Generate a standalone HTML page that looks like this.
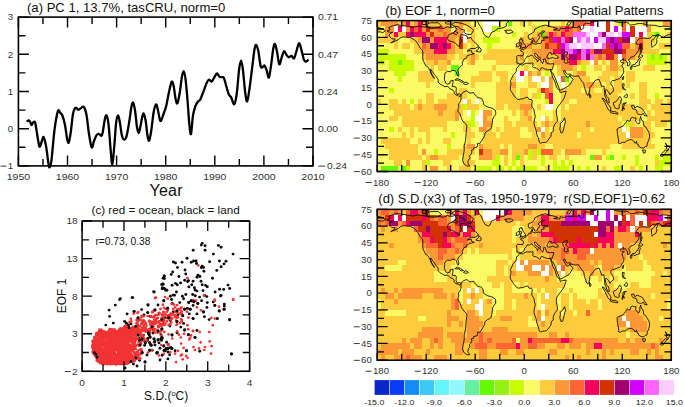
<!DOCTYPE html>
<html><head><meta charset="utf-8"><style>
html,body{margin:0;padding:0;background:#fff;}
body{width:685px;height:407px;overflow:hidden;}
svg{display:block;font-family:"Liberation Sans",sans-serif;}
</style></head><body>
<svg width="685" height="407" viewBox="0 0 685 407">
<path d="M27.50,121.00 C27.70,120.88 28.28,120.22 28.70,120.30 C29.12,120.38 29.55,120.73 30.00,121.50 C30.45,122.27 30.97,124.62 31.40,124.90 C31.83,125.18 32.20,123.68 32.60,123.20 C33.00,122.72 33.37,122.08 33.80,122.00 C34.23,121.92 34.73,121.22 35.20,122.70 C35.67,124.18 36.08,127.80 36.60,130.90 C37.12,134.00 37.77,138.65 38.30,141.30 C38.83,143.95 39.08,147.23 39.80,146.80 C40.52,146.37 41.93,140.25 42.60,138.70 C43.27,137.15 43.20,136.12 43.80,137.50 C44.40,138.88 45.40,142.50 46.20,147.00 C47.00,151.50 48.00,161.17 48.60,164.50 C49.20,167.83 49.32,167.75 49.80,167.00 C50.28,166.25 50.72,166.17 51.50,160.00 C52.28,153.83 53.43,138.13 54.50,130.00 C55.57,121.87 56.95,114.07 57.90,111.20 C58.85,108.33 59.45,112.08 60.20,112.80 C60.95,113.52 61.60,113.47 62.40,115.50 C63.20,117.53 64.23,121.25 65.00,125.00 C65.77,128.75 66.38,135.07 67.00,138.00 C67.62,140.93 68.07,143.60 68.70,142.60 C69.33,141.60 70.08,136.77 70.80,132.00 C71.52,127.23 72.20,118.05 73.00,114.00 C73.80,109.95 74.73,108.40 75.60,107.70 C76.47,107.00 77.38,109.67 78.20,109.80 C79.02,109.93 79.57,108.98 80.50,108.50 C81.43,108.02 82.80,105.82 83.80,106.90 C84.80,107.98 85.63,110.48 86.50,115.00 C87.37,119.52 88.13,128.60 89.00,134.00 C89.87,139.40 90.87,146.23 91.70,147.40 C92.53,148.57 93.18,143.05 94.00,141.00 C94.82,138.95 95.77,136.27 96.60,135.10 C97.43,133.93 98.18,133.88 99.00,134.00 C99.82,134.12 100.88,136.05 101.50,135.80 C102.12,135.55 102.13,135.28 102.70,132.50 C103.27,129.72 104.25,121.93 104.90,119.10 C105.55,116.27 105.98,114.52 106.60,115.50 C107.22,116.48 107.95,119.58 108.60,125.00 C109.25,130.42 109.88,141.40 110.50,148.00 C111.12,154.60 111.67,164.93 112.30,164.60 C112.93,164.27 113.67,152.93 114.30,146.00 C114.93,139.07 115.50,128.08 116.10,123.00 C116.70,117.92 117.28,115.67 117.90,115.50 C118.52,115.33 119.15,118.75 119.80,122.00 C120.45,125.25 121.13,132.08 121.80,135.00 C122.47,137.92 123.02,139.28 123.80,139.50 C124.58,139.72 125.60,139.22 126.50,136.30 C127.40,133.38 128.38,126.88 129.20,122.00 C130.02,117.12 130.73,110.22 131.40,107.00 C132.07,103.78 132.58,102.03 133.20,102.70 C133.82,103.37 134.48,107.03 135.10,111.00 C135.72,114.97 136.32,122.82 136.90,126.50 C137.48,130.18 138.00,133.18 138.60,133.10 C139.20,133.02 139.88,128.77 140.50,126.00 C141.12,123.23 141.77,118.55 142.30,116.50 C142.83,114.45 143.13,112.95 143.70,113.70 C144.27,114.45 145.08,117.45 145.70,121.00 C146.32,124.55 146.83,131.70 147.40,135.00 C147.97,138.30 148.47,141.47 149.10,140.80 C149.73,140.13 150.45,135.72 151.20,131.00 C151.95,126.28 152.80,116.93 153.60,112.50 C154.40,108.07 155.30,104.90 156.00,104.40 C156.70,103.90 157.22,107.23 157.80,109.50 C158.38,111.77 158.98,116.10 159.50,118.00 C160.02,119.90 160.25,121.48 160.90,120.90 C161.55,120.32 162.50,117.05 163.40,114.50 C164.30,111.95 165.40,109.18 166.30,105.60 C167.20,102.02 167.90,96.97 168.80,93.00 C169.70,89.03 170.88,82.88 171.70,81.80 C172.52,80.72 173.03,83.55 173.70,86.50 C174.37,89.45 175.08,96.72 175.70,99.50 C176.32,102.28 176.73,104.28 177.40,103.20 C178.07,102.12 178.98,97.20 179.70,93.00 C180.42,88.80 181.07,81.63 181.70,78.00 C182.33,74.37 182.88,71.20 183.50,71.20 C184.12,71.20 184.73,73.20 185.40,78.00 C186.07,82.80 186.85,92.33 187.50,100.00 C188.15,107.67 188.72,118.33 189.30,124.00 C189.88,129.67 190.40,135.33 191.00,134.00 C191.60,132.67 192.17,120.63 192.90,116.00 C193.63,111.37 194.57,108.58 195.40,106.20 C196.23,103.82 197.08,102.82 197.90,101.70 C198.72,100.58 199.37,101.22 200.30,99.50 C201.23,97.78 202.43,94.18 203.50,91.40 C204.57,88.62 205.80,84.77 206.70,82.80 C207.60,80.83 208.08,79.80 208.90,79.60 C209.72,79.40 210.72,81.95 211.60,81.60 C212.48,81.25 213.30,78.85 214.20,77.50 C215.10,76.15 216.12,73.63 217.00,73.50 C217.88,73.37 218.70,76.08 219.50,76.70 C220.30,77.32 221.07,77.00 221.80,77.20 C222.53,77.40 223.13,76.35 223.90,77.90 C224.67,79.45 225.58,83.75 226.40,86.50 C227.22,89.25 227.98,92.55 228.80,94.40 C229.62,96.25 230.40,95.97 231.30,97.60 C232.20,99.23 233.30,104.80 234.20,104.20 C235.10,103.60 235.88,99.78 236.70,94.00 C237.52,88.22 238.37,75.05 239.10,69.50 C239.83,63.95 240.47,60.70 241.10,60.70 C241.73,60.70 242.22,64.20 242.90,69.50 C243.58,74.80 244.48,87.20 245.20,92.50 C245.92,97.80 246.43,102.30 247.20,101.30 C247.97,100.30 248.95,92.30 249.80,86.50 C250.65,80.70 251.53,72.58 252.30,66.50 C253.07,60.42 253.78,53.62 254.40,50.00 C255.02,46.38 255.35,44.63 256.00,44.80 C256.65,44.97 257.53,47.47 258.30,51.00 C259.07,54.53 259.90,63.28 260.60,66.00 C261.30,68.72 261.83,67.37 262.50,67.30 C263.17,67.23 263.90,65.07 264.60,65.60 C265.30,66.13 265.98,68.50 266.70,70.50 C267.42,72.50 268.17,78.52 268.90,77.60 C269.63,76.68 270.37,69.85 271.10,65.00 C271.83,60.15 272.65,52.00 273.30,48.50 C273.95,45.00 274.38,43.50 275.00,44.00 C275.62,44.50 276.28,48.13 277.00,51.50 C277.72,54.87 278.52,63.23 279.30,64.20 C280.08,65.17 280.88,59.48 281.70,57.30 C282.52,55.12 283.37,51.43 284.20,51.10 C285.03,50.77 285.88,54.27 286.70,55.30 C287.52,56.33 288.30,57.22 289.10,57.30 C289.90,57.38 290.67,55.63 291.50,55.80 C292.33,55.97 293.32,58.93 294.10,58.30 C294.88,57.67 295.38,54.52 296.20,52.00 C297.02,49.48 298.15,43.62 299.00,43.20 C299.85,42.78 300.50,46.82 301.30,49.50 C302.10,52.18 303.05,57.27 303.80,59.30 C304.55,61.33 305.13,61.53 305.80,61.70 C306.47,61.87 307.47,60.53 307.80,60.30" fill="none" stroke="#000" stroke-width="2.3" stroke-linejoin="round" stroke-linecap="round"/>
<path d="M18.40,165.90v-10.50 M18.40,17.10v10.50 M42.95,165.90v-7.00 M42.95,17.10v7.00 M67.50,165.90v-10.50 M67.50,17.10v10.50 M92.05,165.90v-7.00 M92.05,17.10v7.00 M116.60,165.90v-10.50 M116.60,17.10v10.50 M141.15,165.90v-7.00 M141.15,17.10v7.00 M165.70,165.90v-10.50 M165.70,17.10v10.50 M190.25,165.90v-7.00 M190.25,17.10v7.00 M214.80,165.90v-10.50 M214.80,17.10v10.50 M239.35,165.90v-7.00 M239.35,17.10v7.00 M263.90,165.90v-10.50 M263.90,17.10v10.50 M288.45,165.90v-7.00 M288.45,17.10v7.00 M313.00,165.90v-10.50 M313.00,17.10v10.50 M18.40,17.10h10.50 M313.00,17.10h-10.50 M18.40,35.70h7.00 M313.00,35.70h-7.00 M18.40,54.30h10.50 M313.00,54.30h-10.50 M18.40,72.90h7.00 M313.00,72.90h-7.00 M18.40,91.50h10.50 M313.00,91.50h-10.50 M18.40,110.10h7.00 M313.00,110.10h-7.00 M18.40,128.70h10.50 M313.00,128.70h-10.50 M18.40,147.30h7.00 M313.00,147.30h-7.00 M18.40,165.90h10.50 M313.00,165.90h-10.50" stroke="#000" stroke-width="1.4" fill="none"/>
<rect x="18.40" y="17.10" width="294.60" height="148.80" fill="none" stroke="#000" stroke-width="1.6"/>
<text transform="translate(13.20,20.40) scale(1.120,1)" text-anchor="end" font-size="8.60" fill="#333">3</text>
<text transform="translate(13.20,57.60) scale(1.120,1)" text-anchor="end" font-size="8.60" fill="#333">2</text>
<text transform="translate(13.20,94.80) scale(1.120,1)" text-anchor="end" font-size="8.60" fill="#333">1</text>
<text transform="translate(13.20,132.00) scale(1.120,1)" text-anchor="end" font-size="8.60" fill="#333">0</text>
<rect x="0.54" y="165.65" width="6.00" height="0.95" fill="#333"/><text transform="translate(7.84,169.20) scale(1.120,1)" text-anchor="start" font-size="8.60" fill="#333">1</text>
<text transform="translate(318.00,20.40) scale(1.200,1)" text-anchor="start" font-size="8.60" fill="#333">0.71</text>
<text transform="translate(318.00,57.60) scale(1.200,1)" text-anchor="start" font-size="8.60" fill="#333">0.47</text>
<text transform="translate(318.00,94.80) scale(1.200,1)" text-anchor="start" font-size="8.60" fill="#333">0.24</text>
<text transform="translate(318.00,132.00) scale(1.200,1)" text-anchor="start" font-size="8.60" fill="#333">0.00</text>
<rect x="318.30" y="165.65" width="7.00" height="0.95" fill="#333"/><text transform="translate(327.00,169.20) scale(1.200,1)" text-anchor="start" font-size="8.60" fill="#333">0.24</text>
<text transform="translate(18.40,180.10) scale(1.220,1)" text-anchor="middle" font-size="8.60" fill="#333">1950</text>
<text transform="translate(67.50,180.10) scale(1.220,1)" text-anchor="middle" font-size="8.60" fill="#333">1960</text>
<text transform="translate(116.60,180.10) scale(1.220,1)" text-anchor="middle" font-size="8.60" fill="#333">1970</text>
<text transform="translate(165.70,180.10) scale(1.220,1)" text-anchor="middle" font-size="8.60" fill="#333">1980</text>
<text transform="translate(214.80,180.10) scale(1.220,1)" text-anchor="middle" font-size="8.60" fill="#333">1990</text>
<text transform="translate(263.90,180.10) scale(1.220,1)" text-anchor="middle" font-size="8.60" fill="#333">2000</text>
<text transform="translate(313.00,180.10) scale(1.220,1)" text-anchor="middle" font-size="8.60" fill="#333">2010</text>
<text x="166.1" y="196.1" text-anchor="middle" font-size="16" letter-spacing="0.25" fill="#111">Year</text>
<text x="27" y="11.6" font-size="13.1" fill="#111">(a) PC 1, 13.7%, tasCRU, norm=0</text>
<g fill="#0a0a0a"><circle cx="202.2" cy="243.4" r="1.45"/><circle cx="201.3" cy="245.1" r="1.45"/><circle cx="205.1" cy="245.8" r="1.45"/><circle cx="205.1" cy="250.3" r="1.45"/><circle cx="193.2" cy="250.3" r="1.45"/><circle cx="218.5" cy="245.5" r="1.45"/><circle cx="221.1" cy="247.2" r="1.45"/><circle cx="213.4" cy="254.1" r="1.45"/><circle cx="233.1" cy="254.1" r="1.45"/><circle cx="175.5" cy="263.0" r="1.45"/><circle cx="182.0" cy="262.2" r="1.45"/><circle cx="191.3" cy="262.2" r="1.45"/><circle cx="193.6" cy="261.0" r="1.45"/><circle cx="196.1" cy="261.0" r="1.45"/><circle cx="196.5" cy="263.5" r="1.45"/><circle cx="202.2" cy="266.1" r="1.45"/><circle cx="203.5" cy="267.5" r="1.45"/><circle cx="201.3" cy="267.5" r="1.45"/><circle cx="209.6" cy="261.8" r="1.45"/><circle cx="219.4" cy="261.0" r="1.45"/><circle cx="221.1" cy="266.7" r="1.45"/><circle cx="224.0" cy="263.9" r="1.45"/><circle cx="216.8" cy="270.4" r="1.45"/><circle cx="185.0" cy="270.0" r="1.45"/><circle cx="185.8" cy="274.0" r="1.45"/><circle cx="171.2" cy="274.4" r="1.45"/><circle cx="164.3" cy="276.1" r="1.45"/><circle cx="163.1" cy="278.2" r="1.45"/><circle cx="178.9" cy="276.5" r="1.45"/><circle cx="197.0" cy="277.3" r="1.45"/><circle cx="200.0" cy="276.5" r="1.45"/><circle cx="201.0" cy="281.3" r="1.45"/><circle cx="212.5" cy="278.2" r="1.45"/><circle cx="187.5" cy="281.6" r="1.45"/><circle cx="191.8" cy="284.7" r="1.45"/><circle cx="175.5" cy="283.4" r="1.45"/><circle cx="177.2" cy="284.7" r="1.45"/><circle cx="163.1" cy="284.2" r="1.45"/><circle cx="164.3" cy="288.5" r="1.45"/><circle cx="166.0" cy="290.2" r="1.45"/><circle cx="202.2" cy="284.7" r="1.45"/><circle cx="205.6" cy="285.4" r="1.45"/><circle cx="207.3" cy="286.8" r="1.45"/><circle cx="194.4" cy="287.7" r="1.45"/><circle cx="228.0" cy="285.1" r="1.45"/><circle cx="229.7" cy="288.5" r="1.45"/><circle cx="223.7" cy="289.4" r="1.45"/><circle cx="197.0" cy="291.1" r="1.45"/><circle cx="203.0" cy="290.6" r="1.45"/><circle cx="176.4" cy="292.0" r="1.45"/><circle cx="215.1" cy="292.0" r="1.45"/><circle cx="221.1" cy="295.4" r="1.45"/><circle cx="185.8" cy="294.5" r="1.45"/><circle cx="182.4" cy="296.3" r="1.45"/><circle cx="192.7" cy="294.5" r="1.45"/><circle cx="195.3" cy="295.7" r="1.45"/><circle cx="199.6" cy="297.1" r="1.45"/><circle cx="204.7" cy="295.4" r="1.45"/><circle cx="170.3" cy="296.3" r="1.45"/><circle cx="172.9" cy="295.1" r="1.45"/><circle cx="163.8" cy="300.7" r="1.45"/><circle cx="172.3" cy="303.5" r="1.45"/><circle cx="167.6" cy="308.2" r="1.45"/><circle cx="173.2" cy="312.0" r="1.45"/><circle cx="177.0" cy="311.1" r="1.45"/><circle cx="179.8" cy="302.6" r="1.45"/><circle cx="183.6" cy="298.8" r="1.45"/><circle cx="184.6" cy="309.2" r="1.45"/><circle cx="187.4" cy="308.2" r="1.45"/><circle cx="190.2" cy="309.2" r="1.45"/><circle cx="193.1" cy="305.4" r="1.45"/><circle cx="197.8" cy="303.5" r="1.45"/><circle cx="201.6" cy="300.7" r="1.45"/><circle cx="191.2" cy="300.7" r="1.45"/><circle cx="207.3" cy="302.6" r="1.45"/><circle cx="214.8" cy="305.4" r="1.45"/><circle cx="224.3" cy="304.1" r="1.45"/><circle cx="220.5" cy="296.0" r="1.45"/><circle cx="203.5" cy="312.0" r="1.45"/><circle cx="196.9" cy="313.9" r="1.45"/><circle cx="193.1" cy="318.6" r="1.45"/><circle cx="189.3" cy="313.9" r="1.45"/><circle cx="182.7" cy="315.8" r="1.45"/><circle cx="178.0" cy="314.8" r="1.45"/><circle cx="161.9" cy="319.6" r="1.45"/><circle cx="164.7" cy="317.7" r="1.45"/><circle cx="168.5" cy="317.7" r="1.45"/><circle cx="170.4" cy="320.5" r="1.45"/><circle cx="177.0" cy="321.5" r="1.45"/><circle cx="183.6" cy="323.4" r="1.45"/><circle cx="184.6" cy="330.0" r="1.45"/><circle cx="180.8" cy="327.1" r="1.45"/><circle cx="188.4" cy="334.7" r="1.45"/><circle cx="196.9" cy="330.5" r="1.45"/><circle cx="195.0" cy="337.5" r="1.45"/><circle cx="209.1" cy="319.6" r="1.45"/><circle cx="161.9" cy="329.0" r="1.45"/><circle cx="161.0" cy="334.7" r="1.45"/><circle cx="161.9" cy="337.5" r="1.45"/><circle cx="166.6" cy="342.3" r="1.45"/><circle cx="163.8" cy="346.0" r="1.45"/><circle cx="175.1" cy="350.8" r="1.45"/><circle cx="186.5" cy="350.8" r="1.45"/><circle cx="199.7" cy="351.3" r="1.45"/><circle cx="231.5" cy="354.0" r="1.45"/><circle cx="177.0" cy="332.8" r="1.45"/><circle cx="119.6" cy="299.6" r="1.45"/><circle cx="132.1" cy="297.6" r="1.45"/><circle cx="115.3" cy="305.1" r="1.45"/><circle cx="109.1" cy="310.1" r="1.45"/><circle cx="109.6" cy="316.4" r="1.45"/><circle cx="127.1" cy="313.9" r="1.45"/><circle cx="134.1" cy="311.4" r="1.45"/><circle cx="141.6" cy="309.6" r="1.45"/><circle cx="147.7" cy="312.6" r="1.45"/><circle cx="154.2" cy="292.1" r="1.45"/><circle cx="161.7" cy="284.5" r="1.45"/><circle cx="162.2" cy="288.8" r="1.45"/><circle cx="150.2" cy="316.4" r="1.45"/><circle cx="105.8" cy="325.1" r="1.45"/><circle cx="113.3" cy="323.1" r="1.45"/><circle cx="124.6" cy="321.4" r="1.45"/><circle cx="128.4" cy="325.1" r="1.45"/><circle cx="130.9" cy="323.9" r="1.45"/><circle cx="135.9" cy="326.4" r="1.45"/><circle cx="142.2" cy="322.6" r="1.45"/><circle cx="97.0" cy="357.7" r="1.45"/><circle cx="94.5" cy="352.7" r="1.45"/><circle cx="135.9" cy="357.7" r="1.45"/><circle cx="139.6" cy="360.2" r="1.45"/><circle cx="130.9" cy="361.5" r="1.45"/><circle cx="133.4" cy="364.0" r="1.45"/><circle cx="142.2" cy="352.7" r="1.45"/><circle cx="144.7" cy="345.2" r="1.45"/><circle cx="149.7" cy="342.7" r="1.45"/><circle cx="152.2" cy="350.2" r="1.45"/><circle cx="157.2" cy="352.7" r="1.45"/><circle cx="162.2" cy="355.2" r="1.45"/><circle cx="139.6" cy="340.2" r="1.45"/><circle cx="143.4" cy="335.2" r="1.45"/><circle cx="148.4" cy="332.7" r="1.45"/><circle cx="164.1" cy="276.0" r="1.45"/><circle cx="164.5" cy="278.6" r="1.45"/><circle cx="162.9" cy="283.9" r="1.45"/><circle cx="162.5" cy="287.8" r="1.45"/><circle cx="165.5" cy="289.7" r="1.45"/><circle cx="166.9" cy="290.3" r="1.45"/><circle cx="153.7" cy="291.7" r="1.45"/><circle cx="120.3" cy="298.6" r="1.45"/><circle cx="132.7" cy="297.6" r="1.45"/><circle cx="145.0" cy="330.0" r="1.45"/><circle cx="152.0" cy="327.0" r="1.45"/><circle cx="156.0" cy="322.0" r="1.45"/><circle cx="150.0" cy="337.0" r="1.45"/><circle cx="155.0" cy="345.0" r="1.45"/><circle cx="140.0" cy="345.0" r="1.45"/><circle cx="147.0" cy="355.0" r="1.45"/><circle cx="158.0" cy="340.0" r="1.45"/><circle cx="160.0" cy="360.0" r="1.45"/><circle cx="145.0" cy="362.0" r="1.45"/><circle cx="137.0" cy="366.0" r="1.45"/><circle cx="125.0" cy="368.0" r="1.45"/><circle cx="138.0" cy="318.0" r="1.45"/><circle cx="144.0" cy="315.0" r="1.45"/><circle cx="155.0" cy="310.0" r="1.45"/><circle cx="158.0" cy="305.0" r="1.45"/><circle cx="148.0" cy="305.0" r="1.45"/><circle cx="170.0" cy="326.0" r="1.45"/><circle cx="172.0" cy="335.0" r="1.45"/><circle cx="168.0" cy="352.0" r="1.45"/><circle cx="158.0" cy="331.0" r="1.45"/><circle cx="153.0" cy="333.0" r="1.45"/><circle cx="154.0" cy="338.9" r="1.45"/><circle cx="167.9" cy="358.9" r="1.45"/><circle cx="149.0" cy="334.6" r="1.45"/><circle cx="168.3" cy="344.5" r="1.45"/><circle cx="170.6" cy="347.8" r="1.45"/><circle cx="126.4" cy="323.3" r="1.45"/><circle cx="145.4" cy="330.7" r="1.45"/><circle cx="145.3" cy="342.8" r="1.45"/><circle cx="132.6" cy="335.4" r="1.45"/><circle cx="149.7" cy="350.3" r="1.45"/><circle cx="160.0" cy="348.3" r="1.45"/><circle cx="126.1" cy="335.1" r="1.45"/><circle cx="129.0" cy="327.7" r="1.45"/><circle cx="169.6" cy="354.7" r="1.45"/><circle cx="125.5" cy="326.1" r="1.45"/><circle cx="166.1" cy="348.8" r="1.45"/><circle cx="125.4" cy="331.9" r="1.45"/><circle cx="138.6" cy="331.2" r="1.45"/><circle cx="125.1" cy="326.9" r="1.45"/><circle cx="154.7" cy="341.7" r="1.45"/><circle cx="147.7" cy="338.5" r="1.45"/><circle cx="156.9" cy="353.0" r="1.45"/><circle cx="123.4" cy="338.2" r="1.45"/><circle cx="161.5" cy="340.4" r="1.45"/><circle cx="168.0" cy="348.3" r="1.45"/><circle cx="142.4" cy="339.8" r="1.45"/><circle cx="167.7" cy="348.6" r="1.45"/><circle cx="159.0" cy="342.9" r="1.45"/><circle cx="162.0" cy="338.6" r="1.45"/><circle cx="165.3" cy="350.8" r="1.45"/><circle cx="142.0" cy="338.9" r="1.45"/><circle cx="160.8" cy="338.9" r="1.45"/><circle cx="164.1" cy="350.4" r="1.45"/><circle cx="150.5" cy="344.4" r="1.45"/><circle cx="138.1" cy="335.0" r="1.45"/><circle cx="143.1" cy="337.7" r="1.45"/><circle cx="171.9" cy="348.4" r="1.45"/><circle cx="139.4" cy="338.0" r="1.45"/><circle cx="151.2" cy="345.2" r="1.45"/><circle cx="147.3" cy="340.3" r="1.45"/><circle cx="188.7" cy="302.5" r="1.45"/><circle cx="173.4" cy="262.0" r="1.45"/><circle cx="224.3" cy="306.0" r="1.45"/><circle cx="206.8" cy="296.6" r="1.45"/><circle cx="177.5" cy="267.5" r="1.45"/><circle cx="193.9" cy="301.7" r="1.45"/><circle cx="195.1" cy="290.0" r="1.45"/><circle cx="170.2" cy="318.7" r="1.45"/><circle cx="180.6" cy="282.9" r="1.45"/><circle cx="217.3" cy="318.6" r="1.45"/><circle cx="188.9" cy="286.9" r="1.45"/><circle cx="219.6" cy="289.3" r="1.45"/><circle cx="172.7" cy="271.9" r="1.45"/><circle cx="187.0" cy="258.2" r="1.45"/><circle cx="169.1" cy="315.2" r="1.45"/><circle cx="219.2" cy="311.0" r="1.45"/><circle cx="184.7" cy="280.3" r="1.45"/><circle cx="226.0" cy="261.3" r="1.45"/><circle cx="193.1" cy="281.3" r="1.45"/><circle cx="213.3" cy="301.9" r="1.45"/><circle cx="229.6" cy="319.8" r="1.45"/><circle cx="204.4" cy="316.7" r="1.45"/><circle cx="203.9" cy="271.2" r="1.45"/><circle cx="198.0" cy="275.2" r="1.45"/><circle cx="224.1" cy="309.3" r="1.45"/><circle cx="171.6" cy="299.5" r="1.45"/><circle cx="206.9" cy="307.4" r="1.45"/><circle cx="174.5" cy="295.3" r="1.45"/><circle cx="172.1" cy="285.3" r="1.45"/><circle cx="188.5" cy="280.8" r="1.45"/></g>
<g fill="#f23434"><circle cx="198.2" cy="265.3" r="1.35"/><circle cx="187.5" cy="278.2" r="1.35"/><circle cx="167.7" cy="298.5" r="1.35"/><circle cx="214.7" cy="299.7" r="1.35"/><circle cx="233.1" cy="299.4" r="1.35"/><circle cx="175.1" cy="307.3" r="1.35"/><circle cx="174.2" cy="314.8" r="1.35"/><circle cx="176.1" cy="320.5" r="1.35"/><circle cx="171.3" cy="322.4" r="1.35"/><circle cx="166.6" cy="312.0" r="1.35"/><circle cx="162.8" cy="325.2" r="1.35"/><circle cx="181.7" cy="321.5" r="1.35"/><circle cx="187.4" cy="325.2" r="1.35"/><circle cx="188.4" cy="317.7" r="1.35"/><circle cx="196.9" cy="307.3" r="1.35"/><circle cx="195.9" cy="300.7" r="1.35"/><circle cx="214.8" cy="300.7" r="1.35"/><circle cx="219.0" cy="306.7" r="1.35"/><circle cx="214.8" cy="318.6" r="1.35"/><circle cx="233.3" cy="299.7" r="1.35"/><circle cx="168.5" cy="334.3" r="1.35"/><circle cx="172.3" cy="338.5" r="1.35"/><circle cx="178.9" cy="334.7" r="1.35"/><circle cx="180.8" cy="337.5" r="1.35"/><circle cx="189.3" cy="339.4" r="1.35"/><circle cx="193.1" cy="330.9" r="1.35"/><circle cx="199.7" cy="331.9" r="1.35"/><circle cx="200.6" cy="342.3" r="1.35"/><circle cx="205.0" cy="347.0" r="1.35"/><circle cx="171.3" cy="347.9" r="1.35"/><circle cx="178.0" cy="350.8" r="1.35"/><circle cx="183.6" cy="347.9" r="1.35"/><circle cx="175.1" cy="353.6" r="1.35"/><circle cx="163.8" cy="353.6" r="1.35"/><circle cx="180.8" cy="355.5" r="1.35"/><circle cx="186.1" cy="355.9" r="1.35"/><circle cx="182.7" cy="359.3" r="1.35"/><circle cx="176.1" cy="362.1" r="1.35"/><circle cx="161.0" cy="331.0" r="1.35"/><circle cx="142.2" cy="315.9" r="1.35"/><circle cx="130.9" cy="318.9" r="1.35"/><circle cx="157.2" cy="315.1" r="1.35"/><circle cx="156.0" cy="297.6" r="1.35"/><circle cx="163.5" cy="317.6" r="1.35"/><circle cx="155.1" cy="298.2" r="1.35"/><circle cx="165.0" cy="297.0" r="1.35"/><circle cx="133.8" cy="313.6" r="1.35"/><circle cx="114.9" cy="347.8" r="1.35"/><circle cx="115.5" cy="345.8" r="1.35"/><circle cx="101.6" cy="346.0" r="1.35"/><circle cx="131.8" cy="329.7" r="1.35"/><circle cx="97.0" cy="357.6" r="1.35"/><circle cx="124.9" cy="350.0" r="1.35"/><circle cx="93.2" cy="346.6" r="1.35"/><circle cx="101.9" cy="335.4" r="1.35"/><circle cx="115.5" cy="343.2" r="1.35"/><circle cx="118.2" cy="351.0" r="1.35"/><circle cx="125.3" cy="343.8" r="1.35"/><circle cx="127.5" cy="338.3" r="1.35"/><circle cx="112.3" cy="359.0" r="1.35"/><circle cx="139.9" cy="359.0" r="1.35"/><circle cx="102.9" cy="361.5" r="1.35"/><circle cx="141.0" cy="341.5" r="1.35"/><circle cx="123.7" cy="356.4" r="1.35"/><circle cx="96.8" cy="339.0" r="1.35"/><circle cx="130.0" cy="330.6" r="1.35"/><circle cx="101.3" cy="347.8" r="1.35"/><circle cx="101.9" cy="354.5" r="1.35"/><circle cx="124.4" cy="330.5" r="1.35"/><circle cx="103.0" cy="336.5" r="1.35"/><circle cx="102.9" cy="341.4" r="1.35"/><circle cx="103.1" cy="336.1" r="1.35"/><circle cx="108.8" cy="337.6" r="1.35"/><circle cx="97.0" cy="348.7" r="1.35"/><circle cx="122.3" cy="340.5" r="1.35"/><circle cx="135.4" cy="333.1" r="1.35"/><circle cx="137.5" cy="357.9" r="1.35"/><circle cx="101.9" cy="354.8" r="1.35"/><circle cx="102.2" cy="363.1" r="1.35"/><circle cx="122.4" cy="342.4" r="1.35"/><circle cx="122.0" cy="337.4" r="1.35"/><circle cx="120.2" cy="359.2" r="1.35"/><circle cx="106.4" cy="361.8" r="1.35"/><circle cx="120.8" cy="331.1" r="1.35"/><circle cx="126.7" cy="348.8" r="1.35"/><circle cx="127.2" cy="363.5" r="1.35"/><circle cx="124.0" cy="344.8" r="1.35"/><circle cx="119.5" cy="354.7" r="1.35"/><circle cx="123.4" cy="340.9" r="1.35"/><circle cx="122.6" cy="329.1" r="1.35"/><circle cx="111.7" cy="354.7" r="1.35"/><circle cx="114.3" cy="358.7" r="1.35"/><circle cx="116.3" cy="335.0" r="1.35"/><circle cx="117.1" cy="350.0" r="1.35"/><circle cx="126.1" cy="333.9" r="1.35"/><circle cx="102.3" cy="342.8" r="1.35"/><circle cx="121.4" cy="338.3" r="1.35"/><circle cx="117.1" cy="358.6" r="1.35"/><circle cx="127.7" cy="363.1" r="1.35"/><circle cx="100.9" cy="343.6" r="1.35"/><circle cx="103.1" cy="342.1" r="1.35"/><circle cx="116.9" cy="338.3" r="1.35"/><circle cx="141.1" cy="343.6" r="1.35"/><circle cx="127.6" cy="348.3" r="1.35"/><circle cx="104.3" cy="331.5" r="1.35"/><circle cx="123.6" cy="343.4" r="1.35"/><circle cx="126.4" cy="333.8" r="1.35"/><circle cx="127.9" cy="333.0" r="1.35"/><circle cx="109.6" cy="353.2" r="1.35"/><circle cx="122.9" cy="355.5" r="1.35"/><circle cx="131.7" cy="361.3" r="1.35"/><circle cx="138.7" cy="354.2" r="1.35"/><circle cx="115.0" cy="350.4" r="1.35"/><circle cx="111.2" cy="348.2" r="1.35"/><circle cx="124.7" cy="334.0" r="1.35"/><circle cx="103.1" cy="361.1" r="1.35"/><circle cx="108.4" cy="361.5" r="1.35"/><circle cx="109.8" cy="329.2" r="1.35"/><circle cx="119.7" cy="356.0" r="1.35"/><circle cx="132.1" cy="332.7" r="1.35"/><circle cx="131.5" cy="331.5" r="1.35"/><circle cx="118.1" cy="354.2" r="1.35"/><circle cx="126.6" cy="362.9" r="1.35"/><circle cx="139.5" cy="329.4" r="1.35"/><circle cx="118.6" cy="337.3" r="1.35"/><circle cx="124.1" cy="346.4" r="1.35"/><circle cx="120.2" cy="338.2" r="1.35"/><circle cx="134.3" cy="361.1" r="1.35"/><circle cx="120.9" cy="333.8" r="1.35"/><circle cx="117.4" cy="349.6" r="1.35"/><circle cx="132.2" cy="348.0" r="1.35"/><circle cx="113.0" cy="363.3" r="1.35"/><circle cx="105.8" cy="344.5" r="1.35"/><circle cx="114.0" cy="357.8" r="1.35"/><circle cx="116.1" cy="338.4" r="1.35"/><circle cx="123.1" cy="362.1" r="1.35"/><circle cx="103.7" cy="352.8" r="1.35"/><circle cx="110.1" cy="350.2" r="1.35"/><circle cx="128.7" cy="330.8" r="1.35"/><circle cx="104.9" cy="333.7" r="1.35"/><circle cx="114.1" cy="340.7" r="1.35"/><circle cx="118.7" cy="332.2" r="1.35"/><circle cx="123.8" cy="350.9" r="1.35"/><circle cx="104.0" cy="354.9" r="1.35"/><circle cx="137.2" cy="338.3" r="1.35"/><circle cx="136.4" cy="331.2" r="1.35"/><circle cx="128.5" cy="336.1" r="1.35"/><circle cx="98.7" cy="341.7" r="1.35"/><circle cx="117.5" cy="355.6" r="1.35"/><circle cx="126.4" cy="333.4" r="1.35"/><circle cx="118.0" cy="348.2" r="1.35"/><circle cx="101.6" cy="334.0" r="1.35"/><circle cx="130.4" cy="338.7" r="1.35"/><circle cx="118.0" cy="342.8" r="1.35"/><circle cx="93.2" cy="353.3" r="1.35"/><circle cx="101.5" cy="343.7" r="1.35"/><circle cx="112.6" cy="333.6" r="1.35"/><circle cx="123.7" cy="341.8" r="1.35"/><circle cx="105.3" cy="361.5" r="1.35"/><circle cx="131.0" cy="357.8" r="1.35"/><circle cx="130.5" cy="355.8" r="1.35"/><circle cx="124.1" cy="350.3" r="1.35"/><circle cx="125.2" cy="348.2" r="1.35"/><circle cx="93.6" cy="350.0" r="1.35"/><circle cx="105.2" cy="341.7" r="1.35"/><circle cx="102.2" cy="340.7" r="1.35"/><circle cx="104.9" cy="361.3" r="1.35"/><circle cx="117.6" cy="363.7" r="1.35"/><circle cx="96.3" cy="349.3" r="1.35"/><circle cx="115.9" cy="332.6" r="1.35"/><circle cx="113.3" cy="346.5" r="1.35"/><circle cx="110.6" cy="337.1" r="1.35"/><circle cx="120.3" cy="337.1" r="1.35"/><circle cx="111.8" cy="361.0" r="1.35"/><circle cx="116.1" cy="364.0" r="1.35"/><circle cx="118.4" cy="362.6" r="1.35"/><circle cx="115.7" cy="364.2" r="1.35"/><circle cx="122.4" cy="330.5" r="1.35"/><circle cx="115.1" cy="333.9" r="1.35"/><circle cx="118.6" cy="330.8" r="1.35"/><circle cx="125.6" cy="343.8" r="1.35"/><circle cx="121.3" cy="342.4" r="1.35"/><circle cx="128.8" cy="335.3" r="1.35"/><circle cx="110.3" cy="336.6" r="1.35"/><circle cx="120.5" cy="349.1" r="1.35"/><circle cx="129.8" cy="333.4" r="1.35"/><circle cx="113.5" cy="350.3" r="1.35"/><circle cx="126.0" cy="347.5" r="1.35"/><circle cx="111.0" cy="344.7" r="1.35"/><circle cx="109.5" cy="355.0" r="1.35"/><circle cx="123.4" cy="356.0" r="1.35"/><circle cx="113.5" cy="336.1" r="1.35"/><circle cx="110.8" cy="351.5" r="1.35"/><circle cx="108.6" cy="347.4" r="1.35"/><circle cx="97.3" cy="360.1" r="1.35"/><circle cx="96.6" cy="348.0" r="1.35"/><circle cx="96.3" cy="334.3" r="1.35"/><circle cx="96.5" cy="337.8" r="1.35"/><circle cx="126.9" cy="337.0" r="1.35"/><circle cx="110.2" cy="354.3" r="1.35"/><circle cx="98.3" cy="353.7" r="1.35"/><circle cx="114.2" cy="357.3" r="1.35"/><circle cx="108.2" cy="341.6" r="1.35"/><circle cx="110.6" cy="340.2" r="1.35"/><circle cx="111.7" cy="333.6" r="1.35"/><circle cx="120.4" cy="332.9" r="1.35"/><circle cx="136.1" cy="337.0" r="1.35"/><circle cx="118.0" cy="347.2" r="1.35"/><circle cx="95.7" cy="347.3" r="1.35"/><circle cx="99.6" cy="355.1" r="1.35"/><circle cx="104.6" cy="334.6" r="1.35"/><circle cx="118.3" cy="355.8" r="1.35"/><circle cx="109.2" cy="363.8" r="1.35"/><circle cx="116.9" cy="347.0" r="1.35"/><circle cx="127.6" cy="361.7" r="1.35"/><circle cx="127.6" cy="357.3" r="1.35"/><circle cx="113.3" cy="331.7" r="1.35"/><circle cx="102.6" cy="342.6" r="1.35"/><circle cx="98.2" cy="351.3" r="1.35"/><circle cx="121.4" cy="361.5" r="1.35"/><circle cx="97.9" cy="333.2" r="1.35"/><circle cx="104.2" cy="354.0" r="1.35"/><circle cx="103.6" cy="333.2" r="1.35"/><circle cx="101.0" cy="355.5" r="1.35"/><circle cx="119.6" cy="357.9" r="1.35"/><circle cx="105.4" cy="360.6" r="1.35"/><circle cx="109.4" cy="347.3" r="1.35"/><circle cx="116.4" cy="334.6" r="1.35"/><circle cx="118.6" cy="346.1" r="1.35"/><circle cx="93.0" cy="344.4" r="1.35"/><circle cx="100.3" cy="332.1" r="1.35"/><circle cx="105.3" cy="359.9" r="1.35"/><circle cx="119.0" cy="331.9" r="1.35"/><circle cx="133.2" cy="329.2" r="1.35"/><circle cx="128.0" cy="329.8" r="1.35"/><circle cx="115.7" cy="363.3" r="1.35"/><circle cx="113.1" cy="361.8" r="1.35"/><circle cx="118.5" cy="332.1" r="1.35"/><circle cx="107.9" cy="338.1" r="1.35"/><circle cx="107.6" cy="344.2" r="1.35"/><circle cx="110.3" cy="352.8" r="1.35"/><circle cx="112.0" cy="344.0" r="1.35"/><circle cx="133.6" cy="351.5" r="1.35"/><circle cx="111.2" cy="353.7" r="1.35"/><circle cx="120.4" cy="343.9" r="1.35"/><circle cx="123.0" cy="337.3" r="1.35"/><circle cx="119.2" cy="337.6" r="1.35"/><circle cx="111.9" cy="352.0" r="1.35"/><circle cx="102.4" cy="354.5" r="1.35"/><circle cx="108.9" cy="358.2" r="1.35"/><circle cx="99.5" cy="329.7" r="1.35"/><circle cx="127.6" cy="333.0" r="1.35"/><circle cx="133.9" cy="349.1" r="1.35"/><circle cx="103.7" cy="332.1" r="1.35"/><circle cx="113.6" cy="346.0" r="1.35"/><circle cx="130.5" cy="358.0" r="1.35"/><circle cx="108.9" cy="342.1" r="1.35"/><circle cx="112.3" cy="353.3" r="1.35"/><circle cx="124.7" cy="330.1" r="1.35"/><circle cx="117.7" cy="356.8" r="1.35"/><circle cx="122.8" cy="332.2" r="1.35"/><circle cx="117.3" cy="331.5" r="1.35"/><circle cx="123.5" cy="333.7" r="1.35"/><circle cx="104.6" cy="348.5" r="1.35"/><circle cx="108.8" cy="362.2" r="1.35"/><circle cx="115.4" cy="330.8" r="1.35"/><circle cx="99.2" cy="361.3" r="1.35"/><circle cx="120.3" cy="347.9" r="1.35"/><circle cx="122.3" cy="330.8" r="1.35"/><circle cx="106.8" cy="361.0" r="1.35"/><circle cx="120.9" cy="358.4" r="1.35"/><circle cx="119.6" cy="329.0" r="1.35"/><circle cx="125.1" cy="338.0" r="1.35"/><circle cx="129.0" cy="340.9" r="1.35"/><circle cx="115.7" cy="331.6" r="1.35"/><circle cx="120.7" cy="332.8" r="1.35"/><circle cx="105.6" cy="348.2" r="1.35"/><circle cx="124.3" cy="327.5" r="1.35"/><circle cx="115.8" cy="342.0" r="1.35"/><circle cx="126.6" cy="355.6" r="1.35"/><circle cx="120.5" cy="361.3" r="1.35"/><circle cx="118.5" cy="342.9" r="1.35"/><circle cx="129.7" cy="337.9" r="1.35"/><circle cx="117.4" cy="341.5" r="1.35"/><circle cx="126.9" cy="346.5" r="1.35"/><circle cx="107.7" cy="341.4" r="1.35"/><circle cx="125.5" cy="359.8" r="1.35"/><circle cx="120.6" cy="361.2" r="1.35"/><circle cx="131.7" cy="330.8" r="1.35"/><circle cx="107.3" cy="338.7" r="1.35"/><circle cx="110.1" cy="348.8" r="1.35"/><circle cx="117.2" cy="362.4" r="1.35"/><circle cx="115.9" cy="334.1" r="1.35"/><circle cx="101.0" cy="360.3" r="1.35"/><circle cx="102.5" cy="350.7" r="1.35"/><circle cx="136.1" cy="328.0" r="1.35"/><circle cx="135.5" cy="353.8" r="1.35"/><circle cx="126.9" cy="362.6" r="1.35"/><circle cx="96.4" cy="334.7" r="1.35"/><circle cx="127.7" cy="333.7" r="1.35"/><circle cx="104.2" cy="351.9" r="1.35"/><circle cx="110.9" cy="351.8" r="1.35"/><circle cx="121.7" cy="334.9" r="1.35"/><circle cx="114.3" cy="346.6" r="1.35"/><circle cx="94.7" cy="349.4" r="1.35"/><circle cx="104.9" cy="357.3" r="1.35"/><circle cx="106.6" cy="355.5" r="1.35"/><circle cx="106.3" cy="347.4" r="1.35"/><circle cx="115.4" cy="355.3" r="1.35"/><circle cx="138.5" cy="345.5" r="1.35"/><circle cx="120.0" cy="351.2" r="1.35"/><circle cx="125.1" cy="356.5" r="1.35"/><circle cx="117.5" cy="359.0" r="1.35"/><circle cx="118.3" cy="363.1" r="1.35"/><circle cx="104.1" cy="343.2" r="1.35"/><circle cx="131.4" cy="356.9" r="1.35"/><circle cx="116.7" cy="334.6" r="1.35"/><circle cx="101.4" cy="331.9" r="1.35"/><circle cx="117.1" cy="343.0" r="1.35"/><circle cx="105.5" cy="357.1" r="1.35"/><circle cx="131.7" cy="335.3" r="1.35"/><circle cx="123.2" cy="346.5" r="1.35"/><circle cx="121.6" cy="329.5" r="1.35"/><circle cx="101.0" cy="335.9" r="1.35"/><circle cx="95.5" cy="342.0" r="1.35"/><circle cx="103.2" cy="363.9" r="1.35"/><circle cx="116.7" cy="355.7" r="1.35"/><circle cx="99.7" cy="343.8" r="1.35"/><circle cx="99.5" cy="341.3" r="1.35"/><circle cx="103.9" cy="335.9" r="1.35"/><circle cx="104.5" cy="344.0" r="1.35"/><circle cx="110.5" cy="339.1" r="1.35"/><circle cx="124.7" cy="328.3" r="1.35"/><circle cx="126.9" cy="359.7" r="1.35"/><circle cx="103.2" cy="339.5" r="1.35"/><circle cx="119.7" cy="332.4" r="1.35"/><circle cx="103.1" cy="344.2" r="1.35"/><circle cx="135.2" cy="334.0" r="1.35"/><circle cx="96.1" cy="353.0" r="1.35"/><circle cx="105.5" cy="341.3" r="1.35"/><circle cx="127.9" cy="336.5" r="1.35"/><circle cx="100.1" cy="362.5" r="1.35"/><circle cx="130.7" cy="346.3" r="1.35"/><circle cx="112.0" cy="335.3" r="1.35"/><circle cx="100.0" cy="349.2" r="1.35"/><circle cx="108.0" cy="342.5" r="1.35"/><circle cx="99.2" cy="353.6" r="1.35"/><circle cx="128.4" cy="352.0" r="1.35"/><circle cx="102.6" cy="336.9" r="1.35"/><circle cx="112.6" cy="341.1" r="1.35"/><circle cx="103.7" cy="337.4" r="1.35"/><circle cx="123.7" cy="348.1" r="1.35"/><circle cx="104.1" cy="350.7" r="1.35"/><circle cx="113.7" cy="341.3" r="1.35"/><circle cx="111.5" cy="338.8" r="1.35"/><circle cx="106.4" cy="332.2" r="1.35"/><circle cx="116.0" cy="332.5" r="1.35"/><circle cx="113.4" cy="331.9" r="1.35"/><circle cx="127.2" cy="347.6" r="1.35"/><circle cx="93.6" cy="341.3" r="1.35"/><circle cx="95.6" cy="341.8" r="1.35"/><circle cx="117.0" cy="348.8" r="1.35"/><circle cx="108.6" cy="335.9" r="1.35"/><circle cx="109.7" cy="360.8" r="1.35"/><circle cx="105.5" cy="352.1" r="1.35"/><circle cx="115.7" cy="350.0" r="1.35"/><circle cx="110.4" cy="348.5" r="1.35"/><circle cx="112.8" cy="342.2" r="1.35"/><circle cx="133.6" cy="360.3" r="1.35"/><circle cx="117.6" cy="338.0" r="1.35"/><circle cx="103.8" cy="352.5" r="1.35"/><circle cx="92.5" cy="347.2" r="1.35"/><circle cx="104.3" cy="345.3" r="1.35"/><circle cx="119.6" cy="350.4" r="1.35"/><circle cx="109.7" cy="360.6" r="1.35"/><circle cx="127.9" cy="353.1" r="1.35"/><circle cx="140.2" cy="358.2" r="1.35"/><circle cx="123.3" cy="345.1" r="1.35"/><circle cx="110.8" cy="337.1" r="1.35"/><circle cx="118.9" cy="335.2" r="1.35"/><circle cx="108.6" cy="332.9" r="1.35"/><circle cx="97.6" cy="353.5" r="1.35"/><circle cx="114.9" cy="356.1" r="1.35"/><circle cx="100.5" cy="359.8" r="1.35"/><circle cx="105.0" cy="353.9" r="1.35"/><circle cx="109.0" cy="355.6" r="1.35"/><circle cx="133.5" cy="348.1" r="1.35"/><circle cx="132.2" cy="330.9" r="1.35"/><circle cx="125.6" cy="335.0" r="1.35"/><circle cx="93.2" cy="348.8" r="1.35"/><circle cx="113.3" cy="350.6" r="1.35"/><circle cx="127.8" cy="330.6" r="1.35"/><circle cx="106.7" cy="354.5" r="1.35"/><circle cx="98.4" cy="338.9" r="1.35"/><circle cx="119.4" cy="344.8" r="1.35"/><circle cx="107.8" cy="357.2" r="1.35"/><circle cx="106.5" cy="341.3" r="1.35"/><circle cx="99.8" cy="332.8" r="1.35"/><circle cx="98.5" cy="338.6" r="1.35"/><circle cx="120.5" cy="331.6" r="1.35"/><circle cx="106.1" cy="334.9" r="1.35"/><circle cx="110.6" cy="336.1" r="1.35"/><circle cx="96.4" cy="333.1" r="1.35"/><circle cx="116.5" cy="342.2" r="1.35"/><circle cx="125.0" cy="350.3" r="1.35"/><circle cx="114.4" cy="358.5" r="1.35"/><circle cx="129.8" cy="338.1" r="1.35"/><circle cx="93.0" cy="346.6" r="1.35"/><circle cx="131.7" cy="354.7" r="1.35"/><circle cx="112.4" cy="353.5" r="1.35"/><circle cx="103.7" cy="341.1" r="1.35"/><circle cx="125.0" cy="357.6" r="1.35"/><circle cx="124.1" cy="339.8" r="1.35"/><circle cx="137.3" cy="338.5" r="1.35"/><circle cx="109.1" cy="354.9" r="1.35"/><circle cx="101.3" cy="330.1" r="1.35"/><circle cx="109.8" cy="342.8" r="1.35"/><circle cx="117.4" cy="341.7" r="1.35"/><circle cx="119.1" cy="363.1" r="1.35"/><circle cx="127.4" cy="332.9" r="1.35"/><circle cx="126.0" cy="363.0" r="1.35"/><circle cx="101.6" cy="339.9" r="1.35"/><circle cx="99.8" cy="350.8" r="1.35"/><circle cx="124.4" cy="334.3" r="1.35"/><circle cx="117.5" cy="348.1" r="1.35"/><circle cx="134.0" cy="352.9" r="1.35"/><circle cx="125.4" cy="342.4" r="1.35"/><circle cx="103.9" cy="349.4" r="1.35"/><circle cx="114.6" cy="349.1" r="1.35"/><circle cx="116.8" cy="335.1" r="1.35"/><circle cx="124.6" cy="362.6" r="1.35"/><circle cx="104.9" cy="357.5" r="1.35"/><circle cx="119.0" cy="359.8" r="1.35"/><circle cx="106.3" cy="351.1" r="1.35"/><circle cx="120.0" cy="356.7" r="1.35"/><circle cx="104.5" cy="357.2" r="1.35"/><circle cx="131.9" cy="331.9" r="1.35"/><circle cx="135.3" cy="358.5" r="1.35"/><circle cx="101.5" cy="341.2" r="1.35"/><circle cx="123.0" cy="361.2" r="1.35"/><circle cx="135.9" cy="354.4" r="1.35"/><circle cx="125.6" cy="342.8" r="1.35"/><circle cx="109.3" cy="338.3" r="1.35"/><circle cx="106.3" cy="349.5" r="1.35"/><circle cx="101.4" cy="331.0" r="1.35"/><circle cx="115.6" cy="331.0" r="1.35"/><circle cx="128.9" cy="340.1" r="1.35"/><circle cx="112.7" cy="331.7" r="1.35"/><circle cx="113.5" cy="358.0" r="1.35"/><circle cx="115.1" cy="345.8" r="1.35"/><circle cx="109.6" cy="353.4" r="1.35"/><circle cx="121.2" cy="337.1" r="1.35"/><circle cx="106.7" cy="359.3" r="1.35"/><circle cx="115.0" cy="362.4" r="1.35"/><circle cx="129.3" cy="349.4" r="1.35"/><circle cx="95.7" cy="342.3" r="1.35"/><circle cx="114.3" cy="363.2" r="1.35"/><circle cx="126.9" cy="352.2" r="1.35"/><circle cx="112.9" cy="331.2" r="1.35"/><circle cx="105.0" cy="342.4" r="1.35"/><circle cx="119.5" cy="329.9" r="1.35"/><circle cx="96.9" cy="340.2" r="1.35"/><circle cx="128.3" cy="352.1" r="1.35"/><circle cx="123.8" cy="344.3" r="1.35"/><circle cx="115.5" cy="338.3" r="1.35"/><circle cx="95.8" cy="344.0" r="1.35"/><circle cx="102.9" cy="340.4" r="1.35"/><circle cx="112.0" cy="354.9" r="1.35"/><circle cx="100.8" cy="351.3" r="1.35"/><circle cx="128.7" cy="356.3" r="1.35"/><circle cx="109.9" cy="346.9" r="1.35"/><circle cx="98.0" cy="356.8" r="1.35"/><circle cx="107.1" cy="356.3" r="1.35"/><circle cx="114.9" cy="347.8" r="1.35"/><circle cx="112.6" cy="349.9" r="1.35"/><circle cx="140.2" cy="342.1" r="1.35"/><circle cx="100.1" cy="357.9" r="1.35"/><circle cx="127.8" cy="332.1" r="1.35"/><circle cx="94.8" cy="342.2" r="1.35"/><circle cx="108.8" cy="345.1" r="1.35"/><circle cx="117.3" cy="361.3" r="1.35"/><circle cx="107.3" cy="354.8" r="1.35"/><circle cx="110.7" cy="342.7" r="1.35"/><circle cx="110.2" cy="342.8" r="1.35"/><circle cx="118.6" cy="347.4" r="1.35"/><circle cx="108.1" cy="344.9" r="1.35"/><circle cx="129.6" cy="345.0" r="1.35"/><circle cx="112.6" cy="363.7" r="1.35"/><circle cx="121.9" cy="363.5" r="1.35"/><circle cx="122.1" cy="340.4" r="1.35"/><circle cx="122.7" cy="349.0" r="1.35"/><circle cx="117.1" cy="346.1" r="1.35"/><circle cx="105.9" cy="357.0" r="1.35"/><circle cx="135.1" cy="341.7" r="1.35"/><circle cx="133.7" cy="338.8" r="1.35"/><circle cx="95.3" cy="355.8" r="1.35"/><circle cx="129.8" cy="348.6" r="1.35"/><circle cx="111.2" cy="343.5" r="1.35"/><circle cx="98.3" cy="338.5" r="1.35"/><circle cx="125.5" cy="347.4" r="1.35"/><circle cx="98.4" cy="338.1" r="1.35"/><circle cx="120.2" cy="362.0" r="1.35"/><circle cx="113.0" cy="346.9" r="1.35"/><circle cx="98.6" cy="360.1" r="1.35"/><circle cx="94.1" cy="342.8" r="1.35"/><circle cx="125.9" cy="362.2" r="1.35"/><circle cx="97.7" cy="355.0" r="1.35"/><circle cx="121.5" cy="333.9" r="1.35"/><circle cx="100.6" cy="339.6" r="1.35"/><circle cx="118.2" cy="341.2" r="1.35"/><circle cx="127.0" cy="335.1" r="1.35"/><circle cx="128.7" cy="348.4" r="1.35"/><circle cx="128.0" cy="342.9" r="1.35"/><circle cx="120.2" cy="364.1" r="1.35"/><circle cx="115.1" cy="345.0" r="1.35"/><circle cx="129.8" cy="330.0" r="1.35"/><circle cx="120.6" cy="347.5" r="1.35"/><circle cx="100.0" cy="363.1" r="1.35"/><circle cx="103.3" cy="333.8" r="1.35"/><circle cx="122.7" cy="330.7" r="1.35"/><circle cx="121.3" cy="361.1" r="1.35"/><circle cx="128.5" cy="336.3" r="1.35"/><circle cx="93.5" cy="347.0" r="1.35"/><circle cx="107.0" cy="335.9" r="1.35"/><circle cx="116.5" cy="336.6" r="1.35"/><circle cx="106.2" cy="345.9" r="1.35"/><circle cx="100.4" cy="359.5" r="1.35"/><circle cx="122.7" cy="347.2" r="1.35"/><circle cx="119.0" cy="351.7" r="1.35"/><circle cx="130.9" cy="336.1" r="1.35"/><circle cx="104.1" cy="343.7" r="1.35"/><circle cx="128.6" cy="362.8" r="1.35"/><circle cx="120.5" cy="339.6" r="1.35"/><circle cx="97.5" cy="348.1" r="1.35"/><circle cx="95.5" cy="352.0" r="1.35"/><circle cx="94.0" cy="348.3" r="1.35"/><circle cx="101.6" cy="346.5" r="1.35"/><circle cx="117.2" cy="333.7" r="1.35"/><circle cx="113.2" cy="344.9" r="1.35"/><circle cx="116.6" cy="347.7" r="1.35"/><circle cx="120.3" cy="331.3" r="1.35"/><circle cx="109.1" cy="353.4" r="1.35"/><circle cx="116.7" cy="349.0" r="1.35"/><circle cx="96.8" cy="346.3" r="1.35"/><circle cx="121.2" cy="355.5" r="1.35"/><circle cx="109.1" cy="339.5" r="1.35"/><circle cx="130.6" cy="336.2" r="1.35"/><circle cx="118.5" cy="339.1" r="1.35"/><circle cx="115.0" cy="335.1" r="1.35"/><circle cx="101.2" cy="331.8" r="1.35"/><circle cx="116.2" cy="356.6" r="1.35"/><circle cx="104.3" cy="351.5" r="1.35"/><circle cx="118.4" cy="335.9" r="1.35"/><circle cx="101.6" cy="335.1" r="1.35"/><circle cx="108.8" cy="354.3" r="1.35"/><circle cx="131.6" cy="347.1" r="1.35"/><circle cx="130.3" cy="335.5" r="1.35"/><circle cx="110.1" cy="361.5" r="1.35"/><circle cx="111.7" cy="331.3" r="1.35"/><circle cx="111.3" cy="337.2" r="1.35"/><circle cx="93.2" cy="345.5" r="1.35"/><circle cx="102.7" cy="360.2" r="1.35"/><circle cx="99.5" cy="353.9" r="1.35"/><circle cx="102.0" cy="331.3" r="1.35"/><circle cx="115.0" cy="340.5" r="1.35"/><circle cx="106.0" cy="362.6" r="1.35"/><circle cx="101.6" cy="339.6" r="1.35"/><circle cx="107.7" cy="333.1" r="1.35"/><circle cx="118.6" cy="347.1" r="1.35"/><circle cx="96.5" cy="334.7" r="1.35"/><circle cx="107.8" cy="355.7" r="1.35"/><circle cx="117.4" cy="332.3" r="1.35"/><circle cx="120.6" cy="337.5" r="1.35"/><circle cx="134.4" cy="344.1" r="1.35"/><circle cx="130.3" cy="341.6" r="1.35"/><circle cx="100.6" cy="332.7" r="1.35"/><circle cx="115.5" cy="333.1" r="1.35"/><circle cx="123.1" cy="340.4" r="1.35"/><circle cx="123.4" cy="338.4" r="1.35"/><circle cx="119.2" cy="344.0" r="1.35"/><circle cx="134.7" cy="360.4" r="1.35"/><circle cx="101.0" cy="354.2" r="1.35"/><circle cx="121.4" cy="332.1" r="1.35"/><circle cx="109.7" cy="347.8" r="1.35"/><circle cx="92.6" cy="345.4" r="1.35"/><circle cx="120.9" cy="350.6" r="1.35"/><circle cx="97.0" cy="345.4" r="1.35"/><circle cx="124.2" cy="363.8" r="1.35"/><circle cx="114.4" cy="329.3" r="1.35"/><circle cx="104.1" cy="358.3" r="1.35"/><circle cx="105.1" cy="361.2" r="1.35"/><circle cx="113.6" cy="347.7" r="1.35"/><circle cx="116.7" cy="344.8" r="1.35"/><circle cx="134.1" cy="345.6" r="1.35"/><circle cx="102.2" cy="334.4" r="1.35"/><circle cx="126.4" cy="357.1" r="1.35"/><circle cx="132.6" cy="357.2" r="1.35"/><circle cx="132.8" cy="337.8" r="1.35"/><circle cx="109.5" cy="356.9" r="1.35"/><circle cx="95.7" cy="352.0" r="1.35"/><circle cx="101.7" cy="353.1" r="1.35"/><circle cx="141.3" cy="350.3" r="1.35"/><circle cx="120.7" cy="362.8" r="1.35"/><circle cx="116.9" cy="341.0" r="1.35"/><circle cx="103.8" cy="351.5" r="1.35"/><circle cx="126.9" cy="346.1" r="1.35"/><circle cx="106.0" cy="333.3" r="1.35"/><circle cx="126.5" cy="362.7" r="1.35"/><circle cx="130.8" cy="339.0" r="1.35"/><circle cx="118.4" cy="345.0" r="1.35"/><circle cx="129.4" cy="335.7" r="1.35"/><circle cx="121.2" cy="335.4" r="1.35"/><circle cx="118.6" cy="363.0" r="1.35"/><circle cx="113.0" cy="341.9" r="1.35"/><circle cx="116.0" cy="363.4" r="1.35"/><circle cx="113.9" cy="352.7" r="1.35"/><circle cx="120.0" cy="351.0" r="1.35"/><circle cx="119.8" cy="336.6" r="1.35"/><circle cx="124.6" cy="353.5" r="1.35"/><circle cx="113.9" cy="330.2" r="1.35"/><circle cx="96.0" cy="336.5" r="1.35"/><circle cx="114.2" cy="331.0" r="1.35"/><circle cx="120.9" cy="355.0" r="1.35"/><circle cx="124.7" cy="352.6" r="1.35"/><circle cx="94.8" cy="353.7" r="1.35"/><circle cx="95.2" cy="344.5" r="1.35"/><circle cx="96.1" cy="341.2" r="1.35"/><circle cx="116.6" cy="348.9" r="1.35"/><circle cx="103.4" cy="359.8" r="1.35"/><circle cx="112.8" cy="341.6" r="1.35"/><circle cx="105.2" cy="356.9" r="1.35"/><circle cx="114.7" cy="340.3" r="1.35"/><circle cx="114.9" cy="338.3" r="1.35"/><circle cx="112.9" cy="337.8" r="1.35"/><circle cx="115.0" cy="344.5" r="1.35"/><circle cx="115.0" cy="340.7" r="1.35"/><circle cx="125.7" cy="354.9" r="1.35"/><circle cx="128.3" cy="363.0" r="1.35"/><circle cx="125.6" cy="343.0" r="1.35"/><circle cx="103.7" cy="356.0" r="1.35"/><circle cx="93.3" cy="342.2" r="1.35"/><circle cx="105.3" cy="349.9" r="1.35"/><circle cx="133.2" cy="358.7" r="1.35"/><circle cx="121.7" cy="353.8" r="1.35"/><circle cx="129.5" cy="348.6" r="1.35"/><circle cx="127.4" cy="347.9" r="1.35"/><circle cx="108.6" cy="354.3" r="1.35"/><circle cx="106.1" cy="348.1" r="1.35"/><circle cx="117.0" cy="332.5" r="1.35"/><circle cx="136.7" cy="351.9" r="1.35"/><circle cx="132.4" cy="342.4" r="1.35"/><circle cx="122.5" cy="344.0" r="1.35"/><circle cx="110.0" cy="355.6" r="1.35"/><circle cx="107.4" cy="353.0" r="1.35"/><circle cx="133.5" cy="340.8" r="1.35"/><circle cx="110.2" cy="347.0" r="1.35"/><circle cx="111.0" cy="351.6" r="1.35"/><circle cx="107.9" cy="360.0" r="1.35"/><circle cx="104.9" cy="332.9" r="1.35"/><circle cx="96.7" cy="357.0" r="1.35"/><circle cx="105.6" cy="345.1" r="1.35"/><circle cx="103.0" cy="353.4" r="1.35"/><circle cx="109.2" cy="360.3" r="1.35"/><circle cx="116.0" cy="338.2" r="1.35"/><circle cx="109.4" cy="343.2" r="1.35"/><circle cx="101.0" cy="339.9" r="1.35"/><circle cx="103.2" cy="360.4" r="1.35"/><circle cx="103.7" cy="340.2" r="1.35"/><circle cx="121.4" cy="329.7" r="1.35"/><circle cx="135.2" cy="328.4" r="1.35"/><circle cx="93.5" cy="353.2" r="1.35"/><circle cx="106.0" cy="352.0" r="1.35"/><circle cx="108.5" cy="344.2" r="1.35"/><circle cx="120.3" cy="339.9" r="1.35"/><circle cx="104.8" cy="337.4" r="1.35"/><circle cx="115.7" cy="346.0" r="1.35"/><circle cx="125.1" cy="353.0" r="1.35"/><circle cx="113.0" cy="341.2" r="1.35"/><circle cx="115.7" cy="346.6" r="1.35"/><circle cx="131.5" cy="360.8" r="1.35"/><circle cx="131.9" cy="350.2" r="1.35"/><circle cx="102.0" cy="359.9" r="1.35"/><circle cx="126.3" cy="353.0" r="1.35"/><circle cx="115.0" cy="341.5" r="1.35"/><circle cx="133.9" cy="328.9" r="1.35"/><circle cx="107.8" cy="359.6" r="1.35"/><circle cx="124.2" cy="330.3" r="1.35"/><circle cx="121.8" cy="348.7" r="1.35"/><circle cx="115.5" cy="361.1" r="1.35"/><circle cx="103.2" cy="343.4" r="1.35"/><circle cx="109.2" cy="348.5" r="1.35"/><circle cx="109.0" cy="363.4" r="1.35"/><circle cx="97.5" cy="350.8" r="1.35"/><circle cx="99.5" cy="333.9" r="1.35"/><circle cx="100.6" cy="344.5" r="1.35"/><circle cx="108.4" cy="336.1" r="1.35"/><circle cx="101.6" cy="350.8" r="1.35"/><circle cx="111.5" cy="358.1" r="1.35"/><circle cx="127.9" cy="333.2" r="1.35"/><circle cx="137.9" cy="352.3" r="1.35"/><circle cx="101.7" cy="335.3" r="1.35"/><circle cx="125.6" cy="350.5" r="1.35"/><circle cx="128.0" cy="345.2" r="1.35"/><circle cx="116.9" cy="341.0" r="1.35"/><circle cx="110.9" cy="338.9" r="1.35"/><circle cx="121.8" cy="361.7" r="1.35"/><circle cx="117.3" cy="345.5" r="1.35"/><circle cx="120.5" cy="335.3" r="1.35"/><circle cx="130.2" cy="354.2" r="1.35"/><circle cx="133.4" cy="331.8" r="1.35"/><circle cx="111.4" cy="329.4" r="1.35"/><circle cx="124.2" cy="332.6" r="1.35"/><circle cx="119.0" cy="340.6" r="1.35"/><circle cx="120.6" cy="345.8" r="1.35"/><circle cx="102.1" cy="339.1" r="1.35"/><circle cx="119.3" cy="362.7" r="1.35"/><circle cx="111.5" cy="353.6" r="1.35"/><circle cx="127.5" cy="361.4" r="1.35"/><circle cx="106.6" cy="337.4" r="1.35"/><circle cx="101.7" cy="341.3" r="1.35"/><circle cx="129.2" cy="359.8" r="1.35"/><circle cx="122.5" cy="363.4" r="1.35"/><circle cx="99.6" cy="341.7" r="1.35"/><circle cx="99.0" cy="356.4" r="1.35"/><circle cx="123.6" cy="336.9" r="1.35"/><circle cx="122.5" cy="333.5" r="1.35"/><circle cx="110.6" cy="353.1" r="1.35"/><circle cx="141.6" cy="350.9" r="1.35"/><circle cx="127.9" cy="335.1" r="1.35"/><circle cx="113.3" cy="338.4" r="1.35"/><circle cx="108.0" cy="354.9" r="1.35"/><circle cx="101.6" cy="354.5" r="1.35"/><circle cx="125.9" cy="363.8" r="1.35"/><circle cx="134.9" cy="340.5" r="1.35"/><circle cx="124.3" cy="327.0" r="1.35"/><circle cx="118.8" cy="331.0" r="1.35"/><circle cx="133.3" cy="339.4" r="1.35"/><circle cx="119.9" cy="348.7" r="1.35"/><circle cx="126.0" cy="364.0" r="1.35"/><circle cx="130.8" cy="350.7" r="1.35"/><circle cx="93.0" cy="344.6" r="1.35"/><circle cx="122.3" cy="345.9" r="1.35"/><circle cx="106.9" cy="343.8" r="1.35"/><circle cx="116.5" cy="341.5" r="1.35"/><circle cx="100.0" cy="331.8" r="1.35"/><circle cx="122.3" cy="355.8" r="1.35"/><circle cx="107.1" cy="340.3" r="1.35"/><circle cx="116.4" cy="331.2" r="1.35"/><circle cx="136.6" cy="355.2" r="1.35"/><circle cx="125.9" cy="334.3" r="1.35"/><circle cx="109.1" cy="331.6" r="1.35"/><circle cx="115.8" cy="361.1" r="1.35"/><circle cx="115.8" cy="337.7" r="1.35"/><circle cx="102.8" cy="351.1" r="1.35"/><circle cx="108.4" cy="354.2" r="1.35"/><circle cx="99.4" cy="347.3" r="1.35"/><circle cx="108.2" cy="332.6" r="1.35"/><circle cx="130.1" cy="339.1" r="1.35"/><circle cx="127.0" cy="354.4" r="1.35"/><circle cx="110.5" cy="340.4" r="1.35"/><circle cx="140.7" cy="349.6" r="1.35"/><circle cx="127.3" cy="349.3" r="1.35"/><circle cx="111.0" cy="342.0" r="1.35"/><circle cx="124.5" cy="339.7" r="1.35"/><circle cx="104.9" cy="338.3" r="1.35"/><circle cx="132.0" cy="361.9" r="1.35"/><circle cx="111.2" cy="330.6" r="1.35"/><circle cx="124.1" cy="360.8" r="1.35"/><circle cx="105.1" cy="355.6" r="1.35"/><circle cx="102.5" cy="337.3" r="1.35"/><circle cx="106.3" cy="354.4" r="1.35"/><circle cx="124.1" cy="357.3" r="1.35"/><circle cx="131.7" cy="349.5" r="1.35"/><circle cx="114.9" cy="349.3" r="1.35"/><circle cx="94.2" cy="342.4" r="1.35"/><circle cx="135.5" cy="348.4" r="1.35"/><circle cx="124.5" cy="344.4" r="1.35"/><circle cx="125.6" cy="332.2" r="1.35"/><circle cx="113.0" cy="346.1" r="1.35"/><circle cx="133.3" cy="329.6" r="1.35"/><circle cx="107.8" cy="343.1" r="1.35"/><circle cx="120.4" cy="336.9" r="1.35"/><circle cx="108.9" cy="359.0" r="1.35"/><circle cx="92.6" cy="347.4" r="1.35"/><circle cx="136.3" cy="328.7" r="1.35"/><circle cx="112.9" cy="346.3" r="1.35"/><circle cx="115.4" cy="336.0" r="1.35"/><circle cx="118.9" cy="348.7" r="1.35"/><circle cx="100.4" cy="358.2" r="1.35"/><circle cx="101.3" cy="355.5" r="1.35"/><circle cx="138.9" cy="334.1" r="1.35"/><circle cx="100.6" cy="335.0" r="1.35"/><circle cx="137.5" cy="344.5" r="1.35"/><circle cx="110.0" cy="335.4" r="1.35"/><circle cx="128.1" cy="356.3" r="1.35"/><circle cx="115.1" cy="344.2" r="1.35"/><circle cx="115.0" cy="352.7" r="1.35"/><circle cx="108.7" cy="348.1" r="1.35"/><circle cx="94.7" cy="341.1" r="1.35"/><circle cx="139.1" cy="358.7" r="1.35"/><circle cx="108.2" cy="340.4" r="1.35"/><circle cx="99.3" cy="349.0" r="1.35"/><circle cx="111.4" cy="332.9" r="1.35"/><circle cx="128.3" cy="356.8" r="1.35"/><circle cx="101.9" cy="338.3" r="1.35"/><circle cx="129.0" cy="337.8" r="1.35"/><circle cx="110.1" cy="344.4" r="1.35"/><circle cx="105.5" cy="357.6" r="1.35"/><circle cx="122.2" cy="363.4" r="1.35"/><circle cx="132.3" cy="330.7" r="1.35"/><circle cx="114.4" cy="358.7" r="1.35"/><circle cx="102.6" cy="361.0" r="1.35"/><circle cx="107.0" cy="342.3" r="1.35"/><circle cx="122.0" cy="358.0" r="1.35"/><circle cx="104.7" cy="354.5" r="1.35"/><circle cx="112.9" cy="347.3" r="1.35"/><circle cx="120.5" cy="337.3" r="1.35"/><circle cx="125.9" cy="339.1" r="1.35"/><circle cx="111.2" cy="336.5" r="1.35"/><circle cx="107.2" cy="337.6" r="1.35"/><circle cx="94.0" cy="344.7" r="1.35"/><circle cx="131.4" cy="347.7" r="1.35"/><circle cx="109.5" cy="355.3" r="1.35"/><circle cx="128.4" cy="352.3" r="1.35"/><circle cx="118.9" cy="348.6" r="1.35"/><circle cx="133.0" cy="359.5" r="1.35"/><circle cx="129.7" cy="350.0" r="1.35"/><circle cx="111.1" cy="363.0" r="1.35"/><circle cx="120.4" cy="331.6" r="1.35"/><circle cx="116.7" cy="354.7" r="1.35"/><circle cx="109.2" cy="330.1" r="1.35"/><circle cx="106.0" cy="352.2" r="1.35"/><circle cx="109.0" cy="342.0" r="1.35"/><circle cx="114.0" cy="349.2" r="1.35"/><circle cx="103.8" cy="335.5" r="1.35"/><circle cx="124.3" cy="349.6" r="1.35"/><circle cx="141.6" cy="338.2" r="1.35"/><circle cx="97.0" cy="334.2" r="1.35"/><circle cx="134.1" cy="327.6" r="1.35"/><circle cx="104.5" cy="356.7" r="1.35"/><circle cx="129.5" cy="355.9" r="1.35"/><circle cx="105.9" cy="346.5" r="1.35"/><circle cx="108.6" cy="350.9" r="1.35"/><circle cx="120.6" cy="328.9" r="1.35"/><circle cx="133.9" cy="358.7" r="1.35"/><circle cx="95.5" cy="354.5" r="1.35"/><circle cx="125.9" cy="351.9" r="1.35"/><circle cx="110.7" cy="350.9" r="1.35"/><circle cx="115.4" cy="334.0" r="1.35"/><circle cx="126.2" cy="347.4" r="1.35"/><circle cx="92.7" cy="341.5" r="1.35"/><circle cx="103.7" cy="334.6" r="1.35"/><circle cx="126.9" cy="361.6" r="1.35"/><circle cx="128.7" cy="349.9" r="1.35"/><circle cx="95.2" cy="352.6" r="1.35"/><circle cx="125.6" cy="349.6" r="1.35"/><circle cx="124.1" cy="359.7" r="1.35"/><circle cx="115.4" cy="361.0" r="1.35"/><circle cx="112.1" cy="330.8" r="1.35"/><circle cx="113.4" cy="357.3" r="1.35"/><circle cx="118.4" cy="336.4" r="1.35"/><circle cx="95.7" cy="339.6" r="1.35"/><circle cx="121.9" cy="359.8" r="1.35"/><circle cx="100.3" cy="348.1" r="1.35"/><circle cx="117.8" cy="336.5" r="1.35"/><circle cx="105.4" cy="334.5" r="1.35"/><circle cx="122.6" cy="338.5" r="1.35"/><circle cx="96.9" cy="348.7" r="1.35"/><circle cx="128.0" cy="346.6" r="1.35"/><circle cx="133.0" cy="345.4" r="1.35"/><circle cx="93.9" cy="353.3" r="1.35"/><circle cx="118.5" cy="362.1" r="1.35"/><circle cx="98.3" cy="354.1" r="1.35"/><circle cx="108.8" cy="356.1" r="1.35"/><circle cx="113.0" cy="346.5" r="1.35"/><circle cx="106.7" cy="360.7" r="1.35"/><circle cx="130.7" cy="340.3" r="1.35"/><circle cx="141.1" cy="349.0" r="1.35"/><circle cx="123.3" cy="363.3" r="1.35"/><circle cx="104.0" cy="334.6" r="1.35"/><circle cx="93.9" cy="345.3" r="1.35"/><circle cx="110.7" cy="363.1" r="1.35"/><circle cx="133.4" cy="346.8" r="1.35"/><circle cx="94.0" cy="349.8" r="1.35"/><circle cx="95.0" cy="353.4" r="1.35"/><circle cx="126.5" cy="358.5" r="1.35"/><circle cx="104.6" cy="332.1" r="1.35"/><circle cx="95.0" cy="340.4" r="1.35"/><circle cx="95.8" cy="337.5" r="1.35"/><circle cx="136.1" cy="339.8" r="1.35"/><circle cx="110.1" cy="333.9" r="1.35"/><circle cx="123.0" cy="351.7" r="1.35"/><circle cx="104.6" cy="341.3" r="1.35"/><circle cx="92.7" cy="347.6" r="1.35"/><circle cx="127.9" cy="363.0" r="1.35"/><circle cx="103.6" cy="333.8" r="1.35"/><circle cx="106.4" cy="347.6" r="1.35"/><circle cx="126.8" cy="342.2" r="1.35"/><circle cx="100.9" cy="354.3" r="1.35"/><circle cx="96.6" cy="357.3" r="1.35"/><circle cx="99.3" cy="331.2" r="1.35"/><circle cx="124.4" cy="357.2" r="1.35"/><circle cx="99.3" cy="337.9" r="1.35"/><circle cx="126.2" cy="357.5" r="1.35"/><circle cx="132.4" cy="334.4" r="1.35"/><circle cx="95.3" cy="355.8" r="1.35"/><circle cx="123.0" cy="328.5" r="1.35"/><circle cx="139.6" cy="345.7" r="1.35"/><circle cx="120.7" cy="328.6" r="1.35"/><circle cx="96.5" cy="342.3" r="1.35"/><circle cx="129.1" cy="359.3" r="1.35"/><circle cx="120.7" cy="341.9" r="1.35"/><circle cx="96.4" cy="342.6" r="1.35"/><circle cx="119.9" cy="332.2" r="1.35"/><circle cx="123.8" cy="327.9" r="1.35"/><circle cx="113.9" cy="358.9" r="1.35"/><circle cx="121.8" cy="336.1" r="1.35"/><circle cx="120.2" cy="342.0" r="1.35"/><circle cx="102.7" cy="334.0" r="1.35"/><circle cx="104.7" cy="350.0" r="1.35"/><circle cx="129.5" cy="336.9" r="1.35"/><circle cx="106.8" cy="355.6" r="1.35"/><circle cx="109.6" cy="363.2" r="1.35"/><circle cx="105.2" cy="351.2" r="1.35"/><circle cx="99.5" cy="355.4" r="1.35"/><circle cx="110.5" cy="362.4" r="1.35"/><circle cx="108.5" cy="340.8" r="1.35"/><circle cx="104.7" cy="351.0" r="1.35"/><circle cx="128.2" cy="334.8" r="1.35"/><circle cx="110.7" cy="342.9" r="1.35"/><circle cx="119.6" cy="346.2" r="1.35"/><circle cx="119.9" cy="352.4" r="1.35"/><circle cx="119.9" cy="335.2" r="1.35"/><circle cx="114.3" cy="360.6" r="1.35"/><circle cx="107.0" cy="348.4" r="1.35"/><circle cx="115.0" cy="333.0" r="1.35"/><circle cx="96.7" cy="334.9" r="1.35"/><circle cx="102.6" cy="333.5" r="1.35"/><circle cx="118.4" cy="332.7" r="1.35"/><circle cx="122.2" cy="350.4" r="1.35"/><circle cx="122.8" cy="337.5" r="1.35"/><circle cx="126.6" cy="334.4" r="1.35"/><circle cx="121.5" cy="364.0" r="1.35"/><circle cx="119.7" cy="356.0" r="1.35"/><circle cx="110.9" cy="342.9" r="1.35"/><circle cx="123.3" cy="341.0" r="1.35"/><circle cx="93.4" cy="349.1" r="1.35"/><circle cx="123.0" cy="356.5" r="1.35"/><circle cx="129.2" cy="349.6" r="1.35"/><circle cx="119.6" cy="352.0" r="1.35"/><circle cx="97.0" cy="352.3" r="1.35"/><circle cx="113.7" cy="363.8" r="1.35"/><circle cx="100.7" cy="345.9" r="1.35"/><circle cx="100.7" cy="360.7" r="1.35"/><circle cx="127.8" cy="332.6" r="1.35"/><circle cx="114.7" cy="350.9" r="1.35"/><circle cx="100.6" cy="339.9" r="1.35"/><circle cx="115.8" cy="347.6" r="1.35"/><circle cx="122.1" cy="336.6" r="1.35"/><circle cx="116.6" cy="337.2" r="1.35"/><circle cx="104.0" cy="343.1" r="1.35"/><circle cx="122.3" cy="336.5" r="1.35"/><circle cx="115.9" cy="357.0" r="1.35"/><circle cx="104.2" cy="364.1" r="1.35"/><circle cx="109.1" cy="335.9" r="1.35"/><circle cx="114.1" cy="352.7" r="1.35"/><circle cx="114.2" cy="341.6" r="1.35"/><circle cx="118.4" cy="347.4" r="1.35"/><circle cx="139.5" cy="355.0" r="1.35"/><circle cx="133.0" cy="336.7" r="1.35"/><circle cx="101.2" cy="345.3" r="1.35"/><circle cx="95.1" cy="338.3" r="1.35"/><circle cx="121.7" cy="361.5" r="1.35"/><circle cx="104.4" cy="340.5" r="1.35"/><circle cx="102.4" cy="345.2" r="1.35"/><circle cx="106.0" cy="348.9" r="1.35"/><circle cx="104.4" cy="333.3" r="1.35"/><circle cx="126.5" cy="334.9" r="1.35"/><circle cx="117.7" cy="332.9" r="1.35"/><circle cx="124.4" cy="330.0" r="1.35"/><circle cx="96.7" cy="347.2" r="1.35"/><circle cx="105.5" cy="355.9" r="1.35"/><circle cx="99.8" cy="352.5" r="1.35"/><circle cx="123.3" cy="343.4" r="1.35"/><circle cx="104.8" cy="356.4" r="1.35"/><circle cx="98.9" cy="345.8" r="1.35"/><circle cx="120.3" cy="337.1" r="1.35"/><circle cx="113.9" cy="357.8" r="1.35"/><circle cx="114.9" cy="356.0" r="1.35"/><circle cx="112.3" cy="330.8" r="1.35"/><circle cx="118.5" cy="339.9" r="1.35"/><circle cx="117.8" cy="331.7" r="1.35"/><circle cx="105.1" cy="341.7" r="1.35"/><circle cx="122.1" cy="342.8" r="1.35"/><circle cx="113.5" cy="356.6" r="1.35"/><circle cx="97.7" cy="345.2" r="1.35"/><circle cx="107.2" cy="363.0" r="1.35"/><circle cx="129.1" cy="332.1" r="1.35"/><circle cx="98.4" cy="334.6" r="1.35"/><circle cx="130.5" cy="335.1" r="1.35"/><circle cx="132.1" cy="349.5" r="1.35"/><circle cx="118.5" cy="349.2" r="1.35"/><circle cx="124.0" cy="348.0" r="1.35"/><circle cx="112.8" cy="358.8" r="1.35"/><circle cx="130.7" cy="352.9" r="1.35"/><circle cx="104.8" cy="349.9" r="1.35"/><circle cx="122.6" cy="342.7" r="1.35"/><circle cx="107.5" cy="353.2" r="1.35"/><circle cx="108.3" cy="338.2" r="1.35"/><circle cx="113.7" cy="350.7" r="1.35"/><circle cx="124.7" cy="338.2" r="1.35"/><circle cx="113.2" cy="347.7" r="1.35"/><circle cx="116.1" cy="363.1" r="1.35"/><circle cx="95.9" cy="337.6" r="1.35"/><circle cx="101.3" cy="345.7" r="1.35"/><circle cx="111.3" cy="345.3" r="1.35"/><circle cx="106.8" cy="352.0" r="1.35"/><circle cx="121.5" cy="353.8" r="1.35"/><circle cx="135.7" cy="333.0" r="1.35"/><circle cx="119.8" cy="349.4" r="1.35"/><circle cx="115.6" cy="334.0" r="1.35"/><circle cx="123.6" cy="359.3" r="1.35"/><circle cx="105.1" cy="344.3" r="1.35"/><circle cx="109.9" cy="348.6" r="1.35"/><circle cx="118.5" cy="354.8" r="1.35"/><circle cx="106.7" cy="361.1" r="1.35"/><circle cx="126.3" cy="333.0" r="1.35"/><circle cx="100.2" cy="341.0" r="1.35"/><circle cx="109.1" cy="340.1" r="1.35"/><circle cx="112.3" cy="329.6" r="1.35"/><circle cx="110.0" cy="353.8" r="1.35"/><circle cx="112.9" cy="349.1" r="1.35"/><circle cx="110.5" cy="338.8" r="1.35"/><circle cx="113.4" cy="344.9" r="1.35"/><circle cx="123.8" cy="331.8" r="1.35"/><circle cx="104.1" cy="350.1" r="1.35"/><circle cx="107.8" cy="363.3" r="1.35"/><circle cx="104.5" cy="346.9" r="1.35"/><circle cx="128.3" cy="345.3" r="1.35"/><circle cx="125.9" cy="329.6" r="1.35"/><circle cx="101.3" cy="337.9" r="1.35"/><circle cx="118.5" cy="355.6" r="1.35"/><circle cx="97.2" cy="354.4" r="1.35"/><circle cx="99.4" cy="345.1" r="1.35"/><circle cx="131.4" cy="345.7" r="1.35"/><circle cx="111.8" cy="358.3" r="1.35"/><circle cx="113.9" cy="347.0" r="1.35"/><circle cx="122.3" cy="344.6" r="1.35"/><circle cx="124.3" cy="343.3" r="1.35"/><circle cx="94.6" cy="337.5" r="1.35"/><circle cx="130.3" cy="344.7" r="1.35"/><circle cx="131.2" cy="346.3" r="1.35"/><circle cx="119.4" cy="362.7" r="1.35"/><circle cx="126.2" cy="330.1" r="1.35"/><circle cx="122.7" cy="342.0" r="1.35"/><circle cx="109.5" cy="351.5" r="1.35"/><circle cx="116.7" cy="342.7" r="1.35"/><circle cx="100.7" cy="344.6" r="1.35"/><circle cx="122.7" cy="354.6" r="1.35"/><circle cx="105.9" cy="347.7" r="1.35"/><circle cx="96.4" cy="351.7" r="1.35"/><circle cx="123.0" cy="345.1" r="1.35"/><circle cx="112.9" cy="333.0" r="1.35"/><circle cx="131.8" cy="346.1" r="1.35"/><circle cx="122.9" cy="358.4" r="1.35"/><circle cx="101.4" cy="363.1" r="1.35"/><circle cx="117.7" cy="343.9" r="1.35"/><circle cx="105.7" cy="333.3" r="1.35"/><circle cx="94.5" cy="351.2" r="1.35"/><circle cx="105.0" cy="363.1" r="1.35"/><circle cx="115.1" cy="362.2" r="1.35"/><circle cx="115.6" cy="355.1" r="1.35"/><circle cx="129.5" cy="349.4" r="1.35"/><circle cx="123.3" cy="350.8" r="1.35"/><circle cx="110.6" cy="354.6" r="1.35"/><circle cx="94.4" cy="342.1" r="1.35"/><circle cx="123.7" cy="335.0" r="1.35"/><circle cx="102.7" cy="355.3" r="1.35"/><circle cx="101.0" cy="338.5" r="1.35"/><circle cx="130.2" cy="336.5" r="1.35"/><circle cx="120.5" cy="329.3" r="1.35"/><circle cx="124.6" cy="358.4" r="1.35"/><circle cx="117.4" cy="364.1" r="1.35"/><circle cx="114.6" cy="350.9" r="1.35"/><circle cx="121.6" cy="362.7" r="1.35"/><circle cx="93.9" cy="349.4" r="1.35"/><circle cx="114.2" cy="334.4" r="1.35"/><circle cx="110.5" cy="354.7" r="1.35"/><circle cx="107.2" cy="358.1" r="1.35"/><circle cx="93.2" cy="343.6" r="1.35"/><circle cx="93.9" cy="349.6" r="1.35"/><circle cx="118.4" cy="337.9" r="1.35"/><circle cx="100.2" cy="344.8" r="1.35"/><circle cx="121.5" cy="352.3" r="1.35"/><circle cx="122.6" cy="336.1" r="1.35"/><circle cx="102.6" cy="349.2" r="1.35"/><circle cx="105.7" cy="350.4" r="1.35"/><circle cx="111.7" cy="361.9" r="1.35"/><circle cx="118.8" cy="339.3" r="1.35"/><circle cx="111.3" cy="356.2" r="1.35"/><circle cx="109.2" cy="352.4" r="1.35"/><circle cx="97.0" cy="356.3" r="1.35"/><circle cx="131.2" cy="350.7" r="1.35"/><circle cx="101.0" cy="331.6" r="1.35"/><circle cx="113.9" cy="337.3" r="1.35"/><circle cx="94.9" cy="355.6" r="1.35"/><circle cx="122.0" cy="348.8" r="1.35"/><circle cx="109.8" cy="331.5" r="1.35"/><circle cx="110.9" cy="349.4" r="1.35"/><circle cx="96.3" cy="342.5" r="1.35"/><circle cx="138.6" cy="350.2" r="1.35"/><circle cx="119.1" cy="334.3" r="1.35"/><circle cx="107.9" cy="353.4" r="1.35"/><circle cx="134.1" cy="343.5" r="1.35"/><circle cx="106.9" cy="350.5" r="1.35"/><circle cx="96.1" cy="343.8" r="1.35"/><circle cx="101.7" cy="333.0" r="1.35"/><circle cx="124.2" cy="331.6" r="1.35"/><circle cx="122.4" cy="335.3" r="1.35"/><circle cx="134.8" cy="334.3" r="1.35"/><circle cx="122.2" cy="350.0" r="1.35"/><circle cx="119.9" cy="335.1" r="1.35"/><circle cx="96.8" cy="360.2" r="1.35"/><circle cx="92.8" cy="340.9" r="1.35"/><circle cx="93.4" cy="343.5" r="1.35"/><circle cx="104.0" cy="362.0" r="1.35"/><circle cx="117.2" cy="357.3" r="1.35"/><circle cx="129.8" cy="356.3" r="1.35"/><circle cx="129.1" cy="339.7" r="1.35"/><circle cx="113.2" cy="330.4" r="1.35"/><circle cx="105.0" cy="345.4" r="1.35"/><circle cx="122.1" cy="361.4" r="1.35"/><circle cx="126.8" cy="354.9" r="1.35"/><circle cx="119.7" cy="346.8" r="1.35"/><circle cx="107.4" cy="333.4" r="1.35"/><circle cx="107.9" cy="353.9" r="1.35"/><circle cx="112.1" cy="352.5" r="1.35"/><circle cx="98.0" cy="352.9" r="1.35"/><circle cx="97.0" cy="350.0" r="1.35"/><circle cx="122.8" cy="345.7" r="1.35"/><circle cx="104.0" cy="357.9" r="1.35"/><circle cx="103.7" cy="344.9" r="1.35"/><circle cx="106.9" cy="350.0" r="1.35"/><circle cx="107.0" cy="337.9" r="1.35"/><circle cx="128.4" cy="336.9" r="1.35"/><circle cx="101.1" cy="336.1" r="1.35"/><circle cx="108.5" cy="331.8" r="1.35"/><circle cx="126.4" cy="357.8" r="1.35"/><circle cx="119.0" cy="357.6" r="1.35"/><circle cx="109.5" cy="345.2" r="1.35"/><circle cx="139.6" cy="331.8" r="1.35"/><circle cx="115.3" cy="356.8" r="1.35"/><circle cx="125.2" cy="328.0" r="1.35"/><circle cx="121.5" cy="354.3" r="1.35"/><circle cx="97.0" cy="338.3" r="1.35"/><circle cx="109.0" cy="332.6" r="1.35"/><circle cx="124.4" cy="363.2" r="1.35"/><circle cx="110.6" cy="359.0" r="1.35"/><circle cx="99.3" cy="343.1" r="1.35"/><circle cx="120.2" cy="334.7" r="1.35"/><circle cx="98.8" cy="336.5" r="1.35"/><circle cx="95.3" cy="356.1" r="1.35"/><circle cx="98.3" cy="350.2" r="1.35"/><circle cx="114.8" cy="347.2" r="1.35"/><circle cx="102.9" cy="354.8" r="1.35"/><circle cx="103.0" cy="333.5" r="1.35"/><circle cx="115.8" cy="348.7" r="1.35"/><circle cx="112.8" cy="354.3" r="1.35"/><circle cx="115.0" cy="335.9" r="1.35"/><circle cx="109.2" cy="333.7" r="1.35"/><circle cx="101.5" cy="358.5" r="1.35"/><circle cx="136.4" cy="331.2" r="1.35"/><circle cx="108.0" cy="345.8" r="1.35"/><circle cx="133.8" cy="359.5" r="1.35"/><circle cx="135.8" cy="334.2" r="1.35"/><circle cx="101.2" cy="359.1" r="1.35"/><circle cx="114.3" cy="334.6" r="1.35"/><circle cx="110.1" cy="364.1" r="1.35"/><circle cx="124.0" cy="334.9" r="1.35"/><circle cx="119.5" cy="345.0" r="1.35"/><circle cx="141.2" cy="349.9" r="1.35"/><circle cx="102.8" cy="363.4" r="1.35"/><circle cx="129.2" cy="351.8" r="1.35"/><circle cx="119.2" cy="345.0" r="1.35"/><circle cx="134.7" cy="332.8" r="1.35"/><circle cx="130.7" cy="337.5" r="1.35"/><circle cx="113.6" cy="348.5" r="1.35"/><circle cx="111.2" cy="347.7" r="1.35"/><circle cx="119.5" cy="332.8" r="1.35"/><circle cx="128.2" cy="348.1" r="1.35"/><circle cx="108.0" cy="357.8" r="1.35"/><circle cx="127.4" cy="334.5" r="1.35"/><circle cx="109.0" cy="343.1" r="1.35"/><circle cx="97.1" cy="354.2" r="1.35"/><circle cx="115.4" cy="363.2" r="1.35"/><circle cx="107.0" cy="345.4" r="1.35"/><circle cx="97.0" cy="341.9" r="1.35"/><circle cx="97.7" cy="361.2" r="1.35"/><circle cx="109.2" cy="363.0" r="1.35"/><circle cx="113.8" cy="332.1" r="1.35"/><circle cx="126.6" cy="349.9" r="1.35"/><circle cx="117.6" cy="342.0" r="1.35"/><circle cx="108.1" cy="338.9" r="1.35"/><circle cx="107.2" cy="355.6" r="1.35"/><circle cx="120.0" cy="353.9" r="1.35"/><circle cx="128.6" cy="339.8" r="1.35"/><circle cx="97.6" cy="338.4" r="1.35"/><circle cx="122.8" cy="344.1" r="1.35"/><circle cx="119.2" cy="359.7" r="1.35"/><circle cx="102.8" cy="350.2" r="1.35"/><circle cx="135.8" cy="359.1" r="1.35"/><circle cx="111.4" cy="364.0" r="1.35"/><circle cx="124.2" cy="350.6" r="1.35"/><circle cx="97.0" cy="338.8" r="1.35"/><circle cx="123.8" cy="351.6" r="1.35"/><circle cx="97.4" cy="340.4" r="1.35"/><circle cx="115.7" cy="357.2" r="1.35"/><circle cx="110.0" cy="357.2" r="1.35"/><circle cx="128.7" cy="349.4" r="1.35"/><circle cx="93.9" cy="340.0" r="1.35"/><circle cx="111.1" cy="336.9" r="1.35"/><circle cx="121.7" cy="353.2" r="1.35"/><circle cx="123.4" cy="341.2" r="1.35"/><circle cx="106.9" cy="334.9" r="1.35"/><circle cx="129.2" cy="334.1" r="1.35"/><circle cx="93.4" cy="346.3" r="1.35"/><circle cx="116.0" cy="334.5" r="1.35"/><circle cx="137.7" cy="331.3" r="1.35"/><circle cx="113.4" cy="348.3" r="1.35"/><circle cx="138.7" cy="355.5" r="1.35"/><circle cx="127.2" cy="359.9" r="1.35"/><circle cx="103.3" cy="351.7" r="1.35"/><circle cx="124.7" cy="361.5" r="1.35"/><circle cx="106.7" cy="341.6" r="1.35"/><circle cx="118.8" cy="354.8" r="1.35"/><circle cx="118.3" cy="352.5" r="1.35"/><circle cx="133.7" cy="332.1" r="1.35"/><circle cx="127.5" cy="357.8" r="1.35"/><circle cx="134.6" cy="355.5" r="1.35"/><circle cx="100.2" cy="351.7" r="1.35"/><circle cx="100.4" cy="361.4" r="1.35"/><circle cx="114.5" cy="342.1" r="1.35"/><circle cx="128.3" cy="363.0" r="1.35"/><circle cx="121.8" cy="342.1" r="1.35"/><circle cx="132.9" cy="326.9" r="1.35"/><circle cx="111.2" cy="341.1" r="1.35"/><circle cx="110.2" cy="355.9" r="1.35"/><circle cx="96.0" cy="344.3" r="1.35"/><circle cx="115.2" cy="347.7" r="1.35"/><circle cx="112.4" cy="346.3" r="1.35"/><circle cx="126.2" cy="333.5" r="1.35"/><circle cx="105.9" cy="363.1" r="1.35"/><circle cx="110.8" cy="355.1" r="1.35"/><circle cx="126.4" cy="350.6" r="1.35"/><circle cx="120.6" cy="342.7" r="1.35"/><circle cx="130.8" cy="334.0" r="1.35"/><circle cx="105.2" cy="363.5" r="1.35"/><circle cx="114.8" cy="363.6" r="1.35"/><circle cx="135.0" cy="345.6" r="1.35"/><circle cx="110.9" cy="329.3" r="1.35"/><circle cx="114.8" cy="344.7" r="1.35"/><circle cx="118.9" cy="332.5" r="1.35"/><circle cx="126.1" cy="346.1" r="1.35"/><circle cx="116.9" cy="342.0" r="1.35"/><circle cx="104.9" cy="348.7" r="1.35"/><circle cx="123.1" cy="345.8" r="1.35"/><circle cx="128.7" cy="333.7" r="1.35"/><circle cx="121.4" cy="336.3" r="1.35"/><circle cx="119.5" cy="363.9" r="1.35"/><circle cx="115.5" cy="338.6" r="1.35"/><circle cx="114.3" cy="340.4" r="1.35"/><circle cx="119.9" cy="336.5" r="1.35"/><circle cx="122.7" cy="345.9" r="1.35"/><circle cx="100.7" cy="343.3" r="1.35"/><circle cx="119.4" cy="349.1" r="1.35"/><circle cx="137.4" cy="358.5" r="1.35"/><circle cx="117.5" cy="350.6" r="1.35"/><circle cx="127.9" cy="352.0" r="1.35"/><circle cx="117.7" cy="336.9" r="1.35"/><circle cx="100.8" cy="337.6" r="1.35"/><circle cx="106.4" cy="348.1" r="1.35"/><circle cx="124.2" cy="351.2" r="1.35"/><circle cx="111.8" cy="342.7" r="1.35"/><circle cx="102.7" cy="355.4" r="1.35"/><circle cx="109.7" cy="333.0" r="1.35"/><circle cx="119.1" cy="346.9" r="1.35"/><circle cx="123.0" cy="356.3" r="1.35"/><circle cx="127.4" cy="358.3" r="1.35"/><circle cx="124.2" cy="330.4" r="1.35"/><circle cx="114.9" cy="352.6" r="1.35"/><circle cx="115.7" cy="363.9" r="1.35"/><circle cx="105.0" cy="350.7" r="1.35"/><circle cx="109.5" cy="331.1" r="1.35"/><circle cx="114.4" cy="348.6" r="1.35"/><circle cx="95.8" cy="346.7" r="1.35"/><circle cx="110.5" cy="346.6" r="1.35"/><circle cx="107.6" cy="344.5" r="1.35"/><circle cx="101.6" cy="346.2" r="1.35"/><circle cx="120.9" cy="354.9" r="1.35"/><circle cx="103.0" cy="362.8" r="1.35"/><circle cx="107.5" cy="342.3" r="1.35"/><circle cx="102.9" cy="359.6" r="1.35"/><circle cx="119.6" cy="349.8" r="1.35"/><circle cx="113.8" cy="331.2" r="1.35"/><circle cx="98.1" cy="343.9" r="1.35"/><circle cx="111.0" cy="362.8" r="1.35"/><circle cx="135.5" cy="328.6" r="1.35"/><circle cx="127.0" cy="358.7" r="1.35"/><circle cx="135.0" cy="355.6" r="1.35"/><circle cx="127.6" cy="346.1" r="1.35"/><circle cx="104.1" cy="356.3" r="1.35"/><circle cx="117.2" cy="337.8" r="1.35"/><circle cx="111.5" cy="347.4" r="1.35"/><circle cx="130.1" cy="351.7" r="1.35"/><circle cx="102.3" cy="335.3" r="1.35"/><circle cx="113.5" cy="345.7" r="1.35"/><circle cx="94.4" cy="349.2" r="1.35"/><circle cx="129.0" cy="354.8" r="1.35"/><circle cx="136.2" cy="332.4" r="1.35"/><circle cx="120.8" cy="346.8" r="1.35"/><circle cx="107.8" cy="361.2" r="1.35"/><circle cx="126.6" cy="348.4" r="1.35"/><circle cx="120.4" cy="362.8" r="1.35"/><circle cx="108.8" cy="338.0" r="1.35"/><circle cx="130.7" cy="351.3" r="1.35"/><circle cx="127.4" cy="360.3" r="1.35"/><circle cx="93.4" cy="349.5" r="1.35"/><circle cx="119.7" cy="345.7" r="1.35"/><circle cx="120.5" cy="361.6" r="1.35"/><circle cx="130.6" cy="345.8" r="1.35"/><circle cx="107.4" cy="364.2" r="1.35"/><circle cx="96.0" cy="346.3" r="1.35"/><circle cx="122.1" cy="337.1" r="1.35"/><circle cx="116.4" cy="358.3" r="1.35"/><circle cx="114.0" cy="362.7" r="1.35"/><circle cx="119.0" cy="340.2" r="1.35"/><circle cx="105.9" cy="343.4" r="1.35"/><circle cx="96.3" cy="340.2" r="1.35"/><circle cx="108.2" cy="336.6" r="1.35"/><circle cx="106.9" cy="354.2" r="1.35"/><circle cx="138.1" cy="327.6" r="1.35"/><circle cx="136.2" cy="352.8" r="1.35"/><circle cx="124.3" cy="340.1" r="1.35"/><circle cx="106.1" cy="347.1" r="1.35"/><circle cx="120.6" cy="360.1" r="1.35"/><circle cx="112.6" cy="363.8" r="1.35"/><circle cx="118.8" cy="356.3" r="1.35"/><circle cx="118.2" cy="351.7" r="1.35"/><circle cx="129.9" cy="330.2" r="1.35"/><circle cx="131.9" cy="331.8" r="1.35"/><circle cx="128.7" cy="351.5" r="1.35"/><circle cx="118.7" cy="333.4" r="1.35"/><circle cx="105.6" cy="351.4" r="1.35"/><circle cx="120.2" cy="330.5" r="1.35"/><circle cx="128.7" cy="330.8" r="1.35"/><circle cx="138.6" cy="342.0" r="1.35"/><circle cx="124.7" cy="339.6" r="1.35"/><circle cx="110.6" cy="358.3" r="1.35"/><circle cx="101.3" cy="347.3" r="1.35"/><circle cx="98.6" cy="361.6" r="1.35"/><circle cx="141.0" cy="352.7" r="1.35"/><circle cx="125.3" cy="344.3" r="1.35"/><circle cx="103.3" cy="331.9" r="1.35"/><circle cx="122.4" cy="355.1" r="1.35"/><circle cx="112.4" cy="347.4" r="1.35"/><circle cx="124.9" cy="342.8" r="1.35"/><circle cx="106.9" cy="340.9" r="1.35"/><circle cx="113.5" cy="340.8" r="1.35"/><circle cx="133.6" cy="340.0" r="1.35"/><circle cx="122.7" cy="339.9" r="1.35"/><circle cx="99.0" cy="352.5" r="1.35"/><circle cx="109.5" cy="346.1" r="1.35"/><circle cx="112.9" cy="361.7" r="1.35"/><circle cx="113.5" cy="361.4" r="1.35"/><circle cx="132.7" cy="346.8" r="1.35"/><circle cx="128.2" cy="351.5" r="1.35"/><circle cx="128.2" cy="353.7" r="1.35"/><circle cx="129.8" cy="332.4" r="1.35"/><circle cx="109.9" cy="340.2" r="1.35"/><circle cx="120.9" cy="337.2" r="1.35"/><circle cx="113.3" cy="360.7" r="1.35"/><circle cx="128.0" cy="353.1" r="1.35"/><circle cx="137.7" cy="332.3" r="1.35"/><circle cx="112.4" cy="361.8" r="1.35"/><circle cx="119.8" cy="344.2" r="1.35"/><circle cx="95.6" cy="340.0" r="1.35"/><circle cx="106.8" cy="333.3" r="1.35"/><circle cx="108.8" cy="340.4" r="1.35"/><circle cx="100.8" cy="354.8" r="1.35"/><circle cx="94.3" cy="351.7" r="1.35"/><circle cx="107.8" cy="356.2" r="1.35"/><circle cx="138.8" cy="332.5" r="1.35"/><circle cx="111.0" cy="338.5" r="1.35"/><circle cx="99.1" cy="338.2" r="1.35"/><circle cx="115.4" cy="362.6" r="1.35"/><circle cx="101.8" cy="350.8" r="1.35"/><circle cx="109.0" cy="363.0" r="1.35"/><circle cx="115.7" cy="363.1" r="1.35"/><circle cx="120.2" cy="347.4" r="1.35"/><circle cx="118.5" cy="341.8" r="1.35"/><circle cx="120.8" cy="329.2" r="1.35"/><circle cx="110.6" cy="342.1" r="1.35"/><circle cx="104.0" cy="343.5" r="1.35"/><circle cx="116.5" cy="332.9" r="1.35"/><circle cx="126.7" cy="340.3" r="1.35"/><circle cx="114.9" cy="357.9" r="1.35"/><circle cx="118.2" cy="332.9" r="1.35"/><circle cx="103.9" cy="350.0" r="1.35"/><circle cx="136.3" cy="345.7" r="1.35"/><circle cx="101.2" cy="337.5" r="1.35"/><circle cx="131.3" cy="333.0" r="1.35"/><circle cx="94.5" cy="344.9" r="1.35"/><circle cx="120.6" cy="337.8" r="1.35"/><circle cx="117.4" cy="345.4" r="1.35"/><circle cx="132.1" cy="333.6" r="1.35"/><circle cx="134.2" cy="343.0" r="1.35"/><circle cx="129.4" cy="331.2" r="1.35"/><circle cx="105.7" cy="357.0" r="1.35"/><circle cx="120.3" cy="352.7" r="1.35"/><circle cx="102.8" cy="352.2" r="1.35"/><circle cx="104.6" cy="356.4" r="1.35"/><circle cx="113.0" cy="330.4" r="1.35"/><circle cx="101.2" cy="340.1" r="1.35"/><circle cx="114.5" cy="345.5" r="1.35"/><circle cx="100.1" cy="332.9" r="1.35"/><circle cx="129.2" cy="351.4" r="1.35"/><circle cx="108.1" cy="336.8" r="1.35"/><circle cx="120.7" cy="331.2" r="1.35"/><circle cx="123.5" cy="336.9" r="1.35"/><circle cx="101.2" cy="329.8" r="1.35"/><circle cx="134.9" cy="346.9" r="1.35"/><circle cx="110.1" cy="350.6" r="1.35"/><circle cx="120.9" cy="333.4" r="1.35"/><circle cx="119.5" cy="331.1" r="1.35"/><circle cx="93.9" cy="352.6" r="1.35"/><circle cx="133.6" cy="359.0" r="1.35"/><circle cx="138.4" cy="357.7" r="1.35"/><circle cx="102.8" cy="334.2" r="1.35"/><circle cx="120.2" cy="345.3" r="1.35"/><circle cx="120.3" cy="343.6" r="1.35"/><circle cx="132.1" cy="350.5" r="1.35"/><circle cx="100.6" cy="340.0" r="1.35"/><circle cx="124.4" cy="354.0" r="1.35"/><circle cx="130.7" cy="359.6" r="1.35"/><circle cx="120.5" cy="351.5" r="1.35"/><circle cx="124.0" cy="359.4" r="1.35"/><circle cx="100.8" cy="342.4" r="1.35"/><circle cx="105.3" cy="345.1" r="1.35"/><circle cx="97.7" cy="332.8" r="1.35"/><circle cx="118.3" cy="332.9" r="1.35"/><circle cx="120.4" cy="363.6" r="1.35"/><circle cx="123.6" cy="329.5" r="1.35"/><circle cx="105.9" cy="336.9" r="1.35"/><circle cx="126.7" cy="351.6" r="1.35"/><circle cx="128.1" cy="345.8" r="1.35"/><circle cx="131.2" cy="330.3" r="1.35"/><circle cx="109.4" cy="363.7" r="1.35"/><circle cx="113.1" cy="346.8" r="1.35"/><circle cx="120.4" cy="328.7" r="1.35"/><circle cx="107.3" cy="338.8" r="1.35"/><circle cx="100.5" cy="338.3" r="1.35"/><circle cx="110.0" cy="334.9" r="1.35"/><circle cx="131.5" cy="337.6" r="1.35"/><circle cx="116.0" cy="332.9" r="1.35"/><circle cx="103.0" cy="333.0" r="1.35"/><circle cx="141.3" cy="353.6" r="1.35"/><circle cx="108.0" cy="340.6" r="1.35"/><circle cx="119.4" cy="350.4" r="1.35"/><circle cx="123.3" cy="331.8" r="1.35"/><circle cx="109.8" cy="336.5" r="1.35"/><circle cx="127.0" cy="332.4" r="1.35"/><circle cx="117.3" cy="338.3" r="1.35"/><circle cx="103.4" cy="357.3" r="1.35"/><circle cx="123.6" cy="329.0" r="1.35"/><circle cx="99.2" cy="334.0" r="1.35"/><circle cx="126.8" cy="340.0" r="1.35"/><circle cx="100.7" cy="350.9" r="1.35"/><circle cx="114.2" cy="349.0" r="1.35"/><circle cx="102.0" cy="356.5" r="1.35"/><circle cx="101.3" cy="353.2" r="1.35"/><circle cx="134.1" cy="360.7" r="1.35"/><circle cx="117.0" cy="340.4" r="1.35"/><circle cx="105.7" cy="361.6" r="1.35"/><circle cx="112.7" cy="358.6" r="1.35"/><circle cx="101.6" cy="351.7" r="1.35"/><circle cx="112.3" cy="347.8" r="1.35"/><circle cx="128.1" cy="341.2" r="1.35"/><circle cx="101.3" cy="350.4" r="1.35"/><circle cx="100.4" cy="359.9" r="1.35"/><circle cx="110.1" cy="329.9" r="1.35"/><circle cx="102.8" cy="364.2" r="1.35"/><circle cx="115.0" cy="347.5" r="1.35"/><circle cx="115.2" cy="344.3" r="1.35"/><circle cx="104.3" cy="333.3" r="1.35"/><circle cx="119.4" cy="336.1" r="1.35"/><circle cx="114.2" cy="343.6" r="1.35"/><circle cx="94.6" cy="337.2" r="1.35"/><circle cx="115.0" cy="353.5" r="1.35"/><circle cx="106.1" cy="344.8" r="1.35"/><circle cx="95.2" cy="351.2" r="1.35"/><circle cx="121.9" cy="333.7" r="1.35"/><circle cx="117.0" cy="337.0" r="1.35"/><circle cx="105.5" cy="337.9" r="1.35"/><circle cx="104.5" cy="362.0" r="1.35"/><circle cx="128.6" cy="345.1" r="1.35"/><circle cx="110.1" cy="345.9" r="1.35"/><circle cx="98.2" cy="344.7" r="1.35"/><circle cx="114.5" cy="337.5" r="1.35"/><circle cx="98.4" cy="340.8" r="1.35"/><circle cx="101.7" cy="358.6" r="1.35"/><circle cx="119.5" cy="343.3" r="1.35"/><circle cx="115.9" cy="362.9" r="1.35"/><circle cx="110.7" cy="347.0" r="1.35"/><circle cx="110.7" cy="338.4" r="1.35"/><circle cx="125.4" cy="350.2" r="1.35"/><circle cx="103.7" cy="362.1" r="1.35"/><circle cx="123.2" cy="358.0" r="1.35"/><circle cx="101.8" cy="334.5" r="1.35"/><circle cx="133.6" cy="327.7" r="1.35"/><circle cx="135.1" cy="337.8" r="1.35"/><circle cx="122.8" cy="364.1" r="1.35"/><circle cx="110.3" cy="333.0" r="1.35"/><circle cx="103.4" cy="331.7" r="1.35"/><circle cx="107.6" cy="344.4" r="1.35"/><circle cx="105.9" cy="334.9" r="1.35"/><circle cx="119.8" cy="335.6" r="1.35"/><circle cx="98.9" cy="331.9" r="1.35"/><circle cx="132.7" cy="356.7" r="1.35"/><circle cx="119.7" cy="355.2" r="1.35"/><circle cx="96.3" cy="343.9" r="1.35"/><circle cx="115.8" cy="364.1" r="1.35"/><circle cx="108.5" cy="348.7" r="1.35"/><circle cx="107.6" cy="341.4" r="1.35"/><circle cx="120.1" cy="361.7" r="1.35"/><circle cx="124.6" cy="338.9" r="1.35"/><circle cx="120.4" cy="335.8" r="1.35"/><circle cx="113.0" cy="334.0" r="1.35"/><circle cx="106.7" cy="347.4" r="1.35"/><circle cx="111.8" cy="357.6" r="1.35"/><circle cx="100.6" cy="353.5" r="1.35"/><circle cx="132.8" cy="327.7" r="1.35"/><circle cx="92.6" cy="351.9" r="1.35"/><circle cx="126.5" cy="351.9" r="1.35"/><circle cx="100.2" cy="344.4" r="1.35"/><circle cx="95.9" cy="347.9" r="1.35"/><circle cx="96.8" cy="354.6" r="1.35"/><circle cx="122.1" cy="344.5" r="1.35"/><circle cx="150.4" cy="321.6" r="1.35"/><circle cx="171.6" cy="303.9" r="1.35"/><circle cx="152.5" cy="311.6" r="1.35"/><circle cx="146.1" cy="331.4" r="1.35"/><circle cx="134.3" cy="329.1" r="1.35"/><circle cx="138.2" cy="312.0" r="1.35"/><circle cx="170.6" cy="313.6" r="1.35"/><circle cx="181.0" cy="307.8" r="1.35"/><circle cx="126.2" cy="332.1" r="1.35"/><circle cx="130.8" cy="329.2" r="1.35"/><circle cx="159.9" cy="332.5" r="1.35"/><circle cx="176.4" cy="325.0" r="1.35"/><circle cx="172.1" cy="318.4" r="1.35"/><circle cx="135.7" cy="335.9" r="1.35"/><circle cx="163.3" cy="312.4" r="1.35"/><circle cx="141.7" cy="327.5" r="1.35"/><circle cx="132.8" cy="333.0" r="1.35"/><circle cx="137.1" cy="329.1" r="1.35"/><circle cx="139.3" cy="339.0" r="1.35"/><circle cx="130.2" cy="334.8" r="1.35"/><circle cx="131.7" cy="334.3" r="1.35"/><circle cx="127.9" cy="342.3" r="1.35"/><circle cx="145.2" cy="328.8" r="1.35"/><circle cx="153.5" cy="328.6" r="1.35"/><circle cx="126.5" cy="331.2" r="1.35"/><circle cx="160.1" cy="324.2" r="1.35"/><circle cx="165.8" cy="309.0" r="1.35"/><circle cx="128.2" cy="330.3" r="1.35"/><circle cx="154.1" cy="316.8" r="1.35"/><circle cx="176.2" cy="317.6" r="1.35"/><circle cx="150.2" cy="330.6" r="1.35"/><circle cx="165.3" cy="314.2" r="1.35"/><circle cx="141.8" cy="329.8" r="1.35"/><circle cx="138.3" cy="329.7" r="1.35"/><circle cx="171.7" cy="314.7" r="1.35"/><circle cx="163.7" cy="322.1" r="1.35"/><circle cx="161.9" cy="318.6" r="1.35"/><circle cx="170.5" cy="315.4" r="1.35"/><circle cx="135.4" cy="348.8" r="1.35"/><circle cx="171.7" cy="314.0" r="1.35"/><circle cx="134.8" cy="333.2" r="1.35"/><circle cx="177.1" cy="309.7" r="1.35"/><circle cx="177.3" cy="316.8" r="1.35"/><circle cx="145.5" cy="329.0" r="1.35"/><circle cx="149.1" cy="334.4" r="1.35"/><circle cx="136.5" cy="330.3" r="1.35"/><circle cx="167.7" cy="310.4" r="1.35"/><circle cx="156.1" cy="318.9" r="1.35"/><circle cx="175.7" cy="311.8" r="1.35"/><circle cx="179.9" cy="309.3" r="1.35"/><circle cx="128.8" cy="324.8" r="1.35"/><circle cx="144.2" cy="327.8" r="1.35"/><circle cx="131.3" cy="332.3" r="1.35"/><circle cx="132.4" cy="327.7" r="1.35"/><circle cx="181.1" cy="319.4" r="1.35"/><circle cx="126.4" cy="327.9" r="1.35"/><circle cx="158.6" cy="322.1" r="1.35"/><circle cx="153.3" cy="322.2" r="1.35"/><circle cx="181.2" cy="312.9" r="1.35"/><circle cx="161.8" cy="314.6" r="1.35"/><circle cx="153.7" cy="317.4" r="1.35"/><circle cx="168.7" cy="319.2" r="1.35"/><circle cx="180.6" cy="313.0" r="1.35"/><circle cx="154.2" cy="320.2" r="1.35"/><circle cx="170.2" cy="316.7" r="1.35"/><circle cx="174.7" cy="315.4" r="1.35"/><circle cx="144.9" cy="322.2" r="1.35"/><circle cx="161.7" cy="324.2" r="1.35"/><circle cx="153.7" cy="331.2" r="1.35"/><circle cx="177.4" cy="312.7" r="1.35"/><circle cx="127.6" cy="340.1" r="1.35"/><circle cx="158.4" cy="326.3" r="1.35"/><circle cx="145.5" cy="323.8" r="1.35"/><circle cx="140.3" cy="331.3" r="1.35"/><circle cx="161.7" cy="324.2" r="1.35"/><circle cx="129.6" cy="321.9" r="1.35"/><circle cx="130.5" cy="336.5" r="1.35"/><circle cx="134.4" cy="327.0" r="1.35"/><circle cx="161.6" cy="329.6" r="1.35"/><circle cx="136.4" cy="323.3" r="1.35"/><circle cx="128.6" cy="333.1" r="1.35"/><circle cx="137.4" cy="331.4" r="1.35"/><circle cx="182.0" cy="320.1" r="1.35"/><circle cx="137.5" cy="332.0" r="1.35"/><circle cx="144.0" cy="329.7" r="1.35"/><circle cx="130.3" cy="335.1" r="1.35"/><circle cx="177.1" cy="305.2" r="1.35"/><circle cx="130.1" cy="335.1" r="1.35"/><circle cx="126.9" cy="336.3" r="1.35"/><circle cx="154.7" cy="316.1" r="1.35"/><circle cx="140.3" cy="319.9" r="1.35"/><circle cx="158.4" cy="327.3" r="1.35"/><circle cx="155.8" cy="320.9" r="1.35"/><circle cx="143.8" cy="338.8" r="1.35"/><circle cx="134.0" cy="332.8" r="1.35"/><circle cx="136.5" cy="329.5" r="1.35"/><circle cx="162.8" cy="315.5" r="1.35"/><circle cx="126.3" cy="325.3" r="1.35"/><circle cx="168.6" cy="325.1" r="1.35"/><circle cx="142.7" cy="329.9" r="1.35"/><circle cx="163.5" cy="324.2" r="1.35"/><circle cx="152.2" cy="317.0" r="1.35"/><circle cx="143.9" cy="341.1" r="1.35"/><circle cx="145.0" cy="341.1" r="1.35"/><circle cx="174.9" cy="316.9" r="1.35"/><circle cx="136.5" cy="320.1" r="1.35"/><circle cx="129.5" cy="334.6" r="1.35"/><circle cx="163.4" cy="315.0" r="1.35"/><circle cx="129.4" cy="336.5" r="1.35"/><circle cx="126.9" cy="331.8" r="1.35"/><circle cx="130.6" cy="331.4" r="1.35"/><circle cx="126.2" cy="338.0" r="1.35"/><circle cx="151.8" cy="321.8" r="1.35"/><circle cx="126.2" cy="333.6" r="1.35"/><circle cx="149.8" cy="331.9" r="1.35"/><circle cx="137.9" cy="324.7" r="1.35"/><circle cx="181.2" cy="312.9" r="1.35"/><circle cx="142.2" cy="337.3" r="1.35"/><circle cx="141.8" cy="323.0" r="1.35"/><circle cx="130.8" cy="337.8" r="1.35"/><circle cx="130.8" cy="333.3" r="1.35"/><circle cx="128.3" cy="338.8" r="1.35"/><circle cx="144.6" cy="328.6" r="1.35"/><circle cx="180.1" cy="323.1" r="1.35"/><circle cx="128.3" cy="336.9" r="1.35"/><circle cx="163.9" cy="307.9" r="1.35"/><circle cx="153.2" cy="326.2" r="1.35"/><circle cx="161.4" cy="325.9" r="1.35"/><circle cx="181.5" cy="311.2" r="1.35"/><circle cx="155.4" cy="329.4" r="1.35"/><circle cx="130.4" cy="338.9" r="1.35"/><circle cx="175.2" cy="311.7" r="1.35"/><circle cx="154.8" cy="323.8" r="1.35"/><circle cx="159.1" cy="321.0" r="1.35"/><circle cx="143.4" cy="335.5" r="1.35"/><circle cx="157.6" cy="332.7" r="1.35"/><circle cx="159.4" cy="312.8" r="1.35"/><circle cx="151.0" cy="323.6" r="1.35"/><circle cx="138.6" cy="333.3" r="1.35"/><circle cx="137.9" cy="333.4" r="1.35"/><circle cx="147.1" cy="330.2" r="1.35"/><circle cx="150.4" cy="324.8" r="1.35"/><circle cx="131.0" cy="338.8" r="1.35"/><circle cx="143.9" cy="320.5" r="1.35"/><circle cx="142.3" cy="330.9" r="1.35"/><circle cx="141.7" cy="316.0" r="1.35"/><circle cx="137.8" cy="321.7" r="1.35"/><circle cx="156.2" cy="321.6" r="1.35"/><circle cx="150.4" cy="328.6" r="1.35"/><circle cx="145.9" cy="323.5" r="1.35"/><circle cx="141.0" cy="333.1" r="1.35"/><circle cx="172.5" cy="313.7" r="1.35"/><circle cx="153.4" cy="329.6" r="1.35"/><circle cx="140.3" cy="334.5" r="1.35"/><circle cx="134.8" cy="332.1" r="1.35"/><circle cx="142.4" cy="320.4" r="1.35"/><circle cx="144.8" cy="330.4" r="1.35"/><circle cx="141.1" cy="317.4" r="1.35"/><circle cx="161.6" cy="317.9" r="1.35"/><circle cx="128.1" cy="335.0" r="1.35"/><circle cx="129.6" cy="335.0" r="1.35"/><circle cx="138.2" cy="320.1" r="1.35"/><circle cx="151.0" cy="316.2" r="1.35"/><circle cx="157.8" cy="326.1" r="1.35"/><circle cx="145.6" cy="328.6" r="1.35"/><circle cx="163.5" cy="323.3" r="1.35"/><circle cx="181.7" cy="313.8" r="1.35"/><circle cx="152.6" cy="329.7" r="1.35"/><circle cx="159.1" cy="326.7" r="1.35"/><circle cx="141.1" cy="336.3" r="1.35"/><circle cx="137.8" cy="326.0" r="1.35"/><circle cx="147.7" cy="316.0" r="1.35"/><circle cx="133.2" cy="332.5" r="1.35"/><circle cx="181.5" cy="307.7" r="1.35"/><circle cx="163.5" cy="311.9" r="1.35"/><circle cx="127.0" cy="339.1" r="1.35"/><circle cx="141.8" cy="329.6" r="1.35"/><circle cx="171.1" cy="319.5" r="1.35"/><circle cx="132.6" cy="342.8" r="1.35"/><circle cx="136.1" cy="328.0" r="1.35"/><circle cx="129.2" cy="333.1" r="1.35"/><circle cx="180.6" cy="313.8" r="1.35"/><circle cx="152.4" cy="312.3" r="1.35"/><circle cx="149.0" cy="321.3" r="1.35"/><circle cx="158.4" cy="314.7" r="1.35"/><circle cx="154.0" cy="342.2" r="1.35"/><circle cx="131.4" cy="330.3" r="1.35"/><circle cx="157.8" cy="318.0" r="1.35"/><circle cx="143.5" cy="326.4" r="1.35"/><circle cx="143.8" cy="316.3" r="1.35"/><circle cx="158.7" cy="313.0" r="1.35"/><circle cx="151.1" cy="325.9" r="1.35"/><circle cx="138.9" cy="320.4" r="1.35"/><circle cx="134.7" cy="344.1" r="1.35"/><circle cx="154.3" cy="310.4" r="1.35"/><circle cx="146.5" cy="340.1" r="1.35"/><circle cx="131.3" cy="321.4" r="1.35"/><circle cx="166.6" cy="315.5" r="1.35"/><circle cx="158.6" cy="322.4" r="1.35"/><circle cx="177.9" cy="317.3" r="1.35"/><circle cx="143.4" cy="324.5" r="1.35"/><circle cx="147.5" cy="331.1" r="1.35"/><circle cx="126.9" cy="326.1" r="1.35"/><circle cx="144.7" cy="324.5" r="1.35"/><circle cx="165.4" cy="323.7" r="1.35"/><circle cx="155.1" cy="332.4" r="1.35"/><circle cx="155.4" cy="315.0" r="1.35"/><circle cx="153.2" cy="329.0" r="1.35"/><circle cx="167.1" cy="318.0" r="1.35"/><circle cx="162.6" cy="315.1" r="1.35"/><circle cx="139.8" cy="326.0" r="1.35"/><circle cx="170.1" cy="324.2" r="1.35"/><circle cx="156.1" cy="323.3" r="1.35"/><circle cx="175.8" cy="315.5" r="1.35"/><circle cx="144.1" cy="328.3" r="1.35"/><circle cx="169.6" cy="316.2" r="1.35"/><circle cx="145.6" cy="327.9" r="1.35"/><circle cx="149.1" cy="329.1" r="1.35"/><circle cx="133.8" cy="329.7" r="1.35"/><circle cx="164.2" cy="320.4" r="1.35"/><circle cx="136.9" cy="332.4" r="1.35"/><circle cx="168.7" cy="315.3" r="1.35"/><circle cx="149.4" cy="320.9" r="1.35"/><circle cx="173.2" cy="309.1" r="1.35"/><circle cx="141.1" cy="330.3" r="1.35"/><circle cx="128.6" cy="348.3" r="1.35"/><circle cx="150.0" cy="332.6" r="1.35"/><circle cx="133.5" cy="337.7" r="1.35"/><circle cx="176.6" cy="321.6" r="1.35"/><circle cx="156.7" cy="318.4" r="1.35"/><circle cx="135.9" cy="335.7" r="1.35"/><circle cx="137.5" cy="313.0" r="1.35"/><circle cx="135.1" cy="331.4" r="1.35"/><circle cx="144.1" cy="321.1" r="1.35"/><circle cx="132.6" cy="333.3" r="1.35"/><circle cx="144.7" cy="331.3" r="1.35"/><circle cx="150.2" cy="337.8" r="1.35"/><circle cx="127.4" cy="328.0" r="1.35"/><circle cx="169.4" cy="315.4" r="1.35"/><circle cx="137.6" cy="320.7" r="1.35"/><circle cx="139.2" cy="330.0" r="1.35"/><circle cx="160.6" cy="321.1" r="1.35"/><circle cx="177.2" cy="317.7" r="1.35"/><circle cx="164.6" cy="324.8" r="1.35"/><circle cx="153.0" cy="324.2" r="1.35"/><circle cx="134.8" cy="333.5" r="1.35"/><circle cx="134.0" cy="331.4" r="1.35"/><circle cx="162.2" cy="320.8" r="1.35"/><circle cx="177.3" cy="324.1" r="1.35"/><circle cx="141.3" cy="323.9" r="1.35"/><circle cx="137.6" cy="324.6" r="1.35"/><circle cx="159.0" cy="325.8" r="1.35"/><circle cx="160.4" cy="308.9" r="1.35"/><circle cx="178.7" cy="309.2" r="1.35"/><circle cx="159.5" cy="313.7" r="1.35"/><circle cx="137.5" cy="327.1" r="1.35"/><circle cx="146.4" cy="325.8" r="1.35"/><circle cx="131.8" cy="336.7" r="1.35"/><circle cx="150.4" cy="322.4" r="1.35"/><circle cx="162.9" cy="304.7" r="1.35"/><circle cx="211.0" cy="353.6" r="1.35"/><circle cx="148.0" cy="352.6" r="1.35"/><circle cx="164.2" cy="331.9" r="1.35"/><circle cx="167.0" cy="321.4" r="1.35"/><circle cx="187.6" cy="357.8" r="1.35"/><circle cx="193.5" cy="347.1" r="1.35"/><circle cx="187.0" cy="311.7" r="1.35"/><circle cx="182.0" cy="354.6" r="1.35"/><circle cx="184.1" cy="333.8" r="1.35"/><circle cx="168.7" cy="344.5" r="1.35"/><circle cx="212.8" cy="325.2" r="1.35"/><circle cx="188.2" cy="329.2" r="1.35"/><circle cx="159.0" cy="355.5" r="1.35"/><circle cx="209.3" cy="332.1" r="1.35"/><circle cx="167.9" cy="344.4" r="1.35"/><circle cx="191.1" cy="335.4" r="1.35"/><circle cx="211.3" cy="317.8" r="1.35"/><circle cx="161.3" cy="335.5" r="1.35"/><circle cx="209.7" cy="341.4" r="1.35"/><circle cx="204.3" cy="350.0" r="1.35"/><circle cx="141.7" cy="336.7" r="1.35"/><circle cx="158.4" cy="339.7" r="1.35"/><circle cx="199.0" cy="348.4" r="1.35"/><circle cx="151.8" cy="350.0" r="1.35"/><circle cx="192.9" cy="331.1" r="1.35"/><circle cx="181.1" cy="343.6" r="1.35"/><circle cx="174.0" cy="304.6" r="1.35"/><circle cx="211.6" cy="346.2" r="1.35"/><circle cx="177.2" cy="331.4" r="1.35"/><circle cx="144.0" cy="338.5" r="1.35"/><circle cx="201.0" cy="310.3" r="1.35"/><circle cx="154.6" cy="322.3" r="1.35"/><circle cx="161.3" cy="345.0" r="1.35"/><circle cx="170.4" cy="352.1" r="1.35"/><circle cx="193.4" cy="300.1" r="1.35"/><circle cx="190.2" cy="337.8" r="1.35"/><circle cx="203.9" cy="295.4" r="1.35"/><circle cx="194.9" cy="350.0" r="1.35"/></g>
<g fill="#0a0a0a"><circle cx="163.8" cy="300.7" r="1.45"/><circle cx="167.6" cy="308.2" r="1.45"/><circle cx="177.0" cy="311.1" r="1.45"/><circle cx="184.6" cy="309.2" r="1.45"/><circle cx="190.2" cy="309.2" r="1.45"/><circle cx="197.8" cy="303.5" r="1.45"/><circle cx="191.2" cy="300.7" r="1.45"/><circle cx="214.8" cy="305.4" r="1.45"/><circle cx="203.5" cy="312.0" r="1.45"/><circle cx="193.1" cy="318.6" r="1.45"/><circle cx="182.7" cy="315.8" r="1.45"/><circle cx="161.9" cy="319.6" r="1.45"/><circle cx="168.5" cy="317.7" r="1.45"/><circle cx="177.0" cy="321.5" r="1.45"/><circle cx="184.6" cy="330.0" r="1.45"/><circle cx="188.4" cy="334.7" r="1.45"/><circle cx="195.0" cy="337.5" r="1.45"/><circle cx="161.9" cy="329.0" r="1.45"/><circle cx="161.9" cy="337.5" r="1.45"/><circle cx="163.8" cy="346.0" r="1.45"/><circle cx="186.5" cy="350.8" r="1.45"/><circle cx="231.5" cy="354.0" r="1.45"/><circle cx="134.1" cy="311.4" r="1.45"/><circle cx="147.7" cy="312.6" r="1.45"/><circle cx="128.4" cy="325.1" r="1.45"/><circle cx="135.9" cy="326.4" r="1.45"/><circle cx="135.9" cy="357.7" r="1.45"/><circle cx="130.9" cy="361.5" r="1.45"/><circle cx="142.2" cy="352.7" r="1.45"/><circle cx="149.7" cy="342.7" r="1.45"/><circle cx="157.2" cy="352.7" r="1.45"/><circle cx="139.6" cy="340.2" r="1.45"/><circle cx="148.4" cy="332.7" r="1.45"/><circle cx="152.0" cy="327.0" r="1.45"/><circle cx="150.0" cy="337.0" r="1.45"/><circle cx="140.0" cy="345.0" r="1.45"/><circle cx="158.0" cy="340.0" r="1.45"/><circle cx="145.0" cy="362.0" r="1.45"/><circle cx="138.0" cy="318.0" r="1.45"/><circle cx="155.0" cy="310.0" r="1.45"/><circle cx="148.0" cy="305.0" r="1.45"/><circle cx="172.0" cy="335.0" r="1.45"/><circle cx="158.0" cy="331.0" r="1.45"/><circle cx="154.0" cy="338.9" r="1.45"/><circle cx="149.0" cy="334.6" r="1.45"/><circle cx="170.6" cy="347.8" r="1.45"/><circle cx="145.3" cy="342.8" r="1.45"/><circle cx="149.7" cy="350.3" r="1.45"/><circle cx="129.0" cy="327.7" r="1.45"/><circle cx="166.1" cy="348.8" r="1.45"/><circle cx="154.7" cy="341.7" r="1.45"/><circle cx="156.9" cy="353.0" r="1.45"/><circle cx="168.0" cy="348.3" r="1.45"/><circle cx="167.7" cy="348.6" r="1.45"/><circle cx="162.0" cy="338.6" r="1.45"/><circle cx="142.0" cy="338.9" r="1.45"/><circle cx="164.1" cy="350.4" r="1.45"/><circle cx="138.1" cy="335.0" r="1.45"/><circle cx="171.9" cy="348.4" r="1.45"/><circle cx="151.2" cy="345.2" r="1.45"/><circle cx="188.7" cy="302.5" r="1.45"/><circle cx="193.9" cy="301.7" r="1.45"/><circle cx="217.3" cy="318.6" r="1.45"/><circle cx="219.2" cy="311.0" r="1.45"/><circle cx="229.6" cy="319.8" r="1.45"/><circle cx="224.1" cy="309.3" r="1.45"/><circle cx="96.1" cy="354.5" r="1.45"/><circle cx="97.1" cy="357.5" r="1.45"/><circle cx="94.5" cy="352.7" r="1.45"/></g>
<path d="M82.10,371.30v-10.00 M82.10,221.00v10.00 M103.04,371.30v-6.80 M103.04,221.00v6.80 M123.97,371.30v-10.00 M123.97,221.00v10.00 M144.91,371.30v-6.80 M144.91,221.00v6.80 M165.85,371.30v-10.00 M165.85,221.00v10.00 M186.79,371.30v-6.80 M186.79,221.00v6.80 M207.72,371.30v-10.00 M207.72,221.00v10.00 M228.66,371.30v-6.80 M228.66,221.00v6.80 M249.60,371.30v-10.00 M249.60,221.00v10.00 M82.10,221.00h10.00 M249.60,221.00h-10.00 M82.10,239.79h6.80 M249.60,239.79h-6.80 M82.10,258.57h10.00 M249.60,258.57h-10.00 M82.10,277.36h6.80 M249.60,277.36h-6.80 M82.10,296.15h10.00 M249.60,296.15h-10.00 M82.10,314.94h6.80 M249.60,314.94h-6.80 M82.10,333.73h10.00 M249.60,333.73h-10.00 M82.10,352.51h6.80 M249.60,352.51h-6.80 M82.10,371.30h10.00 M249.60,371.30h-10.00" stroke="#000" stroke-width="1.3" fill="none"/>
<rect x="82.10" y="221.00" width="167.50" height="150.30" fill="none" stroke="#000" stroke-width="1.5"/>
<text transform="translate(77.60,224.40) scale(1.120,1)" text-anchor="end" font-size="9.00" fill="#333">18</text>
<text transform="translate(77.60,261.97) scale(1.120,1)" text-anchor="end" font-size="9.00" fill="#333">13</text>
<text transform="translate(77.60,299.55) scale(1.120,1)" text-anchor="end" font-size="9.00" fill="#333">8</text>
<text transform="translate(77.60,337.12) scale(1.120,1)" text-anchor="end" font-size="9.00" fill="#333">3</text>
<rect x="64.70" y="371.01" width="6.00" height="0.95" fill="#333"/><text transform="translate(72.00,374.70) scale(1.120,1)" text-anchor="start" font-size="9.00" fill="#333">2</text>
<text transform="translate(82.10,386.00) scale(1.120,1)" text-anchor="middle" font-size="9.00" fill="#333">0</text>
<text transform="translate(123.97,386.00) scale(1.120,1)" text-anchor="middle" font-size="9.00" fill="#333">1</text>
<text transform="translate(165.85,386.00) scale(1.120,1)" text-anchor="middle" font-size="9.00" fill="#333">2</text>
<text transform="translate(207.72,386.00) scale(1.120,1)" text-anchor="middle" font-size="9.00" fill="#333">3</text>
<text transform="translate(249.60,386.00) scale(1.120,1)" text-anchor="middle" font-size="9.00" fill="#333">4</text>
<text x="91.5" y="214.0" font-size="11.7" fill="#111">(c) red = ocean, black = land</text>
<text x="95.4" y="244.5" font-size="10.25" fill="#111">r=0.73, 0.38</text>
<text transform="translate(66,296) rotate(-90)" text-anchor="middle" font-size="12" fill="#111">EOF 1</text>
<text x="144.1" y="400.3" font-size="12" fill="#111">S.D.(<tspan font-size="7.5" dy="-4.5">o</tspan><tspan dy="4.5">C)</tspan></text>
<clipPath id="clip0"><rect x="377.20" y="20.60" width="294.10" height="150.90"/></clipPath>
<g shape-rendering="crispEdges"><rect x="377.20" y="20.60" width="4.13" height="5.64" fill="#fdcb3c"/><rect x="381.28" y="20.60" width="16.39" height="5.64" fill="#fd9836"/><rect x="397.62" y="20.60" width="4.13" height="5.64" fill="#fdcb3c"/><rect x="401.71" y="20.60" width="4.13" height="5.64" fill="#fd9836"/><rect x="405.79" y="20.60" width="4.13" height="5.64" fill="#f5005a"/><rect x="409.88" y="20.60" width="4.13" height="5.64" fill="#fdcb3c"/><rect x="413.96" y="20.60" width="4.13" height="5.64" fill="#fd9836"/><rect x="418.05" y="20.60" width="4.13" height="5.64" fill="#f5005a"/><rect x="422.13" y="20.60" width="4.13" height="5.64" fill="#fd9836"/><rect x="426.22" y="20.60" width="32.73" height="5.64" fill="#fdcb3c"/><rect x="458.89" y="20.60" width="4.13" height="5.64" fill="#fd9836"/><rect x="462.98" y="20.60" width="8.22" height="5.64" fill="#fdcb3c"/><rect x="471.15" y="20.60" width="12.30" height="5.64" fill="#fbfa64"/><rect x="483.40" y="20.60" width="16.39" height="5.64" fill="#ffffff"/><rect x="499.74" y="20.60" width="8.22" height="5.64" fill="#fbfa64"/><rect x="507.91" y="20.60" width="4.13" height="5.64" fill="#64fa00"/><rect x="512.00" y="20.60" width="8.22" height="5.64" fill="#fbfa64"/><rect x="520.17" y="20.60" width="4.13" height="5.64" fill="#fdcb3c"/><rect x="524.25" y="20.60" width="4.13" height="5.64" fill="#fbfa64"/><rect x="528.33" y="20.60" width="4.13" height="5.64" fill="#fdcb3c"/><rect x="532.42" y="20.60" width="28.64" height="5.64" fill="#fbfa64"/><rect x="561.01" y="20.60" width="4.13" height="5.64" fill="#fdcb3c"/><rect x="565.10" y="20.60" width="4.13" height="5.64" fill="#fbfa64"/><rect x="569.18" y="20.60" width="4.13" height="5.64" fill="#fdcb3c"/><rect x="573.27" y="20.60" width="12.30" height="5.64" fill="#ff6432"/><rect x="585.52" y="20.60" width="4.13" height="5.64" fill="#fd9836"/><rect x="589.61" y="20.60" width="4.13" height="5.64" fill="#f5005a"/><rect x="593.69" y="20.60" width="12.30" height="5.64" fill="#ffffff"/><rect x="605.94" y="20.60" width="4.13" height="5.64" fill="#d23200"/><rect x="610.03" y="20.60" width="4.13" height="5.64" fill="#ffffff"/><rect x="614.11" y="20.60" width="4.13" height="5.64" fill="#fbfa64"/><rect x="618.20" y="20.60" width="4.13" height="5.64" fill="#c8fa00"/><rect x="622.28" y="20.60" width="4.13" height="5.64" fill="#ff6432"/><rect x="626.37" y="20.60" width="16.39" height="5.64" fill="#fbfa64"/><rect x="642.71" y="20.60" width="4.13" height="5.64" fill="#fd9836"/><rect x="646.79" y="20.60" width="16.39" height="5.64" fill="#fbfa64"/><rect x="663.13" y="20.60" width="8.22" height="5.64" fill="#fd9836"/><rect x="377.20" y="26.19" width="4.13" height="5.64" fill="#fdcb3c"/><rect x="381.28" y="26.19" width="4.13" height="5.64" fill="#fbfa64"/><rect x="385.37" y="26.19" width="8.22" height="5.64" fill="#fd9836"/><rect x="393.54" y="26.19" width="4.13" height="5.64" fill="#ffffff"/><rect x="397.62" y="26.19" width="4.13" height="5.64" fill="#f5005a"/><rect x="401.71" y="26.19" width="4.13" height="5.64" fill="#ffffff"/><rect x="405.79" y="26.19" width="4.13" height="5.64" fill="#fd9836"/><rect x="409.88" y="26.19" width="4.13" height="5.64" fill="#f5005a"/><rect x="413.96" y="26.19" width="4.13" height="5.64" fill="#ff6432"/><rect x="418.05" y="26.19" width="4.13" height="5.64" fill="#f5005a"/><rect x="422.13" y="26.19" width="4.13" height="5.64" fill="#fd9836"/><rect x="426.22" y="26.19" width="4.13" height="5.64" fill="#d23200"/><rect x="430.30" y="26.19" width="8.22" height="5.64" fill="#fd9836"/><rect x="438.47" y="26.19" width="4.13" height="5.64" fill="#ff6432"/><rect x="442.56" y="26.19" width="8.22" height="5.64" fill="#fd9836"/><rect x="450.73" y="26.19" width="4.13" height="5.64" fill="#fbfa64"/><rect x="454.81" y="26.19" width="8.22" height="5.64" fill="#fd9836"/><rect x="462.98" y="26.19" width="4.13" height="5.64" fill="#fbfa64"/><rect x="467.06" y="26.19" width="8.22" height="5.64" fill="#fdcb3c"/><rect x="475.23" y="26.19" width="8.22" height="5.64" fill="#fbfa64"/><rect x="483.40" y="26.19" width="8.22" height="5.64" fill="#ffffff"/><rect x="491.57" y="26.19" width="8.22" height="5.64" fill="#c8fa00"/><rect x="499.74" y="26.19" width="32.73" height="5.64" fill="#fbfa64"/><rect x="532.42" y="26.19" width="4.13" height="5.64" fill="#fdcb3c"/><rect x="536.50" y="26.19" width="4.13" height="5.64" fill="#c8fa00"/><rect x="540.59" y="26.19" width="12.30" height="5.64" fill="#fdcb3c"/><rect x="552.84" y="26.19" width="8.22" height="5.64" fill="#fd9836"/><rect x="561.01" y="26.19" width="4.13" height="5.64" fill="#ff6432"/><rect x="565.10" y="26.19" width="4.13" height="5.64" fill="#f5005a"/><rect x="569.18" y="26.19" width="4.13" height="5.64" fill="#ff6432"/><rect x="573.27" y="26.19" width="4.13" height="5.64" fill="#fd9836"/><rect x="577.35" y="26.19" width="4.13" height="5.64" fill="#ff6432"/><rect x="581.44" y="26.19" width="8.22" height="5.64" fill="#ffffff"/><rect x="589.61" y="26.19" width="4.13" height="5.64" fill="#ffcdff"/><rect x="593.69" y="26.19" width="12.30" height="5.64" fill="#ffffff"/><rect x="605.94" y="26.19" width="4.13" height="5.64" fill="#d23200"/><rect x="610.03" y="26.19" width="4.13" height="5.64" fill="#ffffff"/><rect x="614.11" y="26.19" width="4.13" height="5.64" fill="#d200ff"/><rect x="618.20" y="26.19" width="4.13" height="5.64" fill="#ffffff"/><rect x="622.28" y="26.19" width="4.13" height="5.64" fill="#ff6432"/><rect x="626.37" y="26.19" width="4.13" height="5.64" fill="#ffffff"/><rect x="630.45" y="26.19" width="4.13" height="5.64" fill="#d23200"/><rect x="634.54" y="26.19" width="12.30" height="5.64" fill="#ffffff"/><rect x="646.79" y="26.19" width="4.13" height="5.64" fill="#fd9836"/><rect x="650.88" y="26.19" width="20.47" height="5.64" fill="#fbfa64"/><rect x="377.20" y="31.78" width="8.22" height="5.64" fill="#fbfa64"/><rect x="385.37" y="31.78" width="4.13" height="5.64" fill="#fd9836"/><rect x="389.45" y="31.78" width="4.13" height="5.64" fill="#fdcb3c"/><rect x="393.54" y="31.78" width="4.13" height="5.64" fill="#f5005a"/><rect x="397.62" y="31.78" width="8.22" height="5.64" fill="#fdcb3c"/><rect x="405.79" y="31.78" width="4.13" height="5.64" fill="#f5005a"/><rect x="409.88" y="31.78" width="4.13" height="5.64" fill="#a0006e"/><rect x="413.96" y="31.78" width="12.30" height="5.64" fill="#f5005a"/><rect x="426.22" y="31.78" width="4.13" height="5.64" fill="#fd9836"/><rect x="430.30" y="31.78" width="4.13" height="5.64" fill="#d23200"/><rect x="434.39" y="31.78" width="8.22" height="5.64" fill="#fd9836"/><rect x="442.56" y="31.78" width="4.13" height="5.64" fill="#ff6432"/><rect x="446.64" y="31.78" width="16.39" height="5.64" fill="#fd9836"/><rect x="462.98" y="31.78" width="4.13" height="5.64" fill="#ffffff"/><rect x="467.06" y="31.78" width="4.13" height="5.64" fill="#fbfa64"/><rect x="471.15" y="31.78" width="4.13" height="5.64" fill="#fdcb3c"/><rect x="475.23" y="31.78" width="36.81" height="5.64" fill="#fbfa64"/><rect x="512.00" y="31.78" width="4.13" height="5.64" fill="#c8fa00"/><rect x="516.08" y="31.78" width="8.22" height="5.64" fill="#fbfa64"/><rect x="524.25" y="31.78" width="4.13" height="5.64" fill="#fdcb3c"/><rect x="528.33" y="31.78" width="4.13" height="5.64" fill="#fbfa64"/><rect x="532.42" y="31.78" width="4.13" height="5.64" fill="#fdcb3c"/><rect x="536.50" y="31.78" width="4.13" height="5.64" fill="#fd9836"/><rect x="540.59" y="31.78" width="4.13" height="5.64" fill="#64fa00"/><rect x="544.67" y="31.78" width="4.13" height="5.64" fill="#fd9836"/><rect x="548.76" y="31.78" width="4.13" height="5.64" fill="#f5005a"/><rect x="552.84" y="31.78" width="4.13" height="5.64" fill="#ff6432"/><rect x="556.93" y="31.78" width="4.13" height="5.64" fill="#fd9836"/><rect x="561.01" y="31.78" width="4.13" height="5.64" fill="#f5005a"/><rect x="565.10" y="31.78" width="8.22" height="5.64" fill="#ff6432"/><rect x="573.27" y="31.78" width="12.30" height="5.64" fill="#ff64ff"/><rect x="585.52" y="31.78" width="4.13" height="5.64" fill="#ffcdff"/><rect x="589.61" y="31.78" width="8.22" height="5.64" fill="#ffffff"/><rect x="597.77" y="31.78" width="4.13" height="5.64" fill="#ff64ff"/><rect x="601.86" y="31.78" width="4.13" height="5.64" fill="#a0006e"/><rect x="605.94" y="31.78" width="8.22" height="5.64" fill="#ffcdff"/><rect x="614.11" y="31.78" width="4.13" height="5.64" fill="#ffffff"/><rect x="618.20" y="31.78" width="4.13" height="5.64" fill="#ffcdff"/><rect x="622.28" y="31.78" width="8.22" height="5.64" fill="#d200ff"/><rect x="630.45" y="31.78" width="4.13" height="5.64" fill="#d23200"/><rect x="634.54" y="31.78" width="4.13" height="5.64" fill="#ffffff"/><rect x="638.62" y="31.78" width="4.13" height="5.64" fill="#f5005a"/><rect x="642.71" y="31.78" width="4.13" height="5.64" fill="#ffffff"/><rect x="646.79" y="31.78" width="4.13" height="5.64" fill="#fdcb3c"/><rect x="650.88" y="31.78" width="4.13" height="5.64" fill="#c8fa00"/><rect x="654.96" y="31.78" width="4.13" height="5.64" fill="#64fa00"/><rect x="659.05" y="31.78" width="8.22" height="5.64" fill="#fbfa64"/><rect x="667.22" y="31.78" width="4.13" height="5.64" fill="#fdcb3c"/><rect x="377.20" y="37.37" width="20.47" height="5.64" fill="#fdcb3c"/><rect x="397.62" y="37.37" width="12.30" height="5.64" fill="#fbfa64"/><rect x="409.88" y="37.37" width="8.22" height="5.64" fill="#fdcb3c"/><rect x="418.05" y="37.37" width="4.13" height="5.64" fill="#fd9836"/><rect x="422.13" y="37.37" width="8.22" height="5.64" fill="#a0006e"/><rect x="430.30" y="37.37" width="4.13" height="5.64" fill="#fd9836"/><rect x="434.39" y="37.37" width="12.30" height="5.64" fill="#f5005a"/><rect x="446.64" y="37.37" width="8.22" height="5.64" fill="#fd9836"/><rect x="454.81" y="37.37" width="4.13" height="5.64" fill="#fdcb3c"/><rect x="458.89" y="37.37" width="4.13" height="5.64" fill="#d23200"/><rect x="462.98" y="37.37" width="4.13" height="5.64" fill="#ffffff"/><rect x="467.06" y="37.37" width="8.22" height="5.64" fill="#fdcb3c"/><rect x="475.23" y="37.37" width="8.22" height="5.64" fill="#fbfa64"/><rect x="483.40" y="37.37" width="16.39" height="5.64" fill="#c8fa00"/><rect x="499.74" y="37.37" width="20.47" height="5.64" fill="#fbfa64"/><rect x="520.17" y="37.37" width="4.13" height="5.64" fill="#fd9836"/><rect x="524.25" y="37.37" width="8.22" height="5.64" fill="#fdcb3c"/><rect x="532.42" y="37.37" width="4.13" height="5.64" fill="#fd9836"/><rect x="536.50" y="37.37" width="4.13" height="5.64" fill="#fdcb3c"/><rect x="540.59" y="37.37" width="4.13" height="5.64" fill="#fd9836"/><rect x="544.67" y="37.37" width="4.13" height="5.64" fill="#ff6432"/><rect x="548.76" y="37.37" width="4.13" height="5.64" fill="#d23200"/><rect x="552.84" y="37.37" width="4.13" height="5.64" fill="#d200ff"/><rect x="556.93" y="37.37" width="4.13" height="5.64" fill="#f5005a"/><rect x="561.01" y="37.37" width="4.13" height="5.64" fill="#ff64ff"/><rect x="565.10" y="37.37" width="4.13" height="5.64" fill="#f5005a"/><rect x="569.18" y="37.37" width="4.13" height="5.64" fill="#a0006e"/><rect x="573.27" y="37.37" width="4.13" height="5.64" fill="#ffffff"/><rect x="577.35" y="37.37" width="4.13" height="5.64" fill="#ff64ff"/><rect x="581.44" y="37.37" width="4.13" height="5.64" fill="#ffcdff"/><rect x="585.52" y="37.37" width="4.13" height="5.64" fill="#ff64ff"/><rect x="589.61" y="37.37" width="4.13" height="5.64" fill="#ffffff"/><rect x="593.69" y="37.37" width="4.13" height="5.64" fill="#d200ff"/><rect x="597.77" y="37.37" width="8.22" height="5.64" fill="#ffcdff"/><rect x="605.94" y="37.37" width="4.13" height="5.64" fill="#d200ff"/><rect x="610.03" y="37.37" width="4.13" height="5.64" fill="#a0006e"/><rect x="614.11" y="37.37" width="4.13" height="5.64" fill="#d200ff"/><rect x="618.20" y="37.37" width="4.13" height="5.64" fill="#d23200"/><rect x="622.28" y="37.37" width="8.22" height="5.64" fill="#a0006e"/><rect x="630.45" y="37.37" width="4.13" height="5.64" fill="#ffffff"/><rect x="634.54" y="37.37" width="4.13" height="5.64" fill="#fd9836"/><rect x="638.62" y="37.37" width="4.13" height="5.64" fill="#ff6432"/><rect x="642.71" y="37.37" width="12.30" height="5.64" fill="#fdcb3c"/><rect x="654.96" y="37.37" width="16.39" height="5.64" fill="#fbfa64"/><rect x="377.20" y="42.96" width="16.39" height="5.64" fill="#fbfa64"/><rect x="393.54" y="42.96" width="4.13" height="5.64" fill="#fdcb3c"/><rect x="397.62" y="42.96" width="4.13" height="5.64" fill="#fbfa64"/><rect x="401.71" y="42.96" width="8.22" height="5.64" fill="#fdcb3c"/><rect x="409.88" y="42.96" width="4.13" height="5.64" fill="#fbfa64"/><rect x="413.96" y="42.96" width="8.22" height="5.64" fill="#fdcb3c"/><rect x="422.13" y="42.96" width="4.13" height="5.64" fill="#ff6432"/><rect x="426.22" y="42.96" width="4.13" height="5.64" fill="#fd9836"/><rect x="430.30" y="42.96" width="8.22" height="5.64" fill="#a0006e"/><rect x="438.47" y="42.96" width="4.13" height="5.64" fill="#f5005a"/><rect x="442.56" y="42.96" width="4.13" height="5.64" fill="#a0006e"/><rect x="446.64" y="42.96" width="4.13" height="5.64" fill="#f5005a"/><rect x="450.73" y="42.96" width="4.13" height="5.64" fill="#fd9836"/><rect x="454.81" y="42.96" width="4.13" height="5.64" fill="#fdcb3c"/><rect x="458.89" y="42.96" width="4.13" height="5.64" fill="#d23200"/><rect x="462.98" y="42.96" width="4.13" height="5.64" fill="#fdcb3c"/><rect x="467.06" y="42.96" width="4.13" height="5.64" fill="#fbfa64"/><rect x="471.15" y="42.96" width="4.13" height="5.64" fill="#fdcb3c"/><rect x="475.23" y="42.96" width="12.30" height="5.64" fill="#fbfa64"/><rect x="487.49" y="42.96" width="4.13" height="5.64" fill="#c8fa00"/><rect x="491.57" y="42.96" width="24.56" height="5.64" fill="#fbfa64"/><rect x="516.08" y="42.96" width="4.13" height="5.64" fill="#fdcb3c"/><rect x="520.17" y="42.96" width="12.30" height="5.64" fill="#fd9836"/><rect x="532.42" y="42.96" width="8.22" height="5.64" fill="#fdcb3c"/><rect x="540.59" y="42.96" width="4.13" height="5.64" fill="#fd9836"/><rect x="544.67" y="42.96" width="4.13" height="5.64" fill="#d23200"/><rect x="548.76" y="42.96" width="8.22" height="5.64" fill="#ff6432"/><rect x="556.93" y="42.96" width="4.13" height="5.64" fill="#d23200"/><rect x="561.01" y="42.96" width="4.13" height="5.64" fill="#d200ff"/><rect x="565.10" y="42.96" width="4.13" height="5.64" fill="#ff64ff"/><rect x="569.18" y="42.96" width="8.22" height="5.64" fill="#ffcdff"/><rect x="577.35" y="42.96" width="4.13" height="5.64" fill="#ffffff"/><rect x="581.44" y="42.96" width="12.30" height="5.64" fill="#ffcdff"/><rect x="593.69" y="42.96" width="8.22" height="5.64" fill="#ffffff"/><rect x="601.86" y="42.96" width="4.13" height="5.64" fill="#ff64ff"/><rect x="605.94" y="42.96" width="4.13" height="5.64" fill="#d23200"/><rect x="610.03" y="42.96" width="4.13" height="5.64" fill="#d200ff"/><rect x="614.11" y="42.96" width="4.13" height="5.64" fill="#a0006e"/><rect x="618.20" y="42.96" width="4.13" height="5.64" fill="#d200ff"/><rect x="622.28" y="42.96" width="8.22" height="5.64" fill="#ff6432"/><rect x="630.45" y="42.96" width="4.13" height="5.64" fill="#fdcb3c"/><rect x="634.54" y="42.96" width="4.13" height="5.64" fill="#fd9836"/><rect x="638.62" y="42.96" width="4.13" height="5.64" fill="#f5005a"/><rect x="642.71" y="42.96" width="8.22" height="5.64" fill="#fdcb3c"/><rect x="650.88" y="42.96" width="8.22" height="5.64" fill="#fbfa64"/><rect x="659.05" y="42.96" width="12.30" height="5.64" fill="#fdcb3c"/><rect x="377.20" y="48.54" width="12.30" height="5.64" fill="#c8fa00"/><rect x="389.45" y="48.54" width="24.56" height="5.64" fill="#fbfa64"/><rect x="413.96" y="48.54" width="8.22" height="5.64" fill="#fdcb3c"/><rect x="422.13" y="48.54" width="12.30" height="5.64" fill="#fd9836"/><rect x="434.39" y="48.54" width="12.30" height="5.64" fill="#f5005a"/><rect x="446.64" y="48.54" width="8.22" height="5.64" fill="#fd9836"/><rect x="454.81" y="48.54" width="8.22" height="5.64" fill="#fdcb3c"/><rect x="462.98" y="48.54" width="4.13" height="5.64" fill="#fbfa64"/><rect x="467.06" y="48.54" width="8.22" height="5.64" fill="#fdcb3c"/><rect x="475.23" y="48.54" width="12.30" height="5.64" fill="#fbfa64"/><rect x="487.49" y="48.54" width="44.98" height="5.64" fill="#fdcb3c"/><rect x="532.42" y="48.54" width="20.47" height="5.64" fill="#fd9836"/><rect x="552.84" y="48.54" width="8.22" height="5.64" fill="#f5005a"/><rect x="561.01" y="48.54" width="4.13" height="5.64" fill="#a0006e"/><rect x="565.10" y="48.54" width="8.22" height="5.64" fill="#ff64ff"/><rect x="573.27" y="48.54" width="4.13" height="5.64" fill="#d200ff"/><rect x="577.35" y="48.54" width="4.13" height="5.64" fill="#a0006e"/><rect x="581.44" y="48.54" width="4.13" height="5.64" fill="#ff64ff"/><rect x="585.52" y="48.54" width="4.13" height="5.64" fill="#d200ff"/><rect x="589.61" y="48.54" width="4.13" height="5.64" fill="#ff6432"/><rect x="593.69" y="48.54" width="8.22" height="5.64" fill="#a0006e"/><rect x="601.86" y="48.54" width="12.30" height="5.64" fill="#d23200"/><rect x="614.11" y="48.54" width="8.22" height="5.64" fill="#a0006e"/><rect x="622.28" y="48.54" width="4.13" height="5.64" fill="#d23200"/><rect x="626.37" y="48.54" width="16.39" height="5.64" fill="#fd9836"/><rect x="642.71" y="48.54" width="16.39" height="5.64" fill="#fdcb3c"/><rect x="659.05" y="48.54" width="12.30" height="5.64" fill="#fbfa64"/><rect x="377.20" y="54.13" width="28.64" height="5.64" fill="#c8fa00"/><rect x="405.79" y="54.13" width="16.39" height="5.64" fill="#fbfa64"/><rect x="422.13" y="54.13" width="4.13" height="5.64" fill="#fdcb3c"/><rect x="426.22" y="54.13" width="20.47" height="5.64" fill="#fd9836"/><rect x="446.64" y="54.13" width="8.22" height="5.64" fill="#fdcb3c"/><rect x="454.81" y="54.13" width="4.13" height="5.64" fill="#fbfa64"/><rect x="458.89" y="54.13" width="12.30" height="5.64" fill="#fdcb3c"/><rect x="471.15" y="54.13" width="4.13" height="5.64" fill="#fd9836"/><rect x="475.23" y="54.13" width="4.13" height="5.64" fill="#fdcb3c"/><rect x="479.32" y="54.13" width="4.13" height="5.64" fill="#fbfa64"/><rect x="483.40" y="54.13" width="36.81" height="5.64" fill="#fdcb3c"/><rect x="520.17" y="54.13" width="4.13" height="5.64" fill="#fd9836"/><rect x="524.25" y="54.13" width="4.13" height="5.64" fill="#fbfa64"/><rect x="528.33" y="54.13" width="8.22" height="5.64" fill="#fdcb3c"/><rect x="536.50" y="54.13" width="12.30" height="5.64" fill="#fd9836"/><rect x="548.76" y="54.13" width="8.22" height="5.64" fill="#fdcb3c"/><rect x="556.93" y="54.13" width="4.13" height="5.64" fill="#fd9836"/><rect x="561.01" y="54.13" width="4.13" height="5.64" fill="#a0006e"/><rect x="565.10" y="54.13" width="4.13" height="5.64" fill="#ff6432"/><rect x="569.18" y="54.13" width="8.22" height="5.64" fill="#a0006e"/><rect x="577.35" y="54.13" width="4.13" height="5.64" fill="#f5005a"/><rect x="581.44" y="54.13" width="4.13" height="5.64" fill="#ff64ff"/><rect x="585.52" y="54.13" width="4.13" height="5.64" fill="#a0006e"/><rect x="589.61" y="54.13" width="4.13" height="5.64" fill="#ff64ff"/><rect x="593.69" y="54.13" width="4.13" height="5.64" fill="#fd9836"/><rect x="597.77" y="54.13" width="4.13" height="5.64" fill="#ff6432"/><rect x="601.86" y="54.13" width="4.13" height="5.64" fill="#fd9836"/><rect x="605.94" y="54.13" width="4.13" height="5.64" fill="#f5005a"/><rect x="610.03" y="54.13" width="4.13" height="5.64" fill="#d23200"/><rect x="614.11" y="54.13" width="4.13" height="5.64" fill="#fd9836"/><rect x="618.20" y="54.13" width="4.13" height="5.64" fill="#ffffff"/><rect x="622.28" y="54.13" width="4.13" height="5.64" fill="#ff6432"/><rect x="626.37" y="54.13" width="8.22" height="5.64" fill="#fd9836"/><rect x="634.54" y="54.13" width="4.13" height="5.64" fill="#fdcb3c"/><rect x="638.62" y="54.13" width="8.22" height="5.64" fill="#fbfa64"/><rect x="646.79" y="54.13" width="4.13" height="5.64" fill="#c8fa00"/><rect x="650.88" y="54.13" width="4.13" height="5.64" fill="#96f014"/><rect x="654.96" y="54.13" width="4.13" height="5.64" fill="#c8fa00"/><rect x="659.05" y="54.13" width="4.13" height="5.64" fill="#96f014"/><rect x="663.13" y="54.13" width="4.13" height="5.64" fill="#c8fa00"/><rect x="667.22" y="54.13" width="4.13" height="5.64" fill="#fbfa64"/><rect x="377.20" y="59.72" width="8.22" height="5.64" fill="#c8fa00"/><rect x="385.37" y="59.72" width="4.13" height="5.64" fill="#fbfa64"/><rect x="389.45" y="59.72" width="8.22" height="5.64" fill="#c8fa00"/><rect x="397.62" y="59.72" width="4.13" height="5.64" fill="#64fa00"/><rect x="401.71" y="59.72" width="12.30" height="5.64" fill="#c8fa00"/><rect x="413.96" y="59.72" width="12.30" height="5.64" fill="#fbfa64"/><rect x="426.22" y="59.72" width="8.22" height="5.64" fill="#fdcb3c"/><rect x="434.39" y="59.72" width="4.13" height="5.64" fill="#fd9836"/><rect x="438.47" y="59.72" width="8.22" height="5.64" fill="#fdcb3c"/><rect x="446.64" y="59.72" width="4.13" height="5.64" fill="#fd9836"/><rect x="450.73" y="59.72" width="16.39" height="5.64" fill="#fbfa64"/><rect x="467.06" y="59.72" width="4.13" height="5.64" fill="#fdcb3c"/><rect x="471.15" y="59.72" width="4.13" height="5.64" fill="#fd9836"/><rect x="475.23" y="59.72" width="20.47" height="5.64" fill="#fbfa64"/><rect x="495.66" y="59.72" width="28.64" height="5.64" fill="#fdcb3c"/><rect x="524.25" y="59.72" width="4.13" height="5.64" fill="#fbfa64"/><rect x="528.33" y="59.72" width="16.39" height="5.64" fill="#fdcb3c"/><rect x="544.67" y="59.72" width="4.13" height="5.64" fill="#fd9836"/><rect x="548.76" y="59.72" width="4.13" height="5.64" fill="#fdcb3c"/><rect x="552.84" y="59.72" width="16.39" height="5.64" fill="#fd9836"/><rect x="569.18" y="59.72" width="8.22" height="5.64" fill="#f5005a"/><rect x="577.35" y="59.72" width="4.13" height="5.64" fill="#fd9836"/><rect x="581.44" y="59.72" width="8.22" height="5.64" fill="#fdcb3c"/><rect x="589.61" y="59.72" width="4.13" height="5.64" fill="#ffffff"/><rect x="593.69" y="59.72" width="4.13" height="5.64" fill="#fd9836"/><rect x="597.77" y="59.72" width="4.13" height="5.64" fill="#fbfa64"/><rect x="601.86" y="59.72" width="4.13" height="5.64" fill="#fdcb3c"/><rect x="605.94" y="59.72" width="4.13" height="5.64" fill="#fbfa64"/><rect x="610.03" y="59.72" width="8.22" height="5.64" fill="#fd9836"/><rect x="618.20" y="59.72" width="4.13" height="5.64" fill="#fbfa64"/><rect x="622.28" y="59.72" width="4.13" height="5.64" fill="#fdcb3c"/><rect x="626.37" y="59.72" width="20.47" height="5.64" fill="#fbfa64"/><rect x="646.79" y="59.72" width="20.47" height="5.64" fill="#c8fa00"/><rect x="667.22" y="59.72" width="4.13" height="5.64" fill="#fbfa64"/><rect x="377.20" y="65.31" width="12.30" height="5.64" fill="#fbfa64"/><rect x="389.45" y="65.31" width="24.56" height="5.64" fill="#c8fa00"/><rect x="413.96" y="65.31" width="16.39" height="5.64" fill="#fbfa64"/><rect x="430.30" y="65.31" width="4.13" height="5.64" fill="#fdcb3c"/><rect x="434.39" y="65.31" width="4.13" height="5.64" fill="#fbfa64"/><rect x="438.47" y="65.31" width="8.22" height="5.64" fill="#fdcb3c"/><rect x="446.64" y="65.31" width="4.13" height="5.64" fill="#fbfa64"/><rect x="450.73" y="65.31" width="8.22" height="5.64" fill="#64fa00"/><rect x="458.89" y="65.31" width="32.73" height="5.64" fill="#fbfa64"/><rect x="491.57" y="65.31" width="4.13" height="5.64" fill="#fdcb3c"/><rect x="495.66" y="65.31" width="28.64" height="5.64" fill="#fbfa64"/><rect x="524.25" y="65.31" width="4.13" height="5.64" fill="#fdcb3c"/><rect x="528.33" y="65.31" width="8.22" height="5.64" fill="#fbfa64"/><rect x="536.50" y="65.31" width="16.39" height="5.64" fill="#fdcb3c"/><rect x="552.84" y="65.31" width="4.13" height="5.64" fill="#fbfa64"/><rect x="556.93" y="65.31" width="4.13" height="5.64" fill="#fdcb3c"/><rect x="561.01" y="65.31" width="12.30" height="5.64" fill="#fd9836"/><rect x="573.27" y="65.31" width="4.13" height="5.64" fill="#fdcb3c"/><rect x="577.35" y="65.31" width="4.13" height="5.64" fill="#fbfa64"/><rect x="581.44" y="65.31" width="4.13" height="5.64" fill="#c8fa00"/><rect x="585.52" y="65.31" width="8.22" height="5.64" fill="#fbfa64"/><rect x="593.69" y="65.31" width="8.22" height="5.64" fill="#fdcb3c"/><rect x="601.86" y="65.31" width="4.13" height="5.64" fill="#fbfa64"/><rect x="605.94" y="65.31" width="4.13" height="5.64" fill="#fdcb3c"/><rect x="610.03" y="65.31" width="8.22" height="5.64" fill="#fd9836"/><rect x="618.20" y="65.31" width="4.13" height="5.64" fill="#fdcb3c"/><rect x="622.28" y="65.31" width="20.47" height="5.64" fill="#fbfa64"/><rect x="642.71" y="65.31" width="12.30" height="5.64" fill="#fdcb3c"/><rect x="654.96" y="65.31" width="16.39" height="5.64" fill="#fbfa64"/><rect x="377.20" y="70.90" width="16.39" height="5.64" fill="#fbfa64"/><rect x="393.54" y="70.90" width="12.30" height="5.64" fill="#c8fa00"/><rect x="405.79" y="70.90" width="12.30" height="5.64" fill="#fbfa64"/><rect x="418.05" y="70.90" width="16.39" height="5.64" fill="#fdcb3c"/><rect x="434.39" y="70.90" width="20.47" height="5.64" fill="#fbfa64"/><rect x="454.81" y="70.90" width="4.13" height="5.64" fill="#64fa00"/><rect x="458.89" y="70.90" width="20.47" height="5.64" fill="#fbfa64"/><rect x="479.32" y="70.90" width="12.30" height="5.64" fill="#fdcb3c"/><rect x="491.57" y="70.90" width="4.13" height="5.64" fill="#fbfa64"/><rect x="495.66" y="70.90" width="12.30" height="5.64" fill="#fdcb3c"/><rect x="507.91" y="70.90" width="8.22" height="5.64" fill="#fbfa64"/><rect x="516.08" y="70.90" width="4.13" height="5.64" fill="#ffffff"/><rect x="520.17" y="70.90" width="4.13" height="5.64" fill="#f5005a"/><rect x="524.25" y="70.90" width="4.13" height="5.64" fill="#ffffff"/><rect x="528.33" y="70.90" width="4.13" height="5.64" fill="#fd9836"/><rect x="532.42" y="70.90" width="4.13" height="5.64" fill="#fdcb3c"/><rect x="536.50" y="70.90" width="4.13" height="5.64" fill="#fd9836"/><rect x="540.59" y="70.90" width="4.13" height="5.64" fill="#fbfa64"/><rect x="544.67" y="70.90" width="4.13" height="5.64" fill="#c8fa00"/><rect x="548.76" y="70.90" width="8.22" height="5.64" fill="#fbfa64"/><rect x="556.93" y="70.90" width="8.22" height="5.64" fill="#fdcb3c"/><rect x="565.10" y="70.90" width="8.22" height="5.64" fill="#fbfa64"/><rect x="573.27" y="70.90" width="4.13" height="5.64" fill="#fdcb3c"/><rect x="577.35" y="70.90" width="8.22" height="5.64" fill="#fd9836"/><rect x="585.52" y="70.90" width="16.39" height="5.64" fill="#fbfa64"/><rect x="601.86" y="70.90" width="16.39" height="5.64" fill="#fdcb3c"/><rect x="618.20" y="70.90" width="8.22" height="5.64" fill="#fbfa64"/><rect x="626.37" y="70.90" width="8.22" height="5.64" fill="#fdcb3c"/><rect x="634.54" y="70.90" width="36.81" height="5.64" fill="#fbfa64"/><rect x="377.20" y="76.49" width="20.47" height="5.64" fill="#fbfa64"/><rect x="397.62" y="76.49" width="4.13" height="5.64" fill="#c8fa00"/><rect x="401.71" y="76.49" width="16.39" height="5.64" fill="#fbfa64"/><rect x="418.05" y="76.49" width="16.39" height="5.64" fill="#fdcb3c"/><rect x="434.39" y="76.49" width="36.81" height="5.64" fill="#fbfa64"/><rect x="471.15" y="76.49" width="20.47" height="5.64" fill="#fdcb3c"/><rect x="491.57" y="76.49" width="8.22" height="5.64" fill="#fbfa64"/><rect x="499.74" y="76.49" width="8.22" height="5.64" fill="#fdcb3c"/><rect x="507.91" y="76.49" width="4.13" height="5.64" fill="#fbfa64"/><rect x="512.00" y="76.49" width="4.13" height="5.64" fill="#fdcb3c"/><rect x="516.08" y="76.49" width="8.22" height="5.64" fill="#ffffff"/><rect x="524.25" y="76.49" width="4.13" height="5.64" fill="#fbfa64"/><rect x="528.33" y="76.49" width="4.13" height="5.64" fill="#fdcb3c"/><rect x="532.42" y="76.49" width="8.22" height="5.64" fill="#ffffff"/><rect x="540.59" y="76.49" width="4.13" height="5.64" fill="#fdcb3c"/><rect x="544.67" y="76.49" width="4.13" height="5.64" fill="#ffffff"/><rect x="548.76" y="76.49" width="4.13" height="5.64" fill="#fd9836"/><rect x="552.84" y="76.49" width="4.13" height="5.64" fill="#fbfa64"/><rect x="556.93" y="76.49" width="4.13" height="5.64" fill="#ffffff"/><rect x="561.01" y="76.49" width="4.13" height="5.64" fill="#ff6432"/><rect x="565.10" y="76.49" width="4.13" height="5.64" fill="#64fa00"/><rect x="569.18" y="76.49" width="4.13" height="5.64" fill="#fbfa64"/><rect x="573.27" y="76.49" width="16.39" height="5.64" fill="#fdcb3c"/><rect x="589.61" y="76.49" width="8.22" height="5.64" fill="#fbfa64"/><rect x="597.77" y="76.49" width="12.30" height="5.64" fill="#fdcb3c"/><rect x="610.03" y="76.49" width="4.13" height="5.64" fill="#fbfa64"/><rect x="614.11" y="76.49" width="8.22" height="5.64" fill="#fdcb3c"/><rect x="622.28" y="76.49" width="4.13" height="5.64" fill="#fbfa64"/><rect x="626.37" y="76.49" width="8.22" height="5.64" fill="#fdcb3c"/><rect x="634.54" y="76.49" width="36.81" height="5.64" fill="#fbfa64"/><rect x="377.20" y="82.08" width="49.07" height="5.64" fill="#fbfa64"/><rect x="426.22" y="82.08" width="4.13" height="5.64" fill="#fdcb3c"/><rect x="430.30" y="82.08" width="40.90" height="5.64" fill="#fbfa64"/><rect x="471.15" y="82.08" width="4.13" height="5.64" fill="#fdcb3c"/><rect x="475.23" y="82.08" width="20.47" height="5.64" fill="#fbfa64"/><rect x="495.66" y="82.08" width="16.39" height="5.64" fill="#fdcb3c"/><rect x="512.00" y="82.08" width="4.13" height="5.64" fill="#fd9836"/><rect x="516.08" y="82.08" width="12.30" height="5.64" fill="#fbfa64"/><rect x="528.33" y="82.08" width="8.22" height="5.64" fill="#fdcb3c"/><rect x="536.50" y="82.08" width="4.13" height="5.64" fill="#fbfa64"/><rect x="540.59" y="82.08" width="8.22" height="5.64" fill="#ffffff"/><rect x="548.76" y="82.08" width="4.13" height="5.64" fill="#fd9836"/><rect x="552.84" y="82.08" width="8.22" height="5.64" fill="#fbfa64"/><rect x="561.01" y="82.08" width="4.13" height="5.64" fill="#ffffff"/><rect x="565.10" y="82.08" width="4.13" height="5.64" fill="#fbfa64"/><rect x="569.18" y="82.08" width="16.39" height="5.64" fill="#fdcb3c"/><rect x="585.52" y="82.08" width="8.22" height="5.64" fill="#fd9836"/><rect x="593.69" y="82.08" width="8.22" height="5.64" fill="#fdcb3c"/><rect x="601.86" y="82.08" width="4.13" height="5.64" fill="#fbfa64"/><rect x="605.94" y="82.08" width="4.13" height="5.64" fill="#fdcb3c"/><rect x="610.03" y="82.08" width="4.13" height="5.64" fill="#fbfa64"/><rect x="614.11" y="82.08" width="8.22" height="5.64" fill="#fdcb3c"/><rect x="622.28" y="82.08" width="4.13" height="5.64" fill="#fbfa64"/><rect x="626.37" y="82.08" width="4.13" height="5.64" fill="#fdcb3c"/><rect x="630.45" y="82.08" width="8.22" height="5.64" fill="#fbfa64"/><rect x="638.62" y="82.08" width="8.22" height="5.64" fill="#fdcb3c"/><rect x="646.79" y="82.08" width="24.56" height="5.64" fill="#fbfa64"/><rect x="377.20" y="87.67" width="12.30" height="5.64" fill="#fbfa64"/><rect x="389.45" y="87.67" width="4.13" height="5.64" fill="#c8fa00"/><rect x="393.54" y="87.67" width="65.41" height="5.64" fill="#fbfa64"/><rect x="458.89" y="87.67" width="8.22" height="5.64" fill="#fdcb3c"/><rect x="467.06" y="87.67" width="28.64" height="5.64" fill="#fbfa64"/><rect x="495.66" y="87.67" width="20.47" height="5.64" fill="#fdcb3c"/><rect x="516.08" y="87.67" width="4.13" height="5.64" fill="#fbfa64"/><rect x="520.17" y="87.67" width="8.22" height="5.64" fill="#fdcb3c"/><rect x="528.33" y="87.67" width="8.22" height="5.64" fill="#fbfa64"/><rect x="536.50" y="87.67" width="4.13" height="5.64" fill="#fdcb3c"/><rect x="540.59" y="87.67" width="4.13" height="5.64" fill="#d23200"/><rect x="544.67" y="87.67" width="4.13" height="5.64" fill="#ff6432"/><rect x="548.76" y="87.67" width="4.13" height="5.64" fill="#fd9836"/><rect x="552.84" y="87.67" width="8.22" height="5.64" fill="#fbfa64"/><rect x="561.01" y="87.67" width="20.47" height="5.64" fill="#fdcb3c"/><rect x="581.44" y="87.67" width="4.13" height="5.64" fill="#fbfa64"/><rect x="585.52" y="87.67" width="8.22" height="5.64" fill="#fdcb3c"/><rect x="593.69" y="87.67" width="8.22" height="5.64" fill="#fbfa64"/><rect x="601.86" y="87.67" width="20.47" height="5.64" fill="#fdcb3c"/><rect x="622.28" y="87.67" width="16.39" height="5.64" fill="#fbfa64"/><rect x="638.62" y="87.67" width="8.22" height="5.64" fill="#fdcb3c"/><rect x="646.79" y="87.67" width="24.56" height="5.64" fill="#fbfa64"/><rect x="377.20" y="93.26" width="49.07" height="5.64" fill="#fbfa64"/><rect x="426.22" y="93.26" width="8.22" height="5.64" fill="#fdcb3c"/><rect x="434.39" y="93.26" width="12.30" height="5.64" fill="#fbfa64"/><rect x="446.64" y="93.26" width="20.47" height="5.64" fill="#fdcb3c"/><rect x="467.06" y="93.26" width="28.64" height="5.64" fill="#fbfa64"/><rect x="495.66" y="93.26" width="20.47" height="5.64" fill="#fdcb3c"/><rect x="516.08" y="93.26" width="4.13" height="5.64" fill="#fbfa64"/><rect x="520.17" y="93.26" width="8.22" height="5.64" fill="#fdcb3c"/><rect x="528.33" y="93.26" width="4.13" height="5.64" fill="#fbfa64"/><rect x="532.42" y="93.26" width="4.13" height="5.64" fill="#fdcb3c"/><rect x="536.50" y="93.26" width="4.13" height="5.64" fill="#c8fa00"/><rect x="540.59" y="93.26" width="4.13" height="5.64" fill="#fbfa64"/><rect x="544.67" y="93.26" width="4.13" height="5.64" fill="#ff6432"/><rect x="548.76" y="93.26" width="4.13" height="5.64" fill="#f5005a"/><rect x="552.84" y="93.26" width="8.22" height="5.64" fill="#fbfa64"/><rect x="561.01" y="93.26" width="57.24" height="5.64" fill="#fdcb3c"/><rect x="618.20" y="93.26" width="12.30" height="5.64" fill="#fbfa64"/><rect x="630.45" y="93.26" width="4.13" height="5.64" fill="#fdcb3c"/><rect x="634.54" y="93.26" width="4.13" height="5.64" fill="#fbfa64"/><rect x="638.62" y="93.26" width="8.22" height="5.64" fill="#fdcb3c"/><rect x="646.79" y="93.26" width="8.22" height="5.64" fill="#fbfa64"/><rect x="654.96" y="93.26" width="4.13" height="5.64" fill="#c8fa00"/><rect x="659.05" y="93.26" width="12.30" height="5.64" fill="#fbfa64"/><rect x="377.20" y="98.84" width="4.13" height="5.64" fill="#fdcb3c"/><rect x="381.28" y="98.84" width="8.22" height="5.64" fill="#fbfa64"/><rect x="389.45" y="98.84" width="8.22" height="5.64" fill="#fdcb3c"/><rect x="397.62" y="98.84" width="4.13" height="5.64" fill="#fbfa64"/><rect x="401.71" y="98.84" width="4.13" height="5.64" fill="#fdcb3c"/><rect x="405.79" y="98.84" width="4.13" height="5.64" fill="#fbfa64"/><rect x="409.88" y="98.84" width="4.13" height="5.64" fill="#c8fa00"/><rect x="413.96" y="98.84" width="4.13" height="5.64" fill="#fbfa64"/><rect x="418.05" y="98.84" width="4.13" height="5.64" fill="#fdcb3c"/><rect x="422.13" y="98.84" width="4.13" height="5.64" fill="#fbfa64"/><rect x="426.22" y="98.84" width="8.22" height="5.64" fill="#fdcb3c"/><rect x="434.39" y="98.84" width="4.13" height="5.64" fill="#fbfa64"/><rect x="438.47" y="98.84" width="20.47" height="5.64" fill="#fdcb3c"/><rect x="458.89" y="98.84" width="4.13" height="5.64" fill="#fbfa64"/><rect x="462.98" y="98.84" width="4.13" height="5.64" fill="#ffffff"/><rect x="467.06" y="98.84" width="4.13" height="5.64" fill="#fdcb3c"/><rect x="471.15" y="98.84" width="4.13" height="5.64" fill="#fbfa64"/><rect x="475.23" y="98.84" width="4.13" height="5.64" fill="#ffffff"/><rect x="479.32" y="98.84" width="16.39" height="5.64" fill="#fbfa64"/><rect x="495.66" y="98.84" width="36.81" height="5.64" fill="#fdcb3c"/><rect x="532.42" y="98.84" width="12.30" height="5.64" fill="#fbfa64"/><rect x="544.67" y="98.84" width="4.13" height="5.64" fill="#c8fa00"/><rect x="548.76" y="98.84" width="4.13" height="5.64" fill="#f5005a"/><rect x="552.84" y="98.84" width="8.22" height="5.64" fill="#fbfa64"/><rect x="561.01" y="98.84" width="8.22" height="5.64" fill="#fdcb3c"/><rect x="569.18" y="98.84" width="8.22" height="5.64" fill="#fbfa64"/><rect x="577.35" y="98.84" width="44.98" height="5.64" fill="#fdcb3c"/><rect x="622.28" y="98.84" width="16.39" height="5.64" fill="#fbfa64"/><rect x="638.62" y="98.84" width="12.30" height="5.64" fill="#fdcb3c"/><rect x="650.88" y="98.84" width="4.13" height="5.64" fill="#fbfa64"/><rect x="654.96" y="98.84" width="8.22" height="5.64" fill="#fdcb3c"/><rect x="663.13" y="98.84" width="4.13" height="5.64" fill="#fbfa64"/><rect x="667.22" y="98.84" width="4.13" height="5.64" fill="#fdcb3c"/><rect x="377.20" y="104.43" width="12.30" height="5.64" fill="#fbfa64"/><rect x="389.45" y="104.43" width="20.47" height="5.64" fill="#fdcb3c"/><rect x="409.88" y="104.43" width="4.13" height="5.64" fill="#fbfa64"/><rect x="413.96" y="104.43" width="4.13" height="5.64" fill="#fdcb3c"/><rect x="418.05" y="104.43" width="4.13" height="5.64" fill="#fd9836"/><rect x="422.13" y="104.43" width="12.30" height="5.64" fill="#fdcb3c"/><rect x="434.39" y="104.43" width="12.30" height="5.64" fill="#fd9836"/><rect x="446.64" y="104.43" width="16.39" height="5.64" fill="#fdcb3c"/><rect x="462.98" y="104.43" width="4.13" height="5.64" fill="#c8fa00"/><rect x="467.06" y="104.43" width="12.30" height="5.64" fill="#fdcb3c"/><rect x="479.32" y="104.43" width="16.39" height="5.64" fill="#fbfa64"/><rect x="495.66" y="104.43" width="8.22" height="5.64" fill="#fdcb3c"/><rect x="503.83" y="104.43" width="4.13" height="5.64" fill="#fbfa64"/><rect x="507.91" y="104.43" width="12.30" height="5.64" fill="#fdcb3c"/><rect x="520.17" y="104.43" width="12.30" height="5.64" fill="#fd9836"/><rect x="532.42" y="104.43" width="4.13" height="5.64" fill="#fbfa64"/><rect x="536.50" y="104.43" width="4.13" height="5.64" fill="#fdcb3c"/><rect x="540.59" y="104.43" width="4.13" height="5.64" fill="#fbfa64"/><rect x="544.67" y="104.43" width="8.22" height="5.64" fill="#ffffff"/><rect x="552.84" y="104.43" width="8.22" height="5.64" fill="#fbfa64"/><rect x="561.01" y="104.43" width="4.13" height="5.64" fill="#fdcb3c"/><rect x="565.10" y="104.43" width="4.13" height="5.64" fill="#fbfa64"/><rect x="569.18" y="104.43" width="65.41" height="5.64" fill="#fdcb3c"/><rect x="634.54" y="104.43" width="4.13" height="5.64" fill="#fbfa64"/><rect x="638.62" y="104.43" width="8.22" height="5.64" fill="#fdcb3c"/><rect x="646.79" y="104.43" width="4.13" height="5.64" fill="#fbfa64"/><rect x="650.88" y="104.43" width="20.47" height="5.64" fill="#fdcb3c"/><rect x="377.20" y="110.02" width="16.39" height="5.64" fill="#fbfa64"/><rect x="393.54" y="110.02" width="44.98" height="5.64" fill="#fdcb3c"/><rect x="438.47" y="110.02" width="4.13" height="5.64" fill="#fd9836"/><rect x="442.56" y="110.02" width="12.30" height="5.64" fill="#fdcb3c"/><rect x="454.81" y="110.02" width="4.13" height="5.64" fill="#fd9836"/><rect x="458.89" y="110.02" width="4.13" height="5.64" fill="#fdcb3c"/><rect x="462.98" y="110.02" width="4.13" height="5.64" fill="#fbfa64"/><rect x="467.06" y="110.02" width="4.13" height="5.64" fill="#ffffff"/><rect x="471.15" y="110.02" width="4.13" height="5.64" fill="#c8fa00"/><rect x="475.23" y="110.02" width="4.13" height="5.64" fill="#fbfa64"/><rect x="479.32" y="110.02" width="4.13" height="5.64" fill="#ffffff"/><rect x="483.40" y="110.02" width="8.22" height="5.64" fill="#fd9836"/><rect x="491.57" y="110.02" width="20.47" height="5.64" fill="#fbfa64"/><rect x="512.00" y="110.02" width="4.13" height="5.64" fill="#fdcb3c"/><rect x="516.08" y="110.02" width="4.13" height="5.64" fill="#fbfa64"/><rect x="520.17" y="110.02" width="4.13" height="5.64" fill="#fdcb3c"/><rect x="524.25" y="110.02" width="4.13" height="5.64" fill="#fd9836"/><rect x="528.33" y="110.02" width="4.13" height="5.64" fill="#fdcb3c"/><rect x="532.42" y="110.02" width="20.47" height="5.64" fill="#fbfa64"/><rect x="552.84" y="110.02" width="4.13" height="5.64" fill="#fdcb3c"/><rect x="556.93" y="110.02" width="4.13" height="5.64" fill="#fbfa64"/><rect x="561.01" y="110.02" width="81.74" height="5.64" fill="#fdcb3c"/><rect x="642.71" y="110.02" width="4.13" height="5.64" fill="#fbfa64"/><rect x="646.79" y="110.02" width="4.13" height="5.64" fill="#fdcb3c"/><rect x="650.88" y="110.02" width="4.13" height="5.64" fill="#fbfa64"/><rect x="654.96" y="110.02" width="16.39" height="5.64" fill="#fdcb3c"/><rect x="377.20" y="115.61" width="12.30" height="5.64" fill="#fbfa64"/><rect x="389.45" y="115.61" width="8.22" height="5.64" fill="#fdcb3c"/><rect x="397.62" y="115.61" width="4.13" height="5.64" fill="#fbfa64"/><rect x="401.71" y="115.61" width="53.15" height="5.64" fill="#fdcb3c"/><rect x="454.81" y="115.61" width="4.13" height="5.64" fill="#fd9836"/><rect x="458.89" y="115.61" width="12.30" height="5.64" fill="#fbfa64"/><rect x="471.15" y="115.61" width="4.13" height="5.64" fill="#c8fa00"/><rect x="475.23" y="115.61" width="8.22" height="5.64" fill="#ffffff"/><rect x="483.40" y="115.61" width="4.13" height="5.64" fill="#fd9836"/><rect x="487.49" y="115.61" width="4.13" height="5.64" fill="#fdcb3c"/><rect x="491.57" y="115.61" width="12.30" height="5.64" fill="#fbfa64"/><rect x="503.83" y="115.61" width="4.13" height="5.64" fill="#fdcb3c"/><rect x="507.91" y="115.61" width="12.30" height="5.64" fill="#fbfa64"/><rect x="520.17" y="115.61" width="8.22" height="5.64" fill="#fdcb3c"/><rect x="528.33" y="115.61" width="4.13" height="5.64" fill="#fd9836"/><rect x="532.42" y="115.61" width="8.22" height="5.64" fill="#fbfa64"/><rect x="540.59" y="115.61" width="4.13" height="5.64" fill="#ffffff"/><rect x="544.67" y="115.61" width="4.13" height="5.64" fill="#fdcb3c"/><rect x="548.76" y="115.61" width="4.13" height="5.64" fill="#fbfa64"/><rect x="552.84" y="115.61" width="4.13" height="5.64" fill="#fdcb3c"/><rect x="556.93" y="115.61" width="4.13" height="5.64" fill="#fbfa64"/><rect x="561.01" y="115.61" width="57.24" height="5.64" fill="#fdcb3c"/><rect x="618.20" y="115.61" width="4.13" height="5.64" fill="#fbfa64"/><rect x="622.28" y="115.61" width="16.39" height="5.64" fill="#fdcb3c"/><rect x="638.62" y="115.61" width="8.22" height="5.64" fill="#fbfa64"/><rect x="646.79" y="115.61" width="24.56" height="5.64" fill="#fdcb3c"/><rect x="377.20" y="121.20" width="24.56" height="5.64" fill="#fbfa64"/><rect x="401.71" y="121.20" width="44.98" height="5.64" fill="#fdcb3c"/><rect x="446.64" y="121.20" width="16.39" height="5.64" fill="#fbfa64"/><rect x="462.98" y="121.20" width="4.13" height="5.64" fill="#fdcb3c"/><rect x="467.06" y="121.20" width="8.22" height="5.64" fill="#c8fa00"/><rect x="475.23" y="121.20" width="4.13" height="5.64" fill="#fbfa64"/><rect x="479.32" y="121.20" width="4.13" height="5.64" fill="#ffffff"/><rect x="483.40" y="121.20" width="8.22" height="5.64" fill="#fd9836"/><rect x="491.57" y="121.20" width="12.30" height="5.64" fill="#fbfa64"/><rect x="503.83" y="121.20" width="8.22" height="5.64" fill="#fdcb3c"/><rect x="512.00" y="121.20" width="4.13" height="5.64" fill="#fbfa64"/><rect x="516.08" y="121.20" width="20.47" height="5.64" fill="#fdcb3c"/><rect x="536.50" y="121.20" width="4.13" height="5.64" fill="#fbfa64"/><rect x="540.59" y="121.20" width="4.13" height="5.64" fill="#fdcb3c"/><rect x="544.67" y="121.20" width="4.13" height="5.64" fill="#fd9836"/><rect x="548.76" y="121.20" width="12.30" height="5.64" fill="#fdcb3c"/><rect x="561.01" y="121.20" width="4.13" height="5.64" fill="#fbfa64"/><rect x="565.10" y="121.20" width="20.47" height="5.64" fill="#fdcb3c"/><rect x="585.52" y="121.20" width="4.13" height="5.64" fill="#fd9836"/><rect x="589.61" y="121.20" width="32.73" height="5.64" fill="#fdcb3c"/><rect x="622.28" y="121.20" width="4.13" height="5.64" fill="#fbfa64"/><rect x="626.37" y="121.20" width="4.13" height="5.64" fill="#c8fa00"/><rect x="630.45" y="121.20" width="4.13" height="5.64" fill="#fdcb3c"/><rect x="634.54" y="121.20" width="8.22" height="5.64" fill="#fbfa64"/><rect x="642.71" y="121.20" width="8.22" height="5.64" fill="#fdcb3c"/><rect x="650.88" y="121.20" width="4.13" height="5.64" fill="#fbfa64"/><rect x="654.96" y="121.20" width="12.30" height="5.64" fill="#fdcb3c"/><rect x="667.22" y="121.20" width="4.13" height="5.64" fill="#fbfa64"/><rect x="377.20" y="126.79" width="12.30" height="5.64" fill="#fbfa64"/><rect x="389.45" y="126.79" width="4.13" height="5.64" fill="#c8fa00"/><rect x="393.54" y="126.79" width="4.13" height="5.64" fill="#fbfa64"/><rect x="397.62" y="126.79" width="4.13" height="5.64" fill="#fdcb3c"/><rect x="401.71" y="126.79" width="8.22" height="5.64" fill="#fbfa64"/><rect x="409.88" y="126.79" width="4.13" height="5.64" fill="#fdcb3c"/><rect x="413.96" y="126.79" width="4.13" height="5.64" fill="#fbfa64"/><rect x="418.05" y="126.79" width="12.30" height="5.64" fill="#fdcb3c"/><rect x="430.30" y="126.79" width="12.30" height="5.64" fill="#fbfa64"/><rect x="442.56" y="126.79" width="4.13" height="5.64" fill="#fdcb3c"/><rect x="446.64" y="126.79" width="16.39" height="5.64" fill="#fbfa64"/><rect x="462.98" y="126.79" width="8.22" height="5.64" fill="#fdcb3c"/><rect x="471.15" y="126.79" width="8.22" height="5.64" fill="#fbfa64"/><rect x="479.32" y="126.79" width="8.22" height="5.64" fill="#fd9836"/><rect x="487.49" y="126.79" width="4.13" height="5.64" fill="#fdcb3c"/><rect x="491.57" y="126.79" width="4.13" height="5.64" fill="#fbfa64"/><rect x="495.66" y="126.79" width="4.13" height="5.64" fill="#fdcb3c"/><rect x="499.74" y="126.79" width="4.13" height="5.64" fill="#fbfa64"/><rect x="503.83" y="126.79" width="16.39" height="5.64" fill="#fdcb3c"/><rect x="520.17" y="126.79" width="8.22" height="5.64" fill="#fbfa64"/><rect x="528.33" y="126.79" width="8.22" height="5.64" fill="#fdcb3c"/><rect x="536.50" y="126.79" width="4.13" height="5.64" fill="#fd9836"/><rect x="540.59" y="126.79" width="4.13" height="5.64" fill="#ffffff"/><rect x="544.67" y="126.79" width="4.13" height="5.64" fill="#fdcb3c"/><rect x="548.76" y="126.79" width="4.13" height="5.64" fill="#fbfa64"/><rect x="552.84" y="126.79" width="36.81" height="5.64" fill="#fdcb3c"/><rect x="589.61" y="126.79" width="4.13" height="5.64" fill="#fbfa64"/><rect x="593.69" y="126.79" width="28.64" height="5.64" fill="#fdcb3c"/><rect x="622.28" y="126.79" width="4.13" height="5.64" fill="#ffffff"/><rect x="626.37" y="126.79" width="4.13" height="5.64" fill="#fbfa64"/><rect x="630.45" y="126.79" width="12.30" height="5.64" fill="#fd9836"/><rect x="642.71" y="126.79" width="8.22" height="5.64" fill="#fdcb3c"/><rect x="650.88" y="126.79" width="20.47" height="5.64" fill="#fbfa64"/><rect x="377.20" y="132.38" width="24.56" height="5.64" fill="#fbfa64"/><rect x="401.71" y="132.38" width="4.13" height="5.64" fill="#fdcb3c"/><rect x="405.79" y="132.38" width="4.13" height="5.64" fill="#fbfa64"/><rect x="409.88" y="132.38" width="4.13" height="5.64" fill="#fdcb3c"/><rect x="413.96" y="132.38" width="12.30" height="5.64" fill="#fbfa64"/><rect x="426.22" y="132.38" width="4.13" height="5.64" fill="#fdcb3c"/><rect x="430.30" y="132.38" width="20.47" height="5.64" fill="#fbfa64"/><rect x="450.73" y="132.38" width="4.13" height="5.64" fill="#c8fa00"/><rect x="454.81" y="132.38" width="12.30" height="5.64" fill="#fbfa64"/><rect x="467.06" y="132.38" width="8.22" height="5.64" fill="#fdcb3c"/><rect x="475.23" y="132.38" width="8.22" height="5.64" fill="#fbfa64"/><rect x="483.40" y="132.38" width="12.30" height="5.64" fill="#fdcb3c"/><rect x="495.66" y="132.38" width="4.13" height="5.64" fill="#fbfa64"/><rect x="499.74" y="132.38" width="20.47" height="5.64" fill="#fdcb3c"/><rect x="520.17" y="132.38" width="12.30" height="5.64" fill="#fbfa64"/><rect x="532.42" y="132.38" width="4.13" height="5.64" fill="#fdcb3c"/><rect x="536.50" y="132.38" width="4.13" height="5.64" fill="#fbfa64"/><rect x="540.59" y="132.38" width="4.13" height="5.64" fill="#fd9836"/><rect x="544.67" y="132.38" width="32.73" height="5.64" fill="#fdcb3c"/><rect x="577.35" y="132.38" width="4.13" height="5.64" fill="#fbfa64"/><rect x="581.44" y="132.38" width="44.98" height="5.64" fill="#fdcb3c"/><rect x="626.37" y="132.38" width="4.13" height="5.64" fill="#ffffff"/><rect x="630.45" y="132.38" width="12.30" height="5.64" fill="#fd9836"/><rect x="642.71" y="132.38" width="12.30" height="5.64" fill="#fdcb3c"/><rect x="654.96" y="132.38" width="16.39" height="5.64" fill="#fbfa64"/><rect x="377.20" y="137.97" width="4.13" height="5.64" fill="#fbfa64"/><rect x="381.28" y="137.97" width="28.64" height="5.64" fill="#fdcb3c"/><rect x="409.88" y="137.97" width="8.22" height="5.64" fill="#fbfa64"/><rect x="418.05" y="137.97" width="4.13" height="5.64" fill="#fdcb3c"/><rect x="422.13" y="137.97" width="4.13" height="5.64" fill="#fbfa64"/><rect x="426.22" y="137.97" width="4.13" height="5.64" fill="#fdcb3c"/><rect x="430.30" y="137.97" width="12.30" height="5.64" fill="#fbfa64"/><rect x="442.56" y="137.97" width="8.22" height="5.64" fill="#fdcb3c"/><rect x="450.73" y="137.97" width="16.39" height="5.64" fill="#fbfa64"/><rect x="467.06" y="137.97" width="4.13" height="5.64" fill="#fdcb3c"/><rect x="471.15" y="137.97" width="12.30" height="5.64" fill="#fbfa64"/><rect x="483.40" y="137.97" width="167.52" height="5.64" fill="#fdcb3c"/><rect x="650.88" y="137.97" width="20.47" height="5.64" fill="#fbfa64"/><rect x="377.20" y="143.56" width="8.22" height="5.64" fill="#fbfa64"/><rect x="385.37" y="143.56" width="32.73" height="5.64" fill="#fdcb3c"/><rect x="418.05" y="143.56" width="28.64" height="5.64" fill="#fbfa64"/><rect x="446.64" y="143.56" width="4.13" height="5.64" fill="#c8fa00"/><rect x="450.73" y="143.56" width="12.30" height="5.64" fill="#fbfa64"/><rect x="462.98" y="143.56" width="4.13" height="5.64" fill="#fdcb3c"/><rect x="467.06" y="143.56" width="8.22" height="5.64" fill="#fd9836"/><rect x="475.23" y="143.56" width="4.13" height="5.64" fill="#fbfa64"/><rect x="479.32" y="143.56" width="4.13" height="5.64" fill="#fd9836"/><rect x="483.40" y="143.56" width="16.39" height="5.64" fill="#fdcb3c"/><rect x="499.74" y="143.56" width="4.13" height="5.64" fill="#fbfa64"/><rect x="503.83" y="143.56" width="4.13" height="5.64" fill="#fdcb3c"/><rect x="507.91" y="143.56" width="4.13" height="5.64" fill="#fbfa64"/><rect x="512.00" y="143.56" width="16.39" height="5.64" fill="#fdcb3c"/><rect x="528.33" y="143.56" width="8.22" height="5.64" fill="#fd9836"/><rect x="536.50" y="143.56" width="8.22" height="5.64" fill="#fdcb3c"/><rect x="544.67" y="143.56" width="8.22" height="5.64" fill="#fbfa64"/><rect x="552.84" y="143.56" width="57.24" height="5.64" fill="#fdcb3c"/><rect x="610.03" y="143.56" width="12.30" height="5.64" fill="#fbfa64"/><rect x="622.28" y="143.56" width="32.73" height="5.64" fill="#fdcb3c"/><rect x="654.96" y="143.56" width="16.39" height="5.64" fill="#fbfa64"/><rect x="377.20" y="149.14" width="12.30" height="5.64" fill="#fbfa64"/><rect x="389.45" y="149.14" width="28.64" height="5.64" fill="#fdcb3c"/><rect x="418.05" y="149.14" width="4.13" height="5.64" fill="#fbfa64"/><rect x="422.13" y="149.14" width="4.13" height="5.64" fill="#fd9836"/><rect x="426.22" y="149.14" width="8.22" height="5.64" fill="#fbfa64"/><rect x="434.39" y="149.14" width="4.13" height="5.64" fill="#c8fa00"/><rect x="438.47" y="149.14" width="8.22" height="5.64" fill="#fbfa64"/><rect x="446.64" y="149.14" width="28.64" height="5.64" fill="#fdcb3c"/><rect x="475.23" y="149.14" width="4.13" height="5.64" fill="#fbfa64"/><rect x="479.32" y="149.14" width="4.13" height="5.64" fill="#d23200"/><rect x="483.40" y="149.14" width="8.22" height="5.64" fill="#fd9836"/><rect x="491.57" y="149.14" width="8.22" height="5.64" fill="#fdcb3c"/><rect x="499.74" y="149.14" width="8.22" height="5.64" fill="#fd9836"/><rect x="507.91" y="149.14" width="4.13" height="5.64" fill="#fbfa64"/><rect x="512.00" y="149.14" width="12.30" height="5.64" fill="#fdcb3c"/><rect x="524.25" y="149.14" width="4.13" height="5.64" fill="#fd9836"/><rect x="528.33" y="149.14" width="4.13" height="5.64" fill="#c8fa00"/><rect x="532.42" y="149.14" width="4.13" height="5.64" fill="#fdcb3c"/><rect x="536.50" y="149.14" width="4.13" height="5.64" fill="#c8fa00"/><rect x="540.59" y="149.14" width="12.30" height="5.64" fill="#ff6432"/><rect x="552.84" y="149.14" width="8.22" height="5.64" fill="#fdcb3c"/><rect x="561.01" y="149.14" width="4.13" height="5.64" fill="#fbfa64"/><rect x="565.10" y="149.14" width="16.39" height="5.64" fill="#fd9836"/><rect x="581.44" y="149.14" width="4.13" height="5.64" fill="#fdcb3c"/><rect x="585.52" y="149.14" width="16.39" height="5.64" fill="#fbfa64"/><rect x="601.86" y="149.14" width="4.13" height="5.64" fill="#fdcb3c"/><rect x="605.94" y="149.14" width="61.32" height="5.64" fill="#fbfa64"/><rect x="667.22" y="149.14" width="4.13" height="5.64" fill="#fdcb3c"/><rect x="377.20" y="154.73" width="12.30" height="5.64" fill="#fbfa64"/><rect x="389.45" y="154.73" width="32.73" height="5.64" fill="#fdcb3c"/><rect x="422.13" y="154.73" width="4.13" height="5.64" fill="#fbfa64"/><rect x="426.22" y="154.73" width="4.13" height="5.64" fill="#fdcb3c"/><rect x="430.30" y="154.73" width="8.22" height="5.64" fill="#fd9836"/><rect x="438.47" y="154.73" width="20.47" height="5.64" fill="#fdcb3c"/><rect x="458.89" y="154.73" width="4.13" height="5.64" fill="#fbfa64"/><rect x="462.98" y="154.73" width="8.22" height="5.64" fill="#fdcb3c"/><rect x="471.15" y="154.73" width="8.22" height="5.64" fill="#fbfa64"/><rect x="479.32" y="154.73" width="12.30" height="5.64" fill="#fd9836"/><rect x="491.57" y="154.73" width="4.13" height="5.64" fill="#fdcb3c"/><rect x="495.66" y="154.73" width="4.13" height="5.64" fill="#c8fa00"/><rect x="499.74" y="154.73" width="4.13" height="5.64" fill="#fbfa64"/><rect x="503.83" y="154.73" width="4.13" height="5.64" fill="#fdcb3c"/><rect x="507.91" y="154.73" width="4.13" height="5.64" fill="#fbfa64"/><rect x="512.00" y="154.73" width="4.13" height="5.64" fill="#fdcb3c"/><rect x="516.08" y="154.73" width="4.13" height="5.64" fill="#64fa00"/><rect x="520.17" y="154.73" width="4.13" height="5.64" fill="#fdcb3c"/><rect x="524.25" y="154.73" width="4.13" height="5.64" fill="#fbfa64"/><rect x="528.33" y="154.73" width="4.13" height="5.64" fill="#c8fa00"/><rect x="532.42" y="154.73" width="4.13" height="5.64" fill="#fdcb3c"/><rect x="536.50" y="154.73" width="4.13" height="5.64" fill="#fbfa64"/><rect x="540.59" y="154.73" width="4.13" height="5.64" fill="#c8fa00"/><rect x="544.67" y="154.73" width="4.13" height="5.64" fill="#fbfa64"/><rect x="548.76" y="154.73" width="8.22" height="5.64" fill="#fdcb3c"/><rect x="556.93" y="154.73" width="8.22" height="5.64" fill="#fbfa64"/><rect x="565.10" y="154.73" width="4.13" height="5.64" fill="#fdcb3c"/><rect x="569.18" y="154.73" width="20.47" height="5.64" fill="#fbfa64"/><rect x="589.61" y="154.73" width="4.13" height="5.64" fill="#64fa00"/><rect x="593.69" y="154.73" width="8.22" height="5.64" fill="#fd9836"/><rect x="601.86" y="154.73" width="4.13" height="5.64" fill="#fbfa64"/><rect x="605.94" y="154.73" width="4.13" height="5.64" fill="#c8fa00"/><rect x="610.03" y="154.73" width="4.13" height="5.64" fill="#64fa00"/><rect x="614.11" y="154.73" width="8.22" height="5.64" fill="#fbfa64"/><rect x="622.28" y="154.73" width="4.13" height="5.64" fill="#c8fa00"/><rect x="626.37" y="154.73" width="8.22" height="5.64" fill="#fbfa64"/><rect x="634.54" y="154.73" width="4.13" height="5.64" fill="#c8fa00"/><rect x="638.62" y="154.73" width="16.39" height="5.64" fill="#fbfa64"/><rect x="654.96" y="154.73" width="4.13" height="5.64" fill="#c8fa00"/><rect x="659.05" y="154.73" width="4.13" height="5.64" fill="#fbfa64"/><rect x="663.13" y="154.73" width="8.22" height="5.64" fill="#c8fa00"/><rect x="377.20" y="160.32" width="16.39" height="5.64" fill="#fbfa64"/><rect x="393.54" y="160.32" width="8.22" height="5.64" fill="#fdcb3c"/><rect x="401.71" y="160.32" width="4.13" height="5.64" fill="#fbfa64"/><rect x="405.79" y="160.32" width="4.13" height="5.64" fill="#fd9836"/><rect x="409.88" y="160.32" width="12.30" height="5.64" fill="#fbfa64"/><rect x="422.13" y="160.32" width="4.13" height="5.64" fill="#fdcb3c"/><rect x="426.22" y="160.32" width="4.13" height="5.64" fill="#c8fa00"/><rect x="430.30" y="160.32" width="12.30" height="5.64" fill="#fbfa64"/><rect x="442.56" y="160.32" width="8.22" height="5.64" fill="#fdcb3c"/><rect x="450.73" y="160.32" width="12.30" height="5.64" fill="#fbfa64"/><rect x="462.98" y="160.32" width="12.30" height="5.64" fill="#fdcb3c"/><rect x="475.23" y="160.32" width="16.39" height="5.64" fill="#fbfa64"/><rect x="491.57" y="160.32" width="8.22" height="5.64" fill="#c8fa00"/><rect x="499.74" y="160.32" width="4.13" height="5.64" fill="#fbfa64"/><rect x="503.83" y="160.32" width="4.13" height="5.64" fill="#fdcb3c"/><rect x="507.91" y="160.32" width="4.13" height="5.64" fill="#fbfa64"/><rect x="512.00" y="160.32" width="4.13" height="5.64" fill="#c8fa00"/><rect x="516.08" y="160.32" width="4.13" height="5.64" fill="#fbfa64"/><rect x="520.17" y="160.32" width="4.13" height="5.64" fill="#fdcb3c"/><rect x="524.25" y="160.32" width="16.39" height="5.64" fill="#fbfa64"/><rect x="540.59" y="160.32" width="4.13" height="5.64" fill="#c8fa00"/><rect x="544.67" y="160.32" width="8.22" height="5.64" fill="#fbfa64"/><rect x="552.84" y="160.32" width="4.13" height="5.64" fill="#c8fa00"/><rect x="556.93" y="160.32" width="4.13" height="5.64" fill="#fbfa64"/><rect x="561.01" y="160.32" width="4.13" height="5.64" fill="#c8fa00"/><rect x="565.10" y="160.32" width="4.13" height="5.64" fill="#fbfa64"/><rect x="569.18" y="160.32" width="4.13" height="5.64" fill="#c8fa00"/><rect x="573.27" y="160.32" width="61.32" height="5.64" fill="#fbfa64"/><rect x="634.54" y="160.32" width="4.13" height="5.64" fill="#c8fa00"/><rect x="638.62" y="160.32" width="16.39" height="5.64" fill="#fbfa64"/><rect x="654.96" y="160.32" width="4.13" height="5.64" fill="#fdcb3c"/><rect x="659.05" y="160.32" width="12.30" height="5.64" fill="#c8fa00"/><rect x="377.20" y="165.91" width="4.13" height="5.64" fill="#fbfa64"/><rect x="381.28" y="165.91" width="16.39" height="5.64" fill="#64fa00"/><rect x="397.62" y="165.91" width="4.13" height="5.64" fill="#fbfa64"/><rect x="401.71" y="165.91" width="4.13" height="5.64" fill="#64fa00"/><rect x="405.79" y="165.91" width="4.13" height="5.64" fill="#c8fa00"/><rect x="409.88" y="165.91" width="12.30" height="5.64" fill="#fbfa64"/><rect x="422.13" y="165.91" width="4.13" height="5.64" fill="#fdcb3c"/><rect x="426.22" y="165.91" width="4.13" height="5.64" fill="#fbfa64"/><rect x="430.30" y="165.91" width="8.22" height="5.64" fill="#fd9836"/><rect x="438.47" y="165.91" width="8.22" height="5.64" fill="#fbfa64"/><rect x="446.64" y="165.91" width="4.13" height="5.64" fill="#fdcb3c"/><rect x="450.73" y="165.91" width="8.22" height="5.64" fill="#fbfa64"/><rect x="458.89" y="165.91" width="12.30" height="5.64" fill="#fdcb3c"/><rect x="471.15" y="165.91" width="4.13" height="5.64" fill="#fbfa64"/><rect x="475.23" y="165.91" width="16.39" height="5.64" fill="#c8fa00"/><rect x="491.57" y="165.91" width="4.13" height="5.64" fill="#fbfa64"/><rect x="495.66" y="165.91" width="8.22" height="5.64" fill="#c8fa00"/><rect x="503.83" y="165.91" width="4.13" height="5.64" fill="#fbfa64"/><rect x="507.91" y="165.91" width="4.13" height="5.64" fill="#c8fa00"/><rect x="512.00" y="165.91" width="4.13" height="5.64" fill="#fbfa64"/><rect x="516.08" y="165.91" width="20.47" height="5.64" fill="#c8fa00"/><rect x="536.50" y="165.91" width="8.22" height="5.64" fill="#fbfa64"/><rect x="544.67" y="165.91" width="4.13" height="5.64" fill="#fdcb3c"/><rect x="548.76" y="165.91" width="4.13" height="5.64" fill="#fbfa64"/><rect x="552.84" y="165.91" width="16.39" height="5.64" fill="#c8fa00"/><rect x="569.18" y="165.91" width="8.22" height="5.64" fill="#fbfa64"/><rect x="577.35" y="165.91" width="4.13" height="5.64" fill="#c8fa00"/><rect x="581.44" y="165.91" width="4.13" height="5.64" fill="#fbfa64"/><rect x="585.52" y="165.91" width="4.13" height="5.64" fill="#c8fa00"/><rect x="589.61" y="165.91" width="12.30" height="5.64" fill="#fbfa64"/><rect x="601.86" y="165.91" width="4.13" height="5.64" fill="#fdcb3c"/><rect x="605.94" y="165.91" width="8.22" height="5.64" fill="#fbfa64"/><rect x="614.11" y="165.91" width="8.22" height="5.64" fill="#c8fa00"/><rect x="622.28" y="165.91" width="8.22" height="5.64" fill="#fbfa64"/><rect x="630.45" y="165.91" width="4.13" height="5.64" fill="#fdcb3c"/><rect x="634.54" y="165.91" width="4.13" height="5.64" fill="#fbfa64"/><rect x="638.62" y="165.91" width="4.13" height="5.64" fill="#c8fa00"/><rect x="642.71" y="165.91" width="12.30" height="5.64" fill="#fbfa64"/><rect x="654.96" y="165.91" width="8.22" height="5.64" fill="#c8fa00"/><rect x="663.13" y="165.91" width="8.22" height="5.64" fill="#fbfa64"/></g>
<path d="M387.0,31.2 L390.3,29.5 L388.6,27.5 L393.5,25.6 L396.8,24.7 L400.1,25.3 L405.8,26.1 L409.1,26.5 L413.1,27.3 L418.0,26.2 L422.1,26.7 L426.2,27.3 L430.3,28.4 L434.4,28.4 L438.5,27.9 L444.2,28.4 L447.5,26.7 L450.7,27.9 L454.8,26.7 L457.3,29.5 L454.8,31.2 L453.2,32.9 L448.3,35.1 L447.5,38.5 L448.7,40.7 L452.4,41.8 L454.8,42.6 L457.3,45.2 L459.7,46.9 L459.7,43.5 L461.3,40.7 L460.5,37.4 L460.9,34.6 L464.6,35.1 L467.1,36.2 L467.5,38.5 L471.1,37.4 L472.0,39.6 L474.0,41.8 L476.9,44.1 L478.5,46.3 L475.2,48.5 L470.3,48.5 L467.1,51.3 L471.1,50.2 L472.0,53.0 L474.4,53.6 L470.3,54.7 L467.1,55.8 L466.7,57.8 L463.8,59.2 L462.6,62.0 L462.2,63.1 L462.6,64.8 L460.5,66.4 L458.1,69.2 L457.8,70.9 L458.9,74.3 L458.5,76.3 L457.7,75.9 L456.7,73.7 L456.4,72.0 L455.2,70.9 L454.0,70.5 L451.5,70.6 L450.7,71.8 L447.5,71.3 L445.0,73.1 L444.6,75.9 L444.4,79.8 L445.8,83.2 L447.5,84.1 L449.9,83.4 L450.3,81.0 L453.2,80.4 L452.8,83.8 L452.1,86.5 L455.6,86.8 L456.3,88.2 L456.0,92.1 L457.3,94.4 L459.7,93.8 L460.9,94.7 L460.5,96.1 L458.9,96.4 L458.1,95.5 L456.0,94.9 L454.2,93.3 L454.0,91.6 L452.8,89.9 L449.9,88.8 L448.3,86.8 L447.0,86.3 L445.0,86.8 L442.6,85.4 L440.1,84.1 L438.1,82.1 L438.1,79.3 L436.4,77.0 L434.4,74.3 L432.3,71.5 L430.7,69.2 L430.5,70.9 L431.9,74.3 L433.2,76.5 L434.4,78.7 L434.0,77.6 L432.8,76.8 L431.1,73.7 L430.3,71.2 L429.1,69.0 L428.5,67.9 L427.4,66.4 L425.7,65.8 L424.2,62.5 L423.1,60.3 L422.7,57.5 L422.9,53.0 L422.4,50.3 L420.1,48.0 L418.0,44.1 L415.6,40.7 L413.1,39.0 L410.3,37.6 L406.6,37.4 L403.3,36.8 L400.5,37.9 L398.4,39.6 L396.0,40.7 L392.7,42.1 L390.7,43.0 L393.5,41.3 L395.2,39.0 L391.9,38.8 L389.9,36.8 L389.0,35.1 L389.9,33.8 L392.7,32.3 L389.9,32.3 L387.0,31.2 M476.9,19.5 L477.7,21.7 L479.3,25.1 L481.0,27.3 L482.6,30.7 L483.4,32.9 L485.0,35.7 L488.3,37.4 L489.9,36.2 L491.6,32.3 L494.8,31.0 L498.1,28.4 L503.0,27.9 L506.3,26.2 L506.3,23.4 L508.7,21.2 L509.5,19.5 M471.1,34.6 L473.6,30.1 L469.5,26.7 L465.4,24.5 L460.5,23.1 L454.8,22.3 L451.5,24.5 L454.8,26.2 L458.1,26.7 L460.5,29.0 L464.6,30.1 L463.8,32.3 L466.2,34.0 L471.1,34.6 M427.9,27.3 L438.5,27.3 L441.7,26.2 L438.5,22.8 L430.3,22.8 L427.0,24.5 L427.9,27.3 M422.1,24.5 L425.4,24.5 L428.7,22.3 L426.2,21.2 L422.1,21.7 L422.1,24.5 M446.6,24.0 L450.7,24.0 L450.7,21.7 L446.6,21.7 L445.0,22.8 L446.6,24.0 M453.2,33.5 L456.4,34.6 L458.1,32.9 L454.8,31.2 L453.2,33.5 M475.8,51.2 L478.5,49.1 L478.9,46.9 L481.0,49.1 L481.1,51.3 L479.3,52.1 L475.8,51.2 M454.8,80.0 L457.3,78.5 L460.9,80.1 L463.6,81.9 L460.9,82.2 L458.9,80.2 L454.8,80.0 M463.5,83.8 L464.9,82.2 L467.1,82.4 L468.4,83.8 L465.8,84.6 L463.5,83.8 M460.9,94.7 L462.2,93.8 L462.6,92.7 L463.8,91.9 L465.4,91.2 L467.1,90.8 L468.7,92.7 L471.1,93.1 L473.6,92.5 L474.4,94.4 L476.1,95.5 L477.7,97.7 L480.1,98.0 L481.8,98.8 L482.6,100.0 L483.4,102.4 L483.4,104.4 L485.0,105.6 L487.9,107.2 L490.8,107.8 L492.8,108.6 L495.4,110.4 L495.7,112.3 L495.7,114.5 L494.0,116.7 L492.6,119.0 L492.4,122.3 L491.8,125.7 L490.8,129.0 L489.1,130.1 L487.5,130.9 L485.0,132.9 L484.6,135.7 L483.4,138.0 L481.4,141.3 L480.1,143.3 L478.5,143.4 L477.3,143.6 L477.7,145.2 L477.3,146.9 L473.6,148.0 L473.4,149.7 L471.1,150.3 L472.0,151.9 L470.7,154.7 L469.1,156.4 L470.3,157.5 L468.3,160.3 L467.9,162.6 L468.3,164.0 L469.9,165.9 L467.1,166.2 L463.8,163.7 L462.6,160.3 L463.0,157.0 L463.8,153.1 L464.2,150.3 L464.2,145.8 L465.4,141.3 L465.8,138.0 L466.2,132.4 L466.8,126.8 L466.7,124.9 L465.0,123.4 L462.2,120.1 L461.3,117.8 L459.7,113.4 L457.9,111.1 L458.1,108.9 L458.9,107.2 L458.5,105.0 L458.9,103.3 L459.7,102.8 L460.9,100.0 L461.1,97.2 L460.9,94.7 M516.7,56.4 L516.9,60.8 L516.9,63.1 L519.3,63.6 L519.8,64.2 L522.6,63.4 L524.2,61.4 L524.2,60.3 L526.7,57.5 L527.1,56.0 L529.2,56.4 L530.8,55.3 L532.0,55.0 L532.8,56.4 L534.5,58.0 L536.9,59.7 L537.3,62.0 L538.1,60.8 L539.4,59.5 L538.1,58.6 L537.3,57.7 L535.7,56.9 L534.5,54.7 L534.5,53.6 L535.4,53.4 L536.5,54.1 L538.1,56.4 L540.2,57.7 L540.2,59.7 L541.4,62.0 L542.6,63.6 L543.0,62.0 L543.9,61.4 L543.0,59.4 L545.5,58.8 L545.5,59.7 L545.9,61.4 L546.7,63.1 L547.9,63.6 L550.4,64.0 L553.7,63.6 L553.7,64.2 L553.5,65.3 L552.8,67.5 L552.4,69.2 L550.8,69.7 L550.9,70.9 L552.0,73.1 L552.8,73.1 L554.5,76.5 L556.1,80.4 L557.7,84.9 L559.4,88.8 L559.8,90.2 L561.0,90.1 L563.5,88.8 L566.7,87.1 L569.2,85.4 L570.8,83.4 L572.0,81.0 L573.1,79.3 L572.0,77.9 L570.4,77.0 L570.2,74.9 L568.4,77.4 L566.3,77.0 L565.9,75.4 L565.1,74.8 L563.9,72.6 L563.5,70.9 L565.1,70.6 L565.9,73.1 L567.5,74.3 L570.4,74.0 L571.6,75.7 L574.5,76.3 L578.6,76.0 L579.4,77.6 L580.6,79.3 L581.8,81.2 L583.7,83.2 L584.3,86.5 L585.1,89.3 L586.3,93.3 L587.6,95.5 L588.8,93.8 L589.6,91.0 L589.8,87.7 L591.2,86.0 L593.3,83.2 L595.3,80.4 L597.0,79.8 L599.0,79.3 L599.7,81.0 L601.0,84.3 L601.5,86.5 L603.9,86.0 L604.3,89.3 L604.7,93.3 L604.7,95.5 L606.1,98.3 L606.8,101.1 L608.8,103.0 L609.4,102.8 L608.8,100.0 L608.6,98.3 L607.2,96.8 L606.4,96.1 L605.5,93.3 L605.3,90.5 L605.9,89.3 L606.8,90.2 L608.4,91.6 L610.0,94.7 L611.3,92.7 L613.3,91.4 L613.5,89.3 L612.9,87.1 L611.3,84.9 L610.6,83.2 L611.4,81.5 L612.5,80.4 L614.1,80.7 L614.9,80.3 L617.0,79.4 L619.4,78.7 L621.1,76.9 L622.0,75.1 L623.5,72.8 L623.9,70.9 L623.1,69.8 L623.8,69.0 L622.7,67.5 L621.9,65.3 L622.7,64.0 L624.3,63.1 L623.5,62.3 L621.9,62.9 L621.1,62.0 L620.4,61.4 L620.6,60.6 L622.3,59.7 L623.5,58.6 L623.3,60.8 L623.9,60.3 L625.6,59.9 L626.4,62.2 L627.6,62.5 L627.4,65.9 L628.4,65.8 L629.9,65.0 L630.0,63.6 L630.0,62.0 L628.8,60.8 L628.8,59.7 L630.0,58.6 L630.9,57.2 L632.9,56.6 L634.9,55.5 L637.0,52.5 L638.9,50.2 L639.0,47.4 L639.7,45.2 L637.8,44.1 L636.2,44.1 L636.0,43.0 L637.0,41.3 L639.4,38.5 L641.1,38.1 L644.3,38.1 L647.6,38.5 L650.1,38.0 L650.9,37.4 L652.5,35.5 L655.0,35.7 L657.4,34.6 L658.6,34.6 L657.4,37.4 L656.4,39.6 L657.0,41.3 L655.8,44.6 L653.7,45.8 L652.1,47.4 L651.7,45.8 L651.5,42.4 L651.7,40.2 L653.3,39.6 L655.0,37.4 L655.8,36.2 L658.6,34.6 L663.1,37.4 L665.6,35.7 L668.8,34.6 L670.5,34.8 L671.3,31.8 L674.6,32.0 L677.0,32.6 L679.5,30.7 L677.0,29.0 L671.3,27.3 L667.2,26.4 L663.1,26.2 L659.9,26.7 L655.0,25.3 L648.4,25.1 L642.7,23.7 L638.6,23.4 L634.5,24.5 L630.5,25.1 L628.8,23.4 L626.4,22.3 L622.3,22.8 L616.6,22.1 L614.1,21.2 L612.5,19.5 L605.9,19.5 L601.9,19.7 L597.8,20.0 L595.3,21.7 L591.2,22.3 L589.6,23.6 L585.5,23.1 L583.5,25.1 L583.9,27.9 L581.4,29.8 L580.2,28.1 L579.0,25.6 L578.6,27.3 L573.3,27.5 L570.0,28.1 L567.5,27.9 L563.5,28.6 L560.2,28.0 L559.8,30.3 L556.9,30.1 L553.7,29.9 L557.7,28.6 L552.8,27.1 L548.8,26.2 L545.5,25.1 L540.6,26.2 L537.3,27.9 L534.9,29.0 L534.3,31.2 L532.4,33.1 L530.8,34.0 L528.3,35.1 L528.3,37.4 L528.7,38.7 L530.0,39.6 L530.8,39.4 L532.8,38.1 L533.2,38.7 L534.1,40.2 L534.6,41.8 L535.7,42.4 L537.3,41.5 L537.7,40.2 L539.4,37.9 L539.5,36.8 L538.5,35.7 L538.4,34.6 L541.4,32.6 L542.2,30.9 L544.9,31.4 L544.3,32.0 L541.8,33.5 L541.7,36.2 L542.9,37.4 L545.1,36.9 L547.5,36.8 L548.6,37.4 L547.1,37.9 L543.4,38.3 L543.9,39.3 L544.3,40.4 L541.8,40.4 L541.4,41.8 L541.6,42.7 L540.2,43.6 L538.1,43.3 L535.9,44.2 L534.1,43.8 L533.1,44.0 L532.4,43.3 L531.6,40.9 L532.8,40.0 L532.8,41.8 L530.9,42.4 L531.2,44.4 L530.0,44.6 L528.1,45.4 L527.1,47.0 L525.5,47.7 L525.5,48.5 L524.2,49.1 L523.2,50.0 L523.0,48.9 L520.6,50.1 L520.7,51.0 L522.6,51.6 L523.3,52.8 L523.2,54.7 L522.8,55.9 L521.0,55.8 L517.7,55.6 L516.7,56.4 M222.6,56.4 L222.8,60.8 L222.8,63.1 L225.2,63.6 L225.7,64.2 L228.5,63.4 L230.2,61.4 L230.2,60.3 L232.6,57.5 L233.0,56.0 L235.1,56.4 L236.7,55.3 L237.9,55.0 L238.7,56.4 L240.4,58.0 L242.8,59.7 L243.2,62.0 L244.0,60.8 L245.3,59.5 L244.0,58.6 L243.2,57.7 L241.6,56.9 L240.4,54.7 L240.4,53.6 L241.3,53.4 L242.4,54.1 L244.0,56.4 L246.1,57.7 L246.1,59.7 L247.3,62.0 L248.5,63.6 L248.9,62.0 L249.8,61.4 L248.9,59.4 L251.4,58.8 L251.4,59.7 L251.8,61.4 L252.6,63.1 L253.8,63.6 L256.3,64.0 L259.6,63.6 L259.6,64.2 L259.4,65.3 L258.7,67.5 L258.3,69.2 L256.7,69.7 L256.8,70.9 L257.9,73.1 L258.7,73.1 L260.4,76.5 L262.0,80.4 L263.6,84.9 L265.3,88.8 L265.7,90.2 L266.9,90.1 L269.4,88.8 L272.6,87.1 L275.1,85.4 L276.7,83.4 L277.9,81.0 L279.0,79.3 L277.9,77.9 L276.3,77.0 L276.1,74.9 L274.3,77.4 L272.2,77.0 L271.8,75.4 L271.0,74.8 L269.8,72.6 L269.4,70.9 L271.0,70.6 L271.8,73.1 L273.4,74.3 L276.3,74.0 L277.5,75.7 L280.4,76.3 L284.5,76.0 L285.3,77.6 L286.5,79.3 L287.7,81.2 L289.6,83.2 L290.2,86.5 L291.0,89.3 L292.2,93.3 L293.5,95.5 L294.7,93.8 L295.5,91.0 L295.7,87.7 L297.1,86.0 L299.2,83.2 L301.2,80.4 L302.9,79.8 L304.9,79.3 L305.6,81.0 L306.9,84.3 L307.4,86.5 L309.8,86.0 L310.2,89.3 L310.6,93.3 L310.6,95.5 L312.0,98.3 L312.7,101.1 L314.7,103.0 L315.3,102.8 L314.7,100.0 L314.5,98.3 L313.1,96.8 L312.3,96.1 L311.4,93.3 L311.2,90.5 L311.8,89.3 L312.7,90.2 L314.3,91.6 L315.9,94.7 L317.2,92.7 L319.2,91.4 L319.4,89.3 L318.8,87.1 L317.2,84.9 L316.5,83.2 L317.3,81.5 L318.4,80.4 L320.0,80.7 L320.8,80.3 L322.9,79.4 L325.3,78.7 L327.0,76.9 L327.9,75.1 L329.4,72.8 L329.8,70.9 L329.0,69.8 L329.7,69.0 L328.6,67.5 L327.8,65.3 L328.6,64.0 L330.2,63.1 L329.4,62.3 L327.8,62.9 L327.0,62.0 L326.3,61.4 L326.5,60.6 L328.2,59.7 L329.4,58.6 L329.2,60.8 L329.8,60.3 L331.5,59.9 L332.3,62.2 L333.5,62.5 L333.3,65.9 L334.3,65.8 L335.8,65.0 L335.9,63.6 L335.9,62.0 L334.7,60.8 L334.7,59.7 L335.9,58.6 L336.8,57.2 L338.8,56.6 L340.8,55.5 L342.9,52.5 L344.8,50.2 L344.9,47.4 L345.6,45.2 L343.7,44.1 L342.1,44.1 L341.9,43.0 L342.9,41.3 L345.3,38.5 L347.0,38.1 L350.2,38.1 L353.5,38.5 L356.0,38.0 L356.8,37.4 L358.4,35.5 L360.9,35.7 L363.3,34.6 L364.5,34.6 L363.3,37.4 L362.3,39.6 L362.9,41.3 L361.7,44.6 L359.6,45.8 L358.0,47.4 L357.6,45.8 L357.4,42.4 L357.6,40.2 L359.2,39.6 L360.9,37.4 L361.7,36.2 L364.5,34.6 L369.0,37.4 L371.5,35.7 L374.7,34.6 L376.4,34.8 L377.2,31.8 L380.5,32.0 L382.9,32.6 L385.4,30.7 L382.9,29.0 L377.2,27.3 L373.1,26.4 L369.0,26.2 L365.8,26.7 L360.9,25.3 L354.3,25.1 L348.6,23.7 L344.5,23.4 L340.4,24.5 L336.4,25.1 L334.7,23.4 L332.3,22.3 L328.2,22.8 L322.5,22.1 L320.0,21.2 L318.4,19.5 L311.8,19.5 L307.8,19.7 L303.7,20.0 L301.2,21.7 L297.1,22.3 L295.5,23.6 L291.4,23.1 L289.4,25.1 L289.8,27.9 L287.3,29.8 L286.1,28.1 L284.9,25.6 L284.5,27.3 L279.2,27.5 L275.9,28.1 L273.4,27.9 L269.4,28.6 L266.1,28.0 L265.7,30.3 L262.8,30.1 L259.6,29.9 L263.6,28.6 L258.7,27.1 L254.7,26.2 L251.4,25.1 L246.5,26.2 L243.2,27.9 L240.8,29.0 L240.2,31.2 L238.3,33.1 L236.7,34.0 L234.2,35.1 L234.2,37.4 L234.6,38.7 L235.9,39.6 L236.7,39.4 L238.7,38.1 L239.1,38.7 L240.0,40.2 L240.5,41.8 L241.6,42.4 L243.2,41.5 L243.6,40.2 L245.3,37.9 L245.4,36.8 L244.4,35.7 L244.3,34.6 L247.3,32.6 L248.1,30.9 L250.8,31.4 L250.2,32.0 L247.7,33.5 L247.6,36.2 L248.8,37.4 L251.0,36.9 L253.4,36.8 L254.5,37.4 L253.0,37.9 L249.3,38.3 L249.8,39.3 L250.2,40.4 L247.7,40.4 L247.3,41.8 L247.5,42.7 L246.1,43.6 L244.0,43.3 L241.8,44.2 L240.0,43.8 L239.0,44.0 L238.3,43.3 L237.5,40.9 L238.7,40.0 L238.7,41.8 L236.8,42.4 L237.1,44.4 L235.9,44.6 L234.0,45.4 L233.0,47.0 L231.4,47.7 L231.4,48.5 L230.2,49.1 L229.1,50.0 L228.9,48.9 L226.5,50.1 L226.6,51.0 L228.5,51.6 L229.2,52.8 L229.1,54.7 L228.7,55.9 L226.9,55.8 L223.6,55.6 L222.6,56.4 M547.1,58.0 L547.9,58.4 L549.8,58.4 L552.8,57.5 L555.3,58.6 L558.2,58.0 L558.2,56.9 L556.9,55.8 L554.9,54.5 L554.1,53.8 L552.8,54.1 L551.6,54.7 L550.8,53.8 L551.6,53.0 L549.6,52.3 L548.8,53.2 L548.4,53.9 L547.7,54.9 L547.0,56.6 L547.1,58.0 M562.6,54.7 L564.7,52.5 L566.1,51.9 L567.5,52.1 L567.5,54.1 L566.2,54.7 L565.9,56.4 L567.2,57.7 L568.4,58.8 L567.5,60.3 L568.4,62.7 L565.9,63.3 L564.3,62.5 L564.1,61.4 L564.7,59.4 L563.5,57.5 L563.1,56.4 L562.6,54.7 M519.6,48.5 L521.8,47.9 L525.4,47.2 L525.6,45.5 L524.4,44.6 L524.1,43.7 L523.0,42.4 L522.6,41.3 L522.8,40.0 L521.4,39.9 L521.8,38.9 L520.2,38.9 L519.3,40.2 L519.6,41.8 L520.2,43.0 L521.6,43.1 L521.6,44.9 L520.6,44.9 L520.8,46.1 L520.0,46.6 L521.4,47.0 L519.6,48.5 M519.3,46.1 L519.2,44.3 L519.8,43.2 L518.1,42.6 L517.3,43.5 L516.1,44.3 L516.7,45.8 L515.8,46.5 L517.3,46.8 L519.3,46.1 M505.9,32.9 L506.3,31.2 L504.6,30.7 L506.3,30.3 L511.2,30.1 L512.4,31.2 L513.2,31.8 L512.0,32.6 L508.9,33.6 L505.9,32.9 M631.2,66.4 L632.5,64.8 L634.9,64.6 L636.0,62.7 L637.4,62.0 L638.6,59.2 L639.8,58.3 L640.3,60.3 L639.4,61.6 L639.4,63.6 L639.3,65.3 L638.5,65.4 L637.6,65.6 L636.2,65.9 L634.9,67.0 L633.3,66.1 L631.2,66.4 M630.3,67.0 L631.7,66.7 L631.9,68.3 L631.3,69.6 L630.6,69.4 L630.3,67.8 L630.3,67.0 M638.6,57.5 L639.0,56.0 L640.0,53.7 L641.5,55.0 L643.1,56.0 L641.3,57.5 L639.8,56.9 L638.6,57.5 M640.3,53.0 L641.5,52.2 L641.1,49.7 L642.3,49.7 L641.1,46.3 L641.1,43.7 L640.7,43.7 L640.3,46.9 L640.3,51.3 L640.3,53.0 M622.4,79.2 L622.9,80.0 L623.8,76.7 L623.6,76.3 L622.4,78.2 L622.4,79.2 M622.3,83.8 L624.2,83.8 L623.9,86.0 L623.5,88.2 L625.6,89.9 L622.8,89.0 L622.3,86.5 L622.3,83.8 M623.9,96.6 L625.6,94.9 L626.8,93.8 L627.6,96.1 L626.8,97.7 L625.6,97.4 L623.9,96.6 M602.1,98.2 L603.9,98.6 L606.4,102.0 L609.2,105.6 L610.8,107.8 L610.7,110.9 L609.6,111.0 L607.8,108.9 L606.8,106.7 L604.7,102.4 L602.1,98.2 M610.2,112.0 L611.3,111.1 L612.9,111.7 L614.9,111.7 L616.2,112.1 L617.8,113.0 L617.8,114.2 L614.9,113.6 L612.5,113.2 L610.8,112.8 L610.2,112.0 M613.3,102.8 L614.1,106.1 L614.9,107.8 L617.8,108.9 L619.4,108.1 L619.0,105.6 L620.5,103.3 L621.5,98.8 L620.2,96.6 L619.0,97.2 L618.2,98.8 L617.0,100.5 L615.3,101.9 L613.7,102.4 L613.3,102.8 M621.9,110.6 L622.7,107.2 L623.1,103.3 L626.4,102.8 L623.8,104.1 L624.7,105.3 L623.5,106.4 L624.3,109.5 L623.1,107.6 L622.7,110.6 L621.9,110.6 M631.3,105.6 L633.7,105.3 L634.9,108.1 L637.0,106.4 L639.4,107.3 L642.3,108.7 L643.5,110.6 L645.2,113.4 L647.2,116.2 L644.3,115.6 L643.5,113.4 L641.5,114.5 L640.3,114.7 L639.4,114.5 L637.4,113.7 L637.0,112.8 L636.6,110.0 L634.5,109.2 L632.9,108.9 L632.1,107.6 L631.3,105.6 M617.0,129.0 L617.4,133.5 L618.2,138.0 L618.8,141.9 L618.2,142.8 L620.2,143.6 L622.3,142.3 L625.1,142.3 L627.2,140.5 L629.6,139.8 L631.7,139.6 L633.7,141.0 L635.2,143.3 L636.6,141.3 L637.0,144.1 L638.2,144.4 L638.6,146.3 L641.1,147.8 L643.8,148.1 L645.2,146.7 L646.8,146.3 L647.4,143.0 L648.8,140.2 L649.7,136.3 L649.2,132.9 L647.4,129.8 L646.0,127.3 L643.8,125.7 L643.1,121.2 L641.5,120.1 L640.7,116.4 L639.9,119.0 L639.8,122.3 L639.0,124.0 L637.8,123.4 L635.4,121.2 L635.8,119.5 L636.0,117.8 L634.5,118.1 L632.5,117.3 L630.9,118.2 L630.0,121.2 L628.8,121.2 L627.2,120.1 L625.6,122.9 L624.2,124.6 L623.1,126.2 L620.6,127.1 L619.0,127.7 L617.4,128.8 L617.0,129.0 M642.5,149.9 L645.4,150.2 L645.2,152.7 L643.5,153.2 L642.5,149.9 M665.3,142.9 L666.8,145.2 L667.9,145.8 L670.1,146.6 L668.8,148.4 L668.0,150.8 L667.0,150.6 L667.2,148.6 L666.2,148.3 L666.9,146.3 L665.3,142.9 M665.3,149.7 L666.6,151.0 L665.6,153.1 L664.4,154.0 L663.5,155.9 L661.9,156.5 L660.3,155.9 L661.5,153.6 L663.5,152.2 L664.8,150.3 L665.3,149.7 M519.4,64.4 L522.6,65.2 L525.1,63.6 L526.7,63.3 L531.2,63.2 L532.8,62.9 L533.2,63.3 L532.8,64.8 L533.2,65.9 L532.4,66.7 L533.6,67.5 L536.5,68.2 L539.8,70.6 L540.6,69.8 L540.6,68.4 L542.2,67.7 L544.7,68.9 L547.9,69.9 L550.6,69.4 L550.9,70.9 L550.8,71.5 L551.6,73.7 L552.8,77.6 L554.7,81.0 L555.7,84.3 L556.5,87.1 L558.2,89.3 L559.6,90.5 L560.2,92.7 L562.6,91.9 L566.1,91.2 L565.9,92.7 L564.3,97.7 L562.6,100.5 L560.2,103.9 L558.2,106.3 L556.9,108.3 L556.4,110.0 L556.3,112.8 L556.8,115.6 L557.3,117.8 L557.4,121.2 L554.9,124.2 L553.3,127.9 L553.3,131.3 L551.2,132.9 L551.0,136.3 L549.6,138.0 L547.9,140.5 L546.3,142.0 L544.7,142.4 L542.6,142.4 L540.6,143.3 L539.4,142.4 L539.0,140.8 L538.1,137.4 L536.9,134.6 L536.1,130.1 L534.9,126.8 L533.9,123.4 L534.5,119.0 L535.3,116.7 L534.1,111.1 L534.2,110.0 L532.0,106.7 L531.8,104.4 L532.3,101.6 L532.0,100.0 L531.2,99.4 L529.2,99.6 L527.9,97.4 L525.9,97.4 L523.4,98.8 L521.8,98.8 L518.1,99.5 L516.5,98.3 L514.9,96.8 L513.5,94.9 L512.0,92.4 L510.6,90.5 L510.2,88.0 L510.8,86.0 L511.0,82.6 L510.4,81.0 L512.0,77.6 L513.2,74.8 L515.3,73.1 L516.2,71.5 L516.5,68.1 L518.5,66.7 L519.4,64.4 M564.5,117.8 L565.5,121.8 L564.7,124.0 L563.9,127.9 L562.6,132.4 L561.0,132.9 L559.8,129.0 L560.4,125.7 L560.2,123.4 L562.2,122.0 L563.5,120.1 L564.5,117.8 M589.4,93.5 L591.1,96.1 L590.4,97.7 L589.6,97.5 L589.4,93.5 M566.7,25.1 L567.5,22.8 L570.0,21.2 L573.3,19.5 L571.6,21.7 L570.0,24.0 L569.2,25.3 L566.7,25.1" fill="none" stroke="#000" stroke-width="0.85" stroke-linejoin="round" clip-path="url(#clip0)"/>
<path d="M377.20,171.50v-6.50 M377.20,20.60v6.50 M401.71,171.50v-6.50 M401.71,20.60v6.50 M426.22,171.50v-6.50 M426.22,20.60v6.50 M450.72,171.50v-6.50 M450.72,20.60v6.50 M475.23,171.50v-6.50 M475.23,20.60v6.50 M499.74,171.50v-6.50 M499.74,20.60v6.50 M524.25,171.50v-6.50 M524.25,20.60v6.50 M548.76,171.50v-6.50 M548.76,20.60v6.50 M573.27,171.50v-6.50 M573.27,20.60v6.50 M597.77,171.50v-6.50 M597.77,20.60v6.50 M622.28,171.50v-6.50 M622.28,20.60v6.50 M646.79,171.50v-6.50 M646.79,20.60v6.50 M671.30,171.50v-6.50 M671.30,20.60v6.50 M377.20,20.60h10.50 M671.30,20.60h-10.50 M377.20,28.98h6.80 M671.30,28.98h-6.80 M377.20,37.37h10.50 M671.30,37.37h-10.50 M377.20,45.75h6.80 M671.30,45.75h-6.80 M377.20,54.13h10.50 M671.30,54.13h-10.50 M377.20,62.52h6.80 M671.30,62.52h-6.80 M377.20,70.90h10.50 M671.30,70.90h-10.50 M377.20,79.28h6.80 M671.30,79.28h-6.80 M377.20,87.67h10.50 M671.30,87.67h-10.50 M377.20,96.05h6.80 M671.30,96.05h-6.80 M377.20,104.43h10.50 M671.30,104.43h-10.50 M377.20,112.82h6.80 M671.30,112.82h-6.80 M377.20,121.20h10.50 M671.30,121.20h-10.50 M377.20,129.58h6.80 M671.30,129.58h-6.80 M377.20,137.97h10.50 M671.30,137.97h-10.50 M377.20,146.35h6.80 M671.30,146.35h-6.80 M377.20,154.73h10.50 M671.30,154.73h-10.50 M377.20,163.12h6.80 M671.30,163.12h-6.80 M377.20,171.50h10.50 M671.30,171.50h-10.50" stroke="#000" stroke-width="1.3" fill="none"/>
<rect x="377.20" y="20.60" width="294.10" height="150.90" fill="none" stroke="#000" stroke-width="1.5"/>
<text transform="translate(371.80,23.80) scale(1.120,1)" text-anchor="end" font-size="8.60" fill="#333">75</text>
<text transform="translate(371.80,40.57) scale(1.120,1)" text-anchor="end" font-size="8.60" fill="#333">60</text>
<text transform="translate(371.80,57.33) scale(1.120,1)" text-anchor="end" font-size="8.60" fill="#333">45</text>
<text transform="translate(371.80,74.10) scale(1.120,1)" text-anchor="end" font-size="8.60" fill="#333">30</text>
<text transform="translate(371.80,90.87) scale(1.120,1)" text-anchor="end" font-size="8.60" fill="#333">15</text>
<text transform="translate(371.80,107.63) scale(1.120,1)" text-anchor="end" font-size="8.60" fill="#333">0</text>
<rect x="353.79" y="120.85" width="6.00" height="0.95" fill="#333"/><text transform="translate(361.09,124.40) scale(1.120,1)" text-anchor="start" font-size="8.60" fill="#333">15</text>
<rect x="353.79" y="137.62" width="6.00" height="0.95" fill="#333"/><text transform="translate(361.09,141.17) scale(1.120,1)" text-anchor="start" font-size="8.60" fill="#333">30</text>
<rect x="353.79" y="154.39" width="6.00" height="0.95" fill="#333"/><text transform="translate(361.09,157.93) scale(1.120,1)" text-anchor="start" font-size="8.60" fill="#333">45</text>
<rect x="353.79" y="171.15" width="6.00" height="0.95" fill="#333"/><text transform="translate(361.09,174.70) scale(1.120,1)" text-anchor="start" font-size="8.60" fill="#333">60</text>
<rect x="365.67" y="182.05" width="6.00" height="0.95" fill="#333"/><text transform="translate(372.97,185.60) scale(1.120,1)" text-anchor="start" font-size="8.60" fill="#333">180</text>
<rect x="414.68" y="182.05" width="6.00" height="0.95" fill="#333"/><text transform="translate(421.98,185.60) scale(1.120,1)" text-anchor="start" font-size="8.60" fill="#333">120</text>
<rect x="466.38" y="182.05" width="6.00" height="0.95" fill="#333"/><text transform="translate(473.68,185.60) scale(1.120,1)" text-anchor="start" font-size="8.60" fill="#333">60</text>
<text transform="translate(524.25,185.60) scale(1.120,1)" text-anchor="middle" font-size="8.60" fill="#333">0</text>
<text transform="translate(573.27,185.60) scale(1.120,1)" text-anchor="middle" font-size="8.60" fill="#333">60</text>
<text transform="translate(622.28,185.60) scale(1.120,1)" text-anchor="middle" font-size="8.60" fill="#333">120</text>
<text transform="translate(671.30,185.60) scale(1.120,1)" text-anchor="middle" font-size="8.60" fill="#333">180</text>
<clipPath id="clip1"><rect x="377.20" y="209.35" width="294.10" height="150.85"/></clipPath>
<g shape-rendering="crispEdges"><rect x="377.20" y="209.35" width="4.13" height="5.64" fill="#fd9836"/><rect x="381.28" y="209.35" width="8.22" height="5.64" fill="#ff6432"/><rect x="389.45" y="209.35" width="4.13" height="5.64" fill="#fd9836"/><rect x="393.54" y="209.35" width="4.13" height="5.64" fill="#ff6432"/><rect x="397.62" y="209.35" width="4.13" height="5.64" fill="#fd9836"/><rect x="401.71" y="209.35" width="4.13" height="5.64" fill="#fdcb3c"/><rect x="405.79" y="209.35" width="4.13" height="5.64" fill="#ff6432"/><rect x="409.88" y="209.35" width="8.22" height="5.64" fill="#f5005a"/><rect x="418.05" y="209.35" width="4.13" height="5.64" fill="#ff6432"/><rect x="422.13" y="209.35" width="4.13" height="5.64" fill="#d23200"/><rect x="426.22" y="209.35" width="4.13" height="5.64" fill="#ff6432"/><rect x="430.30" y="209.35" width="16.39" height="5.64" fill="#fbfa64"/><rect x="446.64" y="209.35" width="4.13" height="5.64" fill="#fd9836"/><rect x="450.73" y="209.35" width="4.13" height="5.64" fill="#fdcb3c"/><rect x="454.81" y="209.35" width="4.13" height="5.64" fill="#f5005a"/><rect x="458.89" y="209.35" width="4.13" height="5.64" fill="#fd9836"/><rect x="462.98" y="209.35" width="4.13" height="5.64" fill="#f5005a"/><rect x="467.06" y="209.35" width="4.13" height="5.64" fill="#fd9836"/><rect x="471.15" y="209.35" width="4.13" height="5.64" fill="#fdcb3c"/><rect x="475.23" y="209.35" width="4.13" height="5.64" fill="#f5005a"/><rect x="479.32" y="209.35" width="4.13" height="5.64" fill="#fbfa64"/><rect x="483.40" y="209.35" width="20.47" height="5.64" fill="#ffffff"/><rect x="503.83" y="209.35" width="4.13" height="5.64" fill="#a0006e"/><rect x="507.91" y="209.35" width="4.13" height="5.64" fill="#f5005a"/><rect x="512.00" y="209.35" width="20.47" height="5.64" fill="#fd9836"/><rect x="532.42" y="209.35" width="32.73" height="5.64" fill="#fdcb3c"/><rect x="565.10" y="209.35" width="8.22" height="5.64" fill="#fd9836"/><rect x="573.27" y="209.35" width="4.13" height="5.64" fill="#f5005a"/><rect x="577.35" y="209.35" width="4.13" height="5.64" fill="#fd9836"/><rect x="581.44" y="209.35" width="4.13" height="5.64" fill="#f5005a"/><rect x="585.52" y="209.35" width="4.13" height="5.64" fill="#fd9836"/><rect x="589.61" y="209.35" width="4.13" height="5.64" fill="#a0006e"/><rect x="593.69" y="209.35" width="12.30" height="5.64" fill="#ffffff"/><rect x="605.94" y="209.35" width="4.13" height="5.64" fill="#d200ff"/><rect x="610.03" y="209.35" width="4.13" height="5.64" fill="#ffffff"/><rect x="614.11" y="209.35" width="8.22" height="5.64" fill="#fd9836"/><rect x="622.28" y="209.35" width="4.13" height="5.64" fill="#ff6432"/><rect x="626.37" y="209.35" width="8.22" height="5.64" fill="#fd9836"/><rect x="634.54" y="209.35" width="4.13" height="5.64" fill="#ff6432"/><rect x="638.62" y="209.35" width="4.13" height="5.64" fill="#fd9836"/><rect x="642.71" y="209.35" width="8.22" height="5.64" fill="#d23200"/><rect x="650.88" y="209.35" width="8.22" height="5.64" fill="#f5005a"/><rect x="659.05" y="209.35" width="4.13" height="5.64" fill="#ff6432"/><rect x="663.13" y="209.35" width="8.22" height="5.64" fill="#fd9836"/><rect x="377.20" y="214.94" width="8.22" height="5.64" fill="#fd9836"/><rect x="385.37" y="214.94" width="4.13" height="5.64" fill="#d23200"/><rect x="389.45" y="214.94" width="4.13" height="5.64" fill="#f5005a"/><rect x="393.54" y="214.94" width="4.13" height="5.64" fill="#ffffff"/><rect x="397.62" y="214.94" width="4.13" height="5.64" fill="#f5005a"/><rect x="401.71" y="214.94" width="4.13" height="5.64" fill="#ffffff"/><rect x="405.79" y="214.94" width="16.39" height="5.64" fill="#d23200"/><rect x="422.13" y="214.94" width="4.13" height="5.64" fill="#f5005a"/><rect x="426.22" y="214.94" width="4.13" height="5.64" fill="#d23200"/><rect x="430.30" y="214.94" width="4.13" height="5.64" fill="#ff6432"/><rect x="434.39" y="214.94" width="4.13" height="5.64" fill="#fd9836"/><rect x="438.47" y="214.94" width="8.22" height="5.64" fill="#ff6432"/><rect x="446.64" y="214.94" width="4.13" height="5.64" fill="#fd9836"/><rect x="450.73" y="214.94" width="4.13" height="5.64" fill="#ffffff"/><rect x="454.81" y="214.94" width="4.13" height="5.64" fill="#d23200"/><rect x="458.89" y="214.94" width="8.22" height="5.64" fill="#a0006e"/><rect x="467.06" y="214.94" width="4.13" height="5.64" fill="#d23200"/><rect x="471.15" y="214.94" width="4.13" height="5.64" fill="#fd9836"/><rect x="475.23" y="214.94" width="8.22" height="5.64" fill="#fdcb3c"/><rect x="483.40" y="214.94" width="12.30" height="5.64" fill="#ffffff"/><rect x="495.66" y="214.94" width="4.13" height="5.64" fill="#f5005a"/><rect x="499.74" y="214.94" width="24.56" height="5.64" fill="#fd9836"/><rect x="524.25" y="214.94" width="12.30" height="5.64" fill="#fdcb3c"/><rect x="536.50" y="214.94" width="4.13" height="5.64" fill="#fd9836"/><rect x="540.59" y="214.94" width="8.22" height="5.64" fill="#f5005a"/><rect x="548.76" y="214.94" width="16.39" height="5.64" fill="#fd9836"/><rect x="565.10" y="214.94" width="8.22" height="5.64" fill="#d200ff"/><rect x="573.27" y="214.94" width="4.13" height="5.64" fill="#f5005a"/><rect x="577.35" y="214.94" width="8.22" height="5.64" fill="#d200ff"/><rect x="585.52" y="214.94" width="8.22" height="5.64" fill="#ffffff"/><rect x="593.69" y="214.94" width="4.13" height="5.64" fill="#d200ff"/><rect x="597.77" y="214.94" width="8.22" height="5.64" fill="#ffffff"/><rect x="605.94" y="214.94" width="4.13" height="5.64" fill="#d200ff"/><rect x="610.03" y="214.94" width="4.13" height="5.64" fill="#ffffff"/><rect x="614.11" y="214.94" width="4.13" height="5.64" fill="#a0006e"/><rect x="618.20" y="214.94" width="4.13" height="5.64" fill="#ffffff"/><rect x="622.28" y="214.94" width="4.13" height="5.64" fill="#d23200"/><rect x="626.37" y="214.94" width="4.13" height="5.64" fill="#ffffff"/><rect x="630.45" y="214.94" width="4.13" height="5.64" fill="#ff6432"/><rect x="634.54" y="214.94" width="12.30" height="5.64" fill="#ffffff"/><rect x="646.79" y="214.94" width="12.30" height="5.64" fill="#f5005a"/><rect x="659.05" y="214.94" width="4.13" height="5.64" fill="#d200ff"/><rect x="663.13" y="214.94" width="4.13" height="5.64" fill="#ffffff"/><rect x="667.22" y="214.94" width="4.13" height="5.64" fill="#ff6432"/><rect x="377.20" y="220.52" width="4.13" height="5.64" fill="#ff6432"/><rect x="381.28" y="220.52" width="4.13" height="5.64" fill="#fd9836"/><rect x="385.37" y="220.52" width="4.13" height="5.64" fill="#ff6432"/><rect x="389.45" y="220.52" width="8.22" height="5.64" fill="#a0006e"/><rect x="397.62" y="220.52" width="4.13" height="5.64" fill="#fd9836"/><rect x="401.71" y="220.52" width="4.13" height="5.64" fill="#ff6432"/><rect x="405.79" y="220.52" width="4.13" height="5.64" fill="#f5005a"/><rect x="409.88" y="220.52" width="12.30" height="5.64" fill="#a0006e"/><rect x="422.13" y="220.52" width="16.39" height="5.64" fill="#d23200"/><rect x="438.47" y="220.52" width="8.22" height="5.64" fill="#ff6432"/><rect x="446.64" y="220.52" width="8.22" height="5.64" fill="#fd9836"/><rect x="454.81" y="220.52" width="4.13" height="5.64" fill="#d23200"/><rect x="458.89" y="220.52" width="4.13" height="5.64" fill="#a0006e"/><rect x="462.98" y="220.52" width="4.13" height="5.64" fill="#f5005a"/><rect x="467.06" y="220.52" width="4.13" height="5.64" fill="#a0006e"/><rect x="471.15" y="220.52" width="4.13" height="5.64" fill="#d23200"/><rect x="475.23" y="220.52" width="40.90" height="5.64" fill="#fdcb3c"/><rect x="516.08" y="220.52" width="4.13" height="5.64" fill="#fbfa64"/><rect x="520.17" y="220.52" width="12.30" height="5.64" fill="#fdcb3c"/><rect x="532.42" y="220.52" width="8.22" height="5.64" fill="#fd9836"/><rect x="540.59" y="220.52" width="8.22" height="5.64" fill="#f5005a"/><rect x="548.76" y="220.52" width="12.30" height="5.64" fill="#d23200"/><rect x="561.01" y="220.52" width="28.64" height="5.64" fill="#a0006e"/><rect x="589.61" y="220.52" width="8.22" height="5.64" fill="#ffffff"/><rect x="597.77" y="220.52" width="16.39" height="5.64" fill="#a0006e"/><rect x="614.11" y="220.52" width="4.13" height="5.64" fill="#ffffff"/><rect x="618.20" y="220.52" width="4.13" height="5.64" fill="#a0006e"/><rect x="622.28" y="220.52" width="4.13" height="5.64" fill="#d23200"/><rect x="626.37" y="220.52" width="4.13" height="5.64" fill="#f5005a"/><rect x="630.45" y="220.52" width="4.13" height="5.64" fill="#ff6432"/><rect x="634.54" y="220.52" width="4.13" height="5.64" fill="#ffffff"/><rect x="638.62" y="220.52" width="4.13" height="5.64" fill="#d23200"/><rect x="642.71" y="220.52" width="4.13" height="5.64" fill="#ffffff"/><rect x="646.79" y="220.52" width="4.13" height="5.64" fill="#d23200"/><rect x="650.88" y="220.52" width="4.13" height="5.64" fill="#ff6432"/><rect x="654.96" y="220.52" width="4.13" height="5.64" fill="#fd9836"/><rect x="659.05" y="220.52" width="4.13" height="5.64" fill="#ff6432"/><rect x="663.13" y="220.52" width="4.13" height="5.64" fill="#d23200"/><rect x="667.22" y="220.52" width="4.13" height="5.64" fill="#f5005a"/><rect x="377.20" y="226.11" width="4.13" height="5.64" fill="#fdcb3c"/><rect x="381.28" y="226.11" width="4.13" height="5.64" fill="#fd9836"/><rect x="385.37" y="226.11" width="8.22" height="5.64" fill="#fdcb3c"/><rect x="393.54" y="226.11" width="4.13" height="5.64" fill="#fd9836"/><rect x="397.62" y="226.11" width="16.39" height="5.64" fill="#fdcb3c"/><rect x="413.96" y="226.11" width="4.13" height="5.64" fill="#ff6432"/><rect x="418.05" y="226.11" width="8.22" height="5.64" fill="#d23200"/><rect x="426.22" y="226.11" width="4.13" height="5.64" fill="#a0006e"/><rect x="430.30" y="226.11" width="16.39" height="5.64" fill="#d23200"/><rect x="446.64" y="226.11" width="4.13" height="5.64" fill="#f5005a"/><rect x="450.73" y="226.11" width="4.13" height="5.64" fill="#fd9836"/><rect x="454.81" y="226.11" width="4.13" height="5.64" fill="#ff6432"/><rect x="458.89" y="226.11" width="4.13" height="5.64" fill="#d23200"/><rect x="462.98" y="226.11" width="4.13" height="5.64" fill="#ffffff"/><rect x="467.06" y="226.11" width="4.13" height="5.64" fill="#d23200"/><rect x="471.15" y="226.11" width="4.13" height="5.64" fill="#f5005a"/><rect x="475.23" y="226.11" width="36.81" height="5.64" fill="#fdcb3c"/><rect x="512.00" y="226.11" width="12.30" height="5.64" fill="#fbfa64"/><rect x="524.25" y="226.11" width="12.30" height="5.64" fill="#fdcb3c"/><rect x="536.50" y="226.11" width="12.30" height="5.64" fill="#fd9836"/><rect x="548.76" y="226.11" width="49.07" height="5.64" fill="#d23200"/><rect x="597.77" y="226.11" width="8.22" height="5.64" fill="#a0006e"/><rect x="605.94" y="226.11" width="4.13" height="5.64" fill="#ff6432"/><rect x="610.03" y="226.11" width="4.13" height="5.64" fill="#a0006e"/><rect x="614.11" y="226.11" width="4.13" height="5.64" fill="#fd9836"/><rect x="618.20" y="226.11" width="8.22" height="5.64" fill="#f5005a"/><rect x="626.37" y="226.11" width="4.13" height="5.64" fill="#ff6432"/><rect x="630.45" y="226.11" width="4.13" height="5.64" fill="#ffffff"/><rect x="634.54" y="226.11" width="16.39" height="5.64" fill="#fd9836"/><rect x="650.88" y="226.11" width="20.47" height="5.64" fill="#fdcb3c"/><rect x="377.20" y="231.70" width="40.90" height="5.64" fill="#fdcb3c"/><rect x="418.05" y="231.70" width="4.13" height="5.64" fill="#fd9836"/><rect x="422.13" y="231.70" width="8.22" height="5.64" fill="#f5005a"/><rect x="430.30" y="231.70" width="12.30" height="5.64" fill="#d23200"/><rect x="442.56" y="231.70" width="4.13" height="5.64" fill="#a0006e"/><rect x="446.64" y="231.70" width="4.13" height="5.64" fill="#d23200"/><rect x="450.73" y="231.70" width="8.22" height="5.64" fill="#f5005a"/><rect x="458.89" y="231.70" width="4.13" height="5.64" fill="#fd9836"/><rect x="462.98" y="231.70" width="8.22" height="5.64" fill="#f5005a"/><rect x="471.15" y="231.70" width="4.13" height="5.64" fill="#fd9836"/><rect x="475.23" y="231.70" width="36.81" height="5.64" fill="#fdcb3c"/><rect x="512.00" y="231.70" width="12.30" height="5.64" fill="#fbfa64"/><rect x="524.25" y="231.70" width="4.13" height="5.64" fill="#fdcb3c"/><rect x="528.33" y="231.70" width="4.13" height="5.64" fill="#fd9836"/><rect x="532.42" y="231.70" width="4.13" height="5.64" fill="#fdcb3c"/><rect x="536.50" y="231.70" width="4.13" height="5.64" fill="#fd9836"/><rect x="540.59" y="231.70" width="12.30" height="5.64" fill="#f5005a"/><rect x="552.84" y="231.70" width="40.90" height="5.64" fill="#d23200"/><rect x="593.69" y="231.70" width="4.13" height="5.64" fill="#ffffff"/><rect x="597.77" y="231.70" width="8.22" height="5.64" fill="#a0006e"/><rect x="605.94" y="231.70" width="8.22" height="5.64" fill="#f5005a"/><rect x="614.11" y="231.70" width="20.47" height="5.64" fill="#fd9836"/><rect x="634.54" y="231.70" width="4.13" height="5.64" fill="#f5005a"/><rect x="638.62" y="231.70" width="32.73" height="5.64" fill="#fdcb3c"/><rect x="377.20" y="237.29" width="40.90" height="5.64" fill="#fdcb3c"/><rect x="418.05" y="237.29" width="4.13" height="5.64" fill="#fd9836"/><rect x="422.13" y="237.29" width="8.22" height="5.64" fill="#ff6432"/><rect x="430.30" y="237.29" width="4.13" height="5.64" fill="#f5005a"/><rect x="434.39" y="237.29" width="8.22" height="5.64" fill="#d23200"/><rect x="442.56" y="237.29" width="4.13" height="5.64" fill="#f5005a"/><rect x="446.64" y="237.29" width="4.13" height="5.64" fill="#ff6432"/><rect x="450.73" y="237.29" width="4.13" height="5.64" fill="#fd9836"/><rect x="454.81" y="237.29" width="12.30" height="5.64" fill="#ff6432"/><rect x="467.06" y="237.29" width="4.13" height="5.64" fill="#fd9836"/><rect x="471.15" y="237.29" width="40.90" height="5.64" fill="#fdcb3c"/><rect x="512.00" y="237.29" width="4.13" height="5.64" fill="#fbfa64"/><rect x="516.08" y="237.29" width="12.30" height="5.64" fill="#fdcb3c"/><rect x="528.33" y="237.29" width="20.47" height="5.64" fill="#fd9836"/><rect x="548.76" y="237.29" width="4.13" height="5.64" fill="#ff6432"/><rect x="552.84" y="237.29" width="4.13" height="5.64" fill="#f5005a"/><rect x="556.93" y="237.29" width="20.47" height="5.64" fill="#d23200"/><rect x="577.35" y="237.29" width="4.13" height="5.64" fill="#f5005a"/><rect x="581.44" y="237.29" width="16.39" height="5.64" fill="#d23200"/><rect x="597.77" y="237.29" width="16.39" height="5.64" fill="#f5005a"/><rect x="614.11" y="237.29" width="24.56" height="5.64" fill="#fd9836"/><rect x="638.62" y="237.29" width="32.73" height="5.64" fill="#fdcb3c"/><rect x="377.20" y="242.87" width="12.30" height="5.64" fill="#fdcb3c"/><rect x="389.45" y="242.87" width="4.13" height="5.64" fill="#fd9836"/><rect x="393.54" y="242.87" width="28.64" height="5.64" fill="#fdcb3c"/><rect x="422.13" y="242.87" width="4.13" height="5.64" fill="#fd9836"/><rect x="426.22" y="242.87" width="12.30" height="5.64" fill="#ff6432"/><rect x="438.47" y="242.87" width="4.13" height="5.64" fill="#d23200"/><rect x="442.56" y="242.87" width="8.22" height="5.64" fill="#f5005a"/><rect x="450.73" y="242.87" width="4.13" height="5.64" fill="#ff6432"/><rect x="454.81" y="242.87" width="8.22" height="5.64" fill="#fd9836"/><rect x="462.98" y="242.87" width="4.13" height="5.64" fill="#ff6432"/><rect x="467.06" y="242.87" width="12.30" height="5.64" fill="#fdcb3c"/><rect x="479.32" y="242.87" width="4.13" height="5.64" fill="#fd9836"/><rect x="483.40" y="242.87" width="53.15" height="5.64" fill="#fdcb3c"/><rect x="536.50" y="242.87" width="8.22" height="5.64" fill="#fd9836"/><rect x="544.67" y="242.87" width="4.13" height="5.64" fill="#fdcb3c"/><rect x="548.76" y="242.87" width="16.39" height="5.64" fill="#fd9836"/><rect x="565.10" y="242.87" width="4.13" height="5.64" fill="#ff6432"/><rect x="569.18" y="242.87" width="20.47" height="5.64" fill="#f5005a"/><rect x="589.61" y="242.87" width="4.13" height="5.64" fill="#d23200"/><rect x="593.69" y="242.87" width="4.13" height="5.64" fill="#f5005a"/><rect x="597.77" y="242.87" width="4.13" height="5.64" fill="#fd9836"/><rect x="601.86" y="242.87" width="4.13" height="5.64" fill="#f5005a"/><rect x="605.94" y="242.87" width="4.13" height="5.64" fill="#fd9836"/><rect x="610.03" y="242.87" width="4.13" height="5.64" fill="#f5005a"/><rect x="614.11" y="242.87" width="4.13" height="5.64" fill="#fd9836"/><rect x="618.20" y="242.87" width="4.13" height="5.64" fill="#ffffff"/><rect x="622.28" y="242.87" width="8.22" height="5.64" fill="#fd9836"/><rect x="630.45" y="242.87" width="32.73" height="5.64" fill="#fdcb3c"/><rect x="663.13" y="242.87" width="4.13" height="5.64" fill="#fd9836"/><rect x="667.22" y="242.87" width="4.13" height="5.64" fill="#fdcb3c"/><rect x="377.20" y="248.46" width="49.07" height="5.64" fill="#fdcb3c"/><rect x="426.22" y="248.46" width="12.30" height="5.64" fill="#fd9836"/><rect x="438.47" y="248.46" width="8.22" height="5.64" fill="#ff6432"/><rect x="446.64" y="248.46" width="8.22" height="5.64" fill="#fd9836"/><rect x="454.81" y="248.46" width="4.13" height="5.64" fill="#ff6432"/><rect x="458.89" y="248.46" width="4.13" height="5.64" fill="#fd9836"/><rect x="462.98" y="248.46" width="4.13" height="5.64" fill="#fdcb3c"/><rect x="467.06" y="248.46" width="4.13" height="5.64" fill="#fbfa64"/><rect x="471.15" y="248.46" width="4.13" height="5.64" fill="#fdcb3c"/><rect x="475.23" y="248.46" width="4.13" height="5.64" fill="#fbfa64"/><rect x="479.32" y="248.46" width="32.73" height="5.64" fill="#fdcb3c"/><rect x="512.00" y="248.46" width="4.13" height="5.64" fill="#fbfa64"/><rect x="516.08" y="248.46" width="4.13" height="5.64" fill="#fdcb3c"/><rect x="520.17" y="248.46" width="4.13" height="5.64" fill="#fbfa64"/><rect x="524.25" y="248.46" width="12.30" height="5.64" fill="#fdcb3c"/><rect x="536.50" y="248.46" width="4.13" height="5.64" fill="#fd9836"/><rect x="540.59" y="248.46" width="4.13" height="5.64" fill="#fdcb3c"/><rect x="544.67" y="248.46" width="16.39" height="5.64" fill="#fd9836"/><rect x="561.01" y="248.46" width="8.22" height="5.64" fill="#ff6432"/><rect x="569.18" y="248.46" width="4.13" height="5.64" fill="#fd9836"/><rect x="573.27" y="248.46" width="4.13" height="5.64" fill="#f5005a"/><rect x="577.35" y="248.46" width="12.30" height="5.64" fill="#ff6432"/><rect x="589.61" y="248.46" width="4.13" height="5.64" fill="#ffffff"/><rect x="593.69" y="248.46" width="36.81" height="5.64" fill="#fd9836"/><rect x="630.45" y="248.46" width="40.90" height="5.64" fill="#fdcb3c"/><rect x="377.20" y="254.05" width="53.15" height="5.64" fill="#fdcb3c"/><rect x="430.30" y="254.05" width="8.22" height="5.64" fill="#fd9836"/><rect x="438.47" y="254.05" width="4.13" height="5.64" fill="#ff6432"/><rect x="442.56" y="254.05" width="12.30" height="5.64" fill="#fd9836"/><rect x="454.81" y="254.05" width="8.22" height="5.64" fill="#fdcb3c"/><rect x="462.98" y="254.05" width="44.98" height="5.64" fill="#fbfa64"/><rect x="507.91" y="254.05" width="4.13" height="5.64" fill="#fdcb3c"/><rect x="512.00" y="254.05" width="8.22" height="5.64" fill="#fbfa64"/><rect x="520.17" y="254.05" width="28.64" height="5.64" fill="#fdcb3c"/><rect x="548.76" y="254.05" width="12.30" height="5.64" fill="#fd9836"/><rect x="561.01" y="254.05" width="4.13" height="5.64" fill="#ff6432"/><rect x="565.10" y="254.05" width="12.30" height="5.64" fill="#fd9836"/><rect x="577.35" y="254.05" width="8.22" height="5.64" fill="#ff6432"/><rect x="585.52" y="254.05" width="40.90" height="5.64" fill="#fd9836"/><rect x="626.37" y="254.05" width="12.30" height="5.64" fill="#fdcb3c"/><rect x="638.62" y="254.05" width="4.13" height="5.64" fill="#fbfa64"/><rect x="642.71" y="254.05" width="28.64" height="5.64" fill="#fdcb3c"/><rect x="377.20" y="259.63" width="20.47" height="5.64" fill="#fdcb3c"/><rect x="397.62" y="259.63" width="8.22" height="5.64" fill="#fbfa64"/><rect x="405.79" y="259.63" width="28.64" height="5.64" fill="#fdcb3c"/><rect x="434.39" y="259.63" width="8.22" height="5.64" fill="#fd9836"/><rect x="442.56" y="259.63" width="12.30" height="5.64" fill="#fdcb3c"/><rect x="454.81" y="259.63" width="40.90" height="5.64" fill="#fbfa64"/><rect x="495.66" y="259.63" width="12.30" height="5.64" fill="#fdcb3c"/><rect x="507.91" y="259.63" width="4.13" height="5.64" fill="#fbfa64"/><rect x="512.00" y="259.63" width="4.13" height="5.64" fill="#fdcb3c"/><rect x="516.08" y="259.63" width="4.13" height="5.64" fill="#ffffff"/><rect x="520.17" y="259.63" width="4.13" height="5.64" fill="#fd9836"/><rect x="524.25" y="259.63" width="4.13" height="5.64" fill="#ffffff"/><rect x="528.33" y="259.63" width="20.47" height="5.64" fill="#fd9836"/><rect x="548.76" y="259.63" width="8.22" height="5.64" fill="#fdcb3c"/><rect x="556.93" y="259.63" width="32.73" height="5.64" fill="#fd9836"/><rect x="589.61" y="259.63" width="4.13" height="5.64" fill="#fdcb3c"/><rect x="593.69" y="259.63" width="4.13" height="5.64" fill="#fd9836"/><rect x="597.77" y="259.63" width="4.13" height="5.64" fill="#fdcb3c"/><rect x="601.86" y="259.63" width="20.47" height="5.64" fill="#fd9836"/><rect x="622.28" y="259.63" width="20.47" height="5.64" fill="#fdcb3c"/><rect x="642.71" y="259.63" width="4.13" height="5.64" fill="#fbfa64"/><rect x="646.79" y="259.63" width="24.56" height="5.64" fill="#fdcb3c"/><rect x="377.20" y="265.22" width="8.22" height="5.64" fill="#fdcb3c"/><rect x="385.37" y="265.22" width="16.39" height="5.64" fill="#fbfa64"/><rect x="401.71" y="265.22" width="49.07" height="5.64" fill="#fdcb3c"/><rect x="450.73" y="265.22" width="44.98" height="5.64" fill="#fbfa64"/><rect x="495.66" y="265.22" width="8.22" height="5.64" fill="#fdcb3c"/><rect x="503.83" y="265.22" width="4.13" height="5.64" fill="#fbfa64"/><rect x="507.91" y="265.22" width="8.22" height="5.64" fill="#fdcb3c"/><rect x="516.08" y="265.22" width="8.22" height="5.64" fill="#ffffff"/><rect x="524.25" y="265.22" width="8.22" height="5.64" fill="#fd9836"/><rect x="532.42" y="265.22" width="8.22" height="5.64" fill="#ffffff"/><rect x="540.59" y="265.22" width="4.13" height="5.64" fill="#fd9836"/><rect x="544.67" y="265.22" width="4.13" height="5.64" fill="#ffffff"/><rect x="548.76" y="265.22" width="4.13" height="5.64" fill="#fd9836"/><rect x="552.84" y="265.22" width="4.13" height="5.64" fill="#fdcb3c"/><rect x="556.93" y="265.22" width="4.13" height="5.64" fill="#ffffff"/><rect x="561.01" y="265.22" width="4.13" height="5.64" fill="#ff6432"/><rect x="565.10" y="265.22" width="12.30" height="5.64" fill="#fdcb3c"/><rect x="577.35" y="265.22" width="16.39" height="5.64" fill="#fd9836"/><rect x="593.69" y="265.22" width="4.13" height="5.64" fill="#fdcb3c"/><rect x="597.77" y="265.22" width="4.13" height="5.64" fill="#fbfa64"/><rect x="601.86" y="265.22" width="12.30" height="5.64" fill="#fd9836"/><rect x="614.11" y="265.22" width="8.22" height="5.64" fill="#fdcb3c"/><rect x="622.28" y="265.22" width="4.13" height="5.64" fill="#fbfa64"/><rect x="626.37" y="265.22" width="16.39" height="5.64" fill="#fdcb3c"/><rect x="642.71" y="265.22" width="8.22" height="5.64" fill="#fbfa64"/><rect x="650.88" y="265.22" width="20.47" height="5.64" fill="#fdcb3c"/><rect x="377.20" y="270.81" width="57.24" height="5.64" fill="#fdcb3c"/><rect x="434.39" y="270.81" width="12.30" height="5.64" fill="#fbfa64"/><rect x="446.64" y="270.81" width="4.13" height="5.64" fill="#fdcb3c"/><rect x="450.73" y="270.81" width="44.98" height="5.64" fill="#fbfa64"/><rect x="495.66" y="270.81" width="8.22" height="5.64" fill="#fdcb3c"/><rect x="503.83" y="270.81" width="4.13" height="5.64" fill="#fbfa64"/><rect x="507.91" y="270.81" width="4.13" height="5.64" fill="#fdcb3c"/><rect x="512.00" y="270.81" width="4.13" height="5.64" fill="#fd9836"/><rect x="516.08" y="270.81" width="12.30" height="5.64" fill="#fdcb3c"/><rect x="528.33" y="270.81" width="12.30" height="5.64" fill="#fd9836"/><rect x="540.59" y="270.81" width="8.22" height="5.64" fill="#ffffff"/><rect x="548.76" y="270.81" width="4.13" height="5.64" fill="#fd9836"/><rect x="552.84" y="270.81" width="8.22" height="5.64" fill="#fdcb3c"/><rect x="561.01" y="270.81" width="4.13" height="5.64" fill="#ffffff"/><rect x="565.10" y="270.81" width="4.13" height="5.64" fill="#fdcb3c"/><rect x="569.18" y="270.81" width="12.30" height="5.64" fill="#fbfa64"/><rect x="581.44" y="270.81" width="8.22" height="5.64" fill="#fdcb3c"/><rect x="589.61" y="270.81" width="4.13" height="5.64" fill="#fd9836"/><rect x="593.69" y="270.81" width="20.47" height="5.64" fill="#fdcb3c"/><rect x="614.11" y="270.81" width="40.90" height="5.64" fill="#fbfa64"/><rect x="654.96" y="270.81" width="8.22" height="5.64" fill="#fdcb3c"/><rect x="663.13" y="270.81" width="4.13" height="5.64" fill="#fbfa64"/><rect x="667.22" y="270.81" width="4.13" height="5.64" fill="#fdcb3c"/><rect x="377.20" y="276.39" width="57.24" height="5.64" fill="#fdcb3c"/><rect x="434.39" y="276.39" width="12.30" height="5.64" fill="#fbfa64"/><rect x="446.64" y="276.39" width="8.22" height="5.64" fill="#fdcb3c"/><rect x="454.81" y="276.39" width="32.73" height="5.64" fill="#fbfa64"/><rect x="487.49" y="276.39" width="57.24" height="5.64" fill="#fdcb3c"/><rect x="544.67" y="276.39" width="4.13" height="5.64" fill="#fd9836"/><rect x="548.76" y="276.39" width="8.22" height="5.64" fill="#fdcb3c"/><rect x="556.93" y="276.39" width="28.64" height="5.64" fill="#fbfa64"/><rect x="585.52" y="276.39" width="4.13" height="5.64" fill="#fdcb3c"/><rect x="589.61" y="276.39" width="8.22" height="5.64" fill="#fbfa64"/><rect x="597.77" y="276.39" width="4.13" height="5.64" fill="#fdcb3c"/><rect x="601.86" y="276.39" width="4.13" height="5.64" fill="#fbfa64"/><rect x="605.94" y="276.39" width="4.13" height="5.64" fill="#fdcb3c"/><rect x="610.03" y="276.39" width="4.13" height="5.64" fill="#fbfa64"/><rect x="614.11" y="276.39" width="4.13" height="5.64" fill="#fdcb3c"/><rect x="618.20" y="276.39" width="32.73" height="5.64" fill="#fbfa64"/><rect x="650.88" y="276.39" width="20.47" height="5.64" fill="#fdcb3c"/><rect x="377.20" y="281.98" width="94.00" height="5.64" fill="#fdcb3c"/><rect x="471.15" y="281.98" width="20.47" height="5.64" fill="#fbfa64"/><rect x="491.57" y="281.98" width="8.22" height="5.64" fill="#fdcb3c"/><rect x="499.74" y="281.98" width="4.13" height="5.64" fill="#fbfa64"/><rect x="503.83" y="281.98" width="8.22" height="5.64" fill="#fdcb3c"/><rect x="512.00" y="281.98" width="8.22" height="5.64" fill="#fbfa64"/><rect x="520.17" y="281.98" width="4.13" height="5.64" fill="#fdcb3c"/><rect x="524.25" y="281.98" width="4.13" height="5.64" fill="#fbfa64"/><rect x="528.33" y="281.98" width="36.81" height="5.64" fill="#fdcb3c"/><rect x="565.10" y="281.98" width="40.90" height="5.64" fill="#fbfa64"/><rect x="605.94" y="281.98" width="8.22" height="5.64" fill="#fdcb3c"/><rect x="614.11" y="281.98" width="16.39" height="5.64" fill="#fbfa64"/><rect x="630.45" y="281.98" width="8.22" height="5.64" fill="#fdcb3c"/><rect x="638.62" y="281.98" width="12.30" height="5.64" fill="#fbfa64"/><rect x="650.88" y="281.98" width="20.47" height="5.64" fill="#fdcb3c"/><rect x="377.20" y="287.57" width="4.13" height="5.64" fill="#fdcb3c"/><rect x="381.28" y="287.57" width="4.13" height="5.64" fill="#fd9836"/><rect x="385.37" y="287.57" width="8.22" height="5.64" fill="#fdcb3c"/><rect x="393.54" y="287.57" width="4.13" height="5.64" fill="#fd9836"/><rect x="397.62" y="287.57" width="4.13" height="5.64" fill="#fdcb3c"/><rect x="401.71" y="287.57" width="40.90" height="5.64" fill="#fd9836"/><rect x="442.56" y="287.57" width="16.39" height="5.64" fill="#fdcb3c"/><rect x="458.89" y="287.57" width="4.13" height="5.64" fill="#fbfa64"/><rect x="462.98" y="287.57" width="4.13" height="5.64" fill="#fdcb3c"/><rect x="467.06" y="287.57" width="4.13" height="5.64" fill="#ffffff"/><rect x="471.15" y="287.57" width="4.13" height="5.64" fill="#fdcb3c"/><rect x="475.23" y="287.57" width="4.13" height="5.64" fill="#ffffff"/><rect x="479.32" y="287.57" width="4.13" height="5.64" fill="#fdcb3c"/><rect x="483.40" y="287.57" width="20.47" height="5.64" fill="#fbfa64"/><rect x="503.83" y="287.57" width="8.22" height="5.64" fill="#fdcb3c"/><rect x="512.00" y="287.57" width="24.56" height="5.64" fill="#fbfa64"/><rect x="536.50" y="287.57" width="4.13" height="5.64" fill="#fdcb3c"/><rect x="540.59" y="287.57" width="4.13" height="5.64" fill="#fbfa64"/><rect x="544.67" y="287.57" width="12.30" height="5.64" fill="#fdcb3c"/><rect x="556.93" y="287.57" width="12.30" height="5.64" fill="#fbfa64"/><rect x="569.18" y="287.57" width="4.13" height="5.64" fill="#fdcb3c"/><rect x="573.27" y="287.57" width="24.56" height="5.64" fill="#fbfa64"/><rect x="597.77" y="287.57" width="4.13" height="5.64" fill="#fdcb3c"/><rect x="601.86" y="287.57" width="4.13" height="5.64" fill="#fbfa64"/><rect x="605.94" y="287.57" width="16.39" height="5.64" fill="#fdcb3c"/><rect x="622.28" y="287.57" width="4.13" height="5.64" fill="#fbfa64"/><rect x="626.37" y="287.57" width="44.98" height="5.64" fill="#fdcb3c"/><rect x="377.20" y="293.16" width="8.22" height="5.64" fill="#fdcb3c"/><rect x="385.37" y="293.16" width="8.22" height="5.64" fill="#fd9836"/><rect x="393.54" y="293.16" width="4.13" height="5.64" fill="#fdcb3c"/><rect x="397.62" y="293.16" width="24.56" height="5.64" fill="#fd9836"/><rect x="422.13" y="293.16" width="12.30" height="5.64" fill="#fdcb3c"/><rect x="434.39" y="293.16" width="12.30" height="5.64" fill="#fd9836"/><rect x="446.64" y="293.16" width="4.13" height="5.64" fill="#fdcb3c"/><rect x="450.73" y="293.16" width="4.13" height="5.64" fill="#fd9836"/><rect x="454.81" y="293.16" width="4.13" height="5.64" fill="#fdcb3c"/><rect x="458.89" y="293.16" width="4.13" height="5.64" fill="#fbfa64"/><rect x="462.98" y="293.16" width="8.22" height="5.64" fill="#fdcb3c"/><rect x="471.15" y="293.16" width="4.13" height="5.64" fill="#fd9836"/><rect x="475.23" y="293.16" width="8.22" height="5.64" fill="#fdcb3c"/><rect x="483.40" y="293.16" width="20.47" height="5.64" fill="#fbfa64"/><rect x="503.83" y="293.16" width="20.47" height="5.64" fill="#fdcb3c"/><rect x="524.25" y="293.16" width="4.13" height="5.64" fill="#fd9836"/><rect x="528.33" y="293.16" width="8.22" height="5.64" fill="#fdcb3c"/><rect x="536.50" y="293.16" width="4.13" height="5.64" fill="#fbfa64"/><rect x="540.59" y="293.16" width="4.13" height="5.64" fill="#fdcb3c"/><rect x="544.67" y="293.16" width="4.13" height="5.64" fill="#ffffff"/><rect x="548.76" y="293.16" width="8.22" height="5.64" fill="#fdcb3c"/><rect x="556.93" y="293.16" width="4.13" height="5.64" fill="#fbfa64"/><rect x="561.01" y="293.16" width="8.22" height="5.64" fill="#fdcb3c"/><rect x="569.18" y="293.16" width="4.13" height="5.64" fill="#fbfa64"/><rect x="573.27" y="293.16" width="4.13" height="5.64" fill="#fdcb3c"/><rect x="577.35" y="293.16" width="20.47" height="5.64" fill="#fbfa64"/><rect x="597.77" y="293.16" width="53.15" height="5.64" fill="#fdcb3c"/><rect x="650.88" y="293.16" width="4.13" height="5.64" fill="#fbfa64"/><rect x="654.96" y="293.16" width="16.39" height="5.64" fill="#fdcb3c"/><rect x="377.20" y="298.74" width="4.13" height="5.64" fill="#fbfa64"/><rect x="381.28" y="298.74" width="12.30" height="5.64" fill="#fdcb3c"/><rect x="393.54" y="298.74" width="4.13" height="5.64" fill="#fd9836"/><rect x="397.62" y="298.74" width="53.15" height="5.64" fill="#fdcb3c"/><rect x="450.73" y="298.74" width="4.13" height="5.64" fill="#fd9836"/><rect x="454.81" y="298.74" width="4.13" height="5.64" fill="#ff6432"/><rect x="458.89" y="298.74" width="4.13" height="5.64" fill="#fbfa64"/><rect x="462.98" y="298.74" width="4.13" height="5.64" fill="#fdcb3c"/><rect x="467.06" y="298.74" width="4.13" height="5.64" fill="#ffffff"/><rect x="471.15" y="298.74" width="8.22" height="5.64" fill="#fdcb3c"/><rect x="479.32" y="298.74" width="4.13" height="5.64" fill="#ffffff"/><rect x="483.40" y="298.74" width="4.13" height="5.64" fill="#fdcb3c"/><rect x="487.49" y="298.74" width="4.13" height="5.64" fill="#fd9836"/><rect x="491.57" y="298.74" width="12.30" height="5.64" fill="#fbfa64"/><rect x="503.83" y="298.74" width="8.22" height="5.64" fill="#fdcb3c"/><rect x="512.00" y="298.74" width="4.13" height="5.64" fill="#fbfa64"/><rect x="516.08" y="298.74" width="20.47" height="5.64" fill="#fdcb3c"/><rect x="536.50" y="298.74" width="4.13" height="5.64" fill="#fbfa64"/><rect x="540.59" y="298.74" width="16.39" height="5.64" fill="#fdcb3c"/><rect x="556.93" y="298.74" width="4.13" height="5.64" fill="#fbfa64"/><rect x="561.01" y="298.74" width="8.22" height="5.64" fill="#fdcb3c"/><rect x="569.18" y="298.74" width="4.13" height="5.64" fill="#fbfa64"/><rect x="573.27" y="298.74" width="12.30" height="5.64" fill="#fdcb3c"/><rect x="585.52" y="298.74" width="4.13" height="5.64" fill="#fbfa64"/><rect x="589.61" y="298.74" width="8.22" height="5.64" fill="#fdcb3c"/><rect x="597.77" y="298.74" width="4.13" height="5.64" fill="#fbfa64"/><rect x="601.86" y="298.74" width="65.41" height="5.64" fill="#fdcb3c"/><rect x="667.22" y="298.74" width="4.13" height="5.64" fill="#fbfa64"/><rect x="377.20" y="304.33" width="4.13" height="5.64" fill="#fbfa64"/><rect x="381.28" y="304.33" width="69.49" height="5.64" fill="#fdcb3c"/><rect x="450.73" y="304.33" width="4.13" height="5.64" fill="#fd9836"/><rect x="454.81" y="304.33" width="4.13" height="5.64" fill="#ff6432"/><rect x="458.89" y="304.33" width="16.39" height="5.64" fill="#fdcb3c"/><rect x="475.23" y="304.33" width="8.22" height="5.64" fill="#ffffff"/><rect x="483.40" y="304.33" width="8.22" height="5.64" fill="#fdcb3c"/><rect x="491.57" y="304.33" width="12.30" height="5.64" fill="#fbfa64"/><rect x="503.83" y="304.33" width="8.22" height="5.64" fill="#fdcb3c"/><rect x="512.00" y="304.33" width="4.13" height="5.64" fill="#fbfa64"/><rect x="516.08" y="304.33" width="20.47" height="5.64" fill="#fdcb3c"/><rect x="536.50" y="304.33" width="4.13" height="5.64" fill="#fbfa64"/><rect x="540.59" y="304.33" width="4.13" height="5.64" fill="#ffffff"/><rect x="544.67" y="304.33" width="12.30" height="5.64" fill="#fdcb3c"/><rect x="556.93" y="304.33" width="4.13" height="5.64" fill="#fbfa64"/><rect x="561.01" y="304.33" width="8.22" height="5.64" fill="#fdcb3c"/><rect x="569.18" y="304.33" width="4.13" height="5.64" fill="#fbfa64"/><rect x="573.27" y="304.33" width="24.56" height="5.64" fill="#fdcb3c"/><rect x="597.77" y="304.33" width="4.13" height="5.64" fill="#fbfa64"/><rect x="601.86" y="304.33" width="65.41" height="5.64" fill="#fdcb3c"/><rect x="667.22" y="304.33" width="4.13" height="5.64" fill="#fbfa64"/><rect x="377.20" y="309.92" width="8.22" height="5.64" fill="#fdcb3c"/><rect x="385.37" y="309.92" width="20.47" height="5.64" fill="#fbfa64"/><rect x="405.79" y="309.92" width="40.90" height="5.64" fill="#fdcb3c"/><rect x="446.64" y="309.92" width="4.13" height="5.64" fill="#fd9836"/><rect x="450.73" y="309.92" width="16.39" height="5.64" fill="#fdcb3c"/><rect x="467.06" y="309.92" width="8.22" height="5.64" fill="#fd9836"/><rect x="475.23" y="309.92" width="4.13" height="5.64" fill="#fdcb3c"/><rect x="479.32" y="309.92" width="4.13" height="5.64" fill="#ffffff"/><rect x="483.40" y="309.92" width="8.22" height="5.64" fill="#fdcb3c"/><rect x="491.57" y="309.92" width="4.13" height="5.64" fill="#fbfa64"/><rect x="495.66" y="309.92" width="40.90" height="5.64" fill="#fdcb3c"/><rect x="536.50" y="309.92" width="4.13" height="5.64" fill="#fd9836"/><rect x="540.59" y="309.92" width="4.13" height="5.64" fill="#fbfa64"/><rect x="544.67" y="309.92" width="4.13" height="5.64" fill="#fd9836"/><rect x="548.76" y="309.92" width="12.30" height="5.64" fill="#fdcb3c"/><rect x="561.01" y="309.92" width="4.13" height="5.64" fill="#fbfa64"/><rect x="565.10" y="309.92" width="8.22" height="5.64" fill="#fdcb3c"/><rect x="573.27" y="309.92" width="4.13" height="5.64" fill="#fbfa64"/><rect x="577.35" y="309.92" width="8.22" height="5.64" fill="#fdcb3c"/><rect x="585.52" y="309.92" width="4.13" height="5.64" fill="#ff6432"/><rect x="589.61" y="309.92" width="36.81" height="5.64" fill="#fdcb3c"/><rect x="626.37" y="309.92" width="12.30" height="5.64" fill="#fd9836"/><rect x="638.62" y="309.92" width="32.73" height="5.64" fill="#fdcb3c"/><rect x="377.20" y="315.50" width="40.90" height="5.64" fill="#fdcb3c"/><rect x="418.05" y="315.50" width="8.22" height="5.64" fill="#fbfa64"/><rect x="426.22" y="315.50" width="20.47" height="5.64" fill="#fdcb3c"/><rect x="446.64" y="315.50" width="12.30" height="5.64" fill="#fd9836"/><rect x="458.89" y="315.50" width="8.22" height="5.64" fill="#fdcb3c"/><rect x="467.06" y="315.50" width="12.30" height="5.64" fill="#fd9836"/><rect x="479.32" y="315.50" width="20.47" height="5.64" fill="#fdcb3c"/><rect x="499.74" y="315.50" width="12.30" height="5.64" fill="#fd9836"/><rect x="512.00" y="315.50" width="16.39" height="5.64" fill="#fdcb3c"/><rect x="528.33" y="315.50" width="4.13" height="5.64" fill="#fbfa64"/><rect x="532.42" y="315.50" width="4.13" height="5.64" fill="#fdcb3c"/><rect x="536.50" y="315.50" width="4.13" height="5.64" fill="#fd9836"/><rect x="540.59" y="315.50" width="4.13" height="5.64" fill="#ffffff"/><rect x="544.67" y="315.50" width="73.58" height="5.64" fill="#fdcb3c"/><rect x="618.20" y="315.50" width="4.13" height="5.64" fill="#fd9836"/><rect x="622.28" y="315.50" width="4.13" height="5.64" fill="#ffffff"/><rect x="626.37" y="315.50" width="16.39" height="5.64" fill="#fd9836"/><rect x="642.71" y="315.50" width="16.39" height="5.64" fill="#fdcb3c"/><rect x="659.05" y="315.50" width="4.13" height="5.64" fill="#fbfa64"/><rect x="663.13" y="315.50" width="8.22" height="5.64" fill="#fdcb3c"/><rect x="377.20" y="321.09" width="69.49" height="5.64" fill="#fdcb3c"/><rect x="446.64" y="321.09" width="4.13" height="5.64" fill="#fd9836"/><rect x="450.73" y="321.09" width="8.22" height="5.64" fill="#fdcb3c"/><rect x="458.89" y="321.09" width="4.13" height="5.64" fill="#fd9836"/><rect x="462.98" y="321.09" width="4.13" height="5.64" fill="#fdcb3c"/><rect x="467.06" y="321.09" width="16.39" height="5.64" fill="#fd9836"/><rect x="483.40" y="321.09" width="44.98" height="5.64" fill="#fdcb3c"/><rect x="528.33" y="321.09" width="8.22" height="5.64" fill="#fbfa64"/><rect x="536.50" y="321.09" width="4.13" height="5.64" fill="#fdcb3c"/><rect x="540.59" y="321.09" width="4.13" height="5.64" fill="#fd9836"/><rect x="544.67" y="321.09" width="73.58" height="5.64" fill="#fdcb3c"/><rect x="618.20" y="321.09" width="8.22" height="5.64" fill="#fd9836"/><rect x="626.37" y="321.09" width="4.13" height="5.64" fill="#ffffff"/><rect x="630.45" y="321.09" width="16.39" height="5.64" fill="#fd9836"/><rect x="646.79" y="321.09" width="24.56" height="5.64" fill="#fdcb3c"/><rect x="377.20" y="326.68" width="44.98" height="5.64" fill="#fdcb3c"/><rect x="422.13" y="326.68" width="20.47" height="5.64" fill="#fd9836"/><rect x="442.56" y="326.68" width="24.56" height="5.64" fill="#fdcb3c"/><rect x="467.06" y="326.68" width="12.30" height="5.64" fill="#fd9836"/><rect x="479.32" y="326.68" width="12.30" height="5.64" fill="#fdcb3c"/><rect x="491.57" y="326.68" width="16.39" height="5.64" fill="#fd9836"/><rect x="507.91" y="326.68" width="122.59" height="5.64" fill="#fdcb3c"/><rect x="630.45" y="326.68" width="16.39" height="5.64" fill="#fd9836"/><rect x="646.79" y="326.68" width="24.56" height="5.64" fill="#fdcb3c"/><rect x="377.20" y="332.26" width="40.90" height="5.64" fill="#fdcb3c"/><rect x="418.05" y="332.26" width="24.56" height="5.64" fill="#fd9836"/><rect x="442.56" y="332.26" width="4.13" height="5.64" fill="#fdcb3c"/><rect x="446.64" y="332.26" width="16.39" height="5.64" fill="#fd9836"/><rect x="462.98" y="332.26" width="4.13" height="5.64" fill="#fdcb3c"/><rect x="467.06" y="332.26" width="12.30" height="5.64" fill="#fd9836"/><rect x="479.32" y="332.26" width="4.13" height="5.64" fill="#ff6432"/><rect x="483.40" y="332.26" width="53.15" height="5.64" fill="#fd9836"/><rect x="536.50" y="332.26" width="12.30" height="5.64" fill="#fdcb3c"/><rect x="548.76" y="332.26" width="8.22" height="5.64" fill="#fd9836"/><rect x="556.93" y="332.26" width="8.22" height="5.64" fill="#fdcb3c"/><rect x="565.10" y="332.26" width="4.13" height="5.64" fill="#fd9836"/><rect x="569.18" y="332.26" width="57.24" height="5.64" fill="#fdcb3c"/><rect x="626.37" y="332.26" width="4.13" height="5.64" fill="#fbfa64"/><rect x="630.45" y="332.26" width="40.90" height="5.64" fill="#fdcb3c"/><rect x="377.20" y="337.85" width="24.56" height="5.64" fill="#fdcb3c"/><rect x="401.71" y="337.85" width="4.13" height="5.64" fill="#fd9836"/><rect x="405.79" y="337.85" width="4.13" height="5.64" fill="#fdcb3c"/><rect x="409.88" y="337.85" width="12.30" height="5.64" fill="#fd9836"/><rect x="422.13" y="337.85" width="8.22" height="5.64" fill="#fdcb3c"/><rect x="430.30" y="337.85" width="4.13" height="5.64" fill="#fd9836"/><rect x="434.39" y="337.85" width="4.13" height="5.64" fill="#ff6432"/><rect x="438.47" y="337.85" width="4.13" height="5.64" fill="#fd9836"/><rect x="442.56" y="337.85" width="8.22" height="5.64" fill="#fdcb3c"/><rect x="450.73" y="337.85" width="28.64" height="5.64" fill="#fd9836"/><rect x="479.32" y="337.85" width="4.13" height="5.64" fill="#ff6432"/><rect x="483.40" y="337.85" width="4.13" height="5.64" fill="#fd9836"/><rect x="487.49" y="337.85" width="4.13" height="5.64" fill="#ff6432"/><rect x="491.57" y="337.85" width="20.47" height="5.64" fill="#fd9836"/><rect x="512.00" y="337.85" width="4.13" height="5.64" fill="#ff6432"/><rect x="516.08" y="337.85" width="4.13" height="5.64" fill="#fbfa64"/><rect x="520.17" y="337.85" width="8.22" height="5.64" fill="#fd9836"/><rect x="528.33" y="337.85" width="4.13" height="5.64" fill="#f5005a"/><rect x="532.42" y="337.85" width="28.64" height="5.64" fill="#ff6432"/><rect x="561.01" y="337.85" width="8.22" height="5.64" fill="#f5005a"/><rect x="569.18" y="337.85" width="4.13" height="5.64" fill="#ff6432"/><rect x="573.27" y="337.85" width="44.98" height="5.64" fill="#fd9836"/><rect x="618.20" y="337.85" width="8.22" height="5.64" fill="#fdcb3c"/><rect x="626.37" y="337.85" width="4.13" height="5.64" fill="#fd9836"/><rect x="630.45" y="337.85" width="4.13" height="5.64" fill="#fdcb3c"/><rect x="634.54" y="337.85" width="8.22" height="5.64" fill="#fd9836"/><rect x="642.71" y="337.85" width="16.39" height="5.64" fill="#fdcb3c"/><rect x="659.05" y="337.85" width="4.13" height="5.64" fill="#fd9836"/><rect x="663.13" y="337.85" width="8.22" height="5.64" fill="#fdcb3c"/><rect x="377.20" y="343.44" width="4.13" height="5.64" fill="#fdcb3c"/><rect x="381.28" y="343.44" width="28.64" height="5.64" fill="#fd9836"/><rect x="409.88" y="343.44" width="4.13" height="5.64" fill="#fdcb3c"/><rect x="413.96" y="343.44" width="8.22" height="5.64" fill="#fd9836"/><rect x="422.13" y="343.44" width="8.22" height="5.64" fill="#fdcb3c"/><rect x="430.30" y="343.44" width="4.13" height="5.64" fill="#fd9836"/><rect x="434.39" y="343.44" width="4.13" height="5.64" fill="#fdcb3c"/><rect x="438.47" y="343.44" width="4.13" height="5.64" fill="#fd9836"/><rect x="442.56" y="343.44" width="12.30" height="5.64" fill="#fdcb3c"/><rect x="454.81" y="343.44" width="8.22" height="5.64" fill="#fd9836"/><rect x="462.98" y="343.44" width="8.22" height="5.64" fill="#fdcb3c"/><rect x="471.15" y="343.44" width="4.13" height="5.64" fill="#fd9836"/><rect x="475.23" y="343.44" width="12.30" height="5.64" fill="#ff6432"/><rect x="487.49" y="343.44" width="8.22" height="5.64" fill="#fd9836"/><rect x="495.66" y="343.44" width="20.47" height="5.64" fill="#ff6432"/><rect x="516.08" y="343.44" width="4.13" height="5.64" fill="#f5005a"/><rect x="520.17" y="343.44" width="8.22" height="5.64" fill="#fd9836"/><rect x="528.33" y="343.44" width="8.22" height="5.64" fill="#ff6432"/><rect x="536.50" y="343.44" width="8.22" height="5.64" fill="#fd9836"/><rect x="544.67" y="343.44" width="12.30" height="5.64" fill="#fdcb3c"/><rect x="556.93" y="343.44" width="8.22" height="5.64" fill="#fd9836"/><rect x="565.10" y="343.44" width="4.13" height="5.64" fill="#fdcb3c"/><rect x="569.18" y="343.44" width="12.30" height="5.64" fill="#fd9836"/><rect x="581.44" y="343.44" width="4.13" height="5.64" fill="#fdcb3c"/><rect x="585.52" y="343.44" width="8.22" height="5.64" fill="#fd9836"/><rect x="593.69" y="343.44" width="8.22" height="5.64" fill="#f5005a"/><rect x="601.86" y="343.44" width="49.07" height="5.64" fill="#fd9836"/><rect x="650.88" y="343.44" width="4.13" height="5.64" fill="#ff6432"/><rect x="654.96" y="343.44" width="4.13" height="5.64" fill="#fd9836"/><rect x="659.05" y="343.44" width="12.30" height="5.64" fill="#fdcb3c"/><rect x="377.20" y="349.03" width="20.47" height="5.64" fill="#fd9836"/><rect x="397.62" y="349.03" width="4.13" height="5.64" fill="#fdcb3c"/><rect x="401.71" y="349.03" width="12.30" height="5.64" fill="#fd9836"/><rect x="413.96" y="349.03" width="12.30" height="5.64" fill="#fdcb3c"/><rect x="426.22" y="349.03" width="4.13" height="5.64" fill="#fd9836"/><rect x="430.30" y="349.03" width="24.56" height="5.64" fill="#fdcb3c"/><rect x="454.81" y="349.03" width="8.22" height="5.64" fill="#fd9836"/><rect x="462.98" y="349.03" width="16.39" height="5.64" fill="#fdcb3c"/><rect x="479.32" y="349.03" width="8.22" height="5.64" fill="#fd9836"/><rect x="487.49" y="349.03" width="12.30" height="5.64" fill="#fdcb3c"/><rect x="499.74" y="349.03" width="8.22" height="5.64" fill="#fd9836"/><rect x="507.91" y="349.03" width="8.22" height="5.64" fill="#fdcb3c"/><rect x="516.08" y="349.03" width="8.22" height="5.64" fill="#fd9836"/><rect x="524.25" y="349.03" width="24.56" height="5.64" fill="#fdcb3c"/><rect x="548.76" y="349.03" width="8.22" height="5.64" fill="#fd9836"/><rect x="556.93" y="349.03" width="28.64" height="5.64" fill="#fdcb3c"/><rect x="585.52" y="349.03" width="4.13" height="5.64" fill="#fd9836"/><rect x="589.61" y="349.03" width="12.30" height="5.64" fill="#fdcb3c"/><rect x="601.86" y="349.03" width="4.13" height="5.64" fill="#fd9836"/><rect x="605.94" y="349.03" width="4.13" height="5.64" fill="#fdcb3c"/><rect x="610.03" y="349.03" width="4.13" height="5.64" fill="#fd9836"/><rect x="614.11" y="349.03" width="16.39" height="5.64" fill="#fdcb3c"/><rect x="630.45" y="349.03" width="8.22" height="5.64" fill="#fd9836"/><rect x="638.62" y="349.03" width="8.22" height="5.64" fill="#fdcb3c"/><rect x="646.79" y="349.03" width="4.13" height="5.64" fill="#fd9836"/><rect x="650.88" y="349.03" width="4.13" height="5.64" fill="#fdcb3c"/><rect x="654.96" y="349.03" width="4.13" height="5.64" fill="#fd9836"/><rect x="659.05" y="349.03" width="12.30" height="5.64" fill="#fdcb3c"/><rect x="377.20" y="354.61" width="4.13" height="5.64" fill="#fdcb3c"/><rect x="381.28" y="354.61" width="4.13" height="5.64" fill="#fd9836"/><rect x="385.37" y="354.61" width="8.22" height="5.64" fill="#fdcb3c"/><rect x="393.54" y="354.61" width="12.30" height="5.64" fill="#fd9836"/><rect x="405.79" y="354.61" width="4.13" height="5.64" fill="#ff6432"/><rect x="409.88" y="354.61" width="12.30" height="5.64" fill="#fd9836"/><rect x="422.13" y="354.61" width="12.30" height="5.64" fill="#fdcb3c"/><rect x="434.39" y="354.61" width="12.30" height="5.64" fill="#fd9836"/><rect x="446.64" y="354.61" width="32.73" height="5.64" fill="#fdcb3c"/><rect x="479.32" y="354.61" width="8.22" height="5.64" fill="#fd9836"/><rect x="487.49" y="354.61" width="77.66" height="5.64" fill="#fdcb3c"/><rect x="565.10" y="354.61" width="4.13" height="5.64" fill="#fd9836"/><rect x="569.18" y="354.61" width="8.22" height="5.64" fill="#fdcb3c"/><rect x="577.35" y="354.61" width="4.13" height="5.64" fill="#fd9836"/><rect x="581.44" y="354.61" width="20.47" height="5.64" fill="#fdcb3c"/><rect x="601.86" y="354.61" width="4.13" height="5.64" fill="#fd9836"/><rect x="605.94" y="354.61" width="49.07" height="5.64" fill="#fdcb3c"/><rect x="654.96" y="354.61" width="8.22" height="5.64" fill="#fd9836"/><rect x="663.13" y="354.61" width="8.22" height="5.64" fill="#fdcb3c"/></g>
<path d="M387.0,220.0 L390.3,218.3 L388.6,216.3 L393.5,214.4 L396.8,213.5 L400.1,214.0 L405.8,214.8 L409.1,215.3 L413.1,216.1 L418.0,214.9 L422.1,215.5 L426.2,216.1 L430.3,217.2 L434.4,217.2 L438.5,216.6 L444.2,217.2 L447.5,215.5 L450.7,216.6 L454.8,215.5 L457.3,218.3 L454.8,220.0 L453.2,221.6 L448.3,223.9 L447.5,227.2 L448.7,229.5 L452.4,230.6 L454.8,231.4 L457.3,233.9 L459.7,235.6 L459.7,232.3 L461.3,229.5 L460.5,226.1 L460.9,223.3 L464.6,223.9 L467.1,225.0 L467.5,227.2 L471.1,226.1 L472.0,228.3 L474.0,230.6 L476.9,232.8 L478.5,235.1 L475.2,237.3 L470.3,237.3 L467.1,240.1 L471.1,239.0 L472.0,241.8 L474.4,242.3 L470.3,243.4 L467.1,244.5 L466.7,246.6 L463.8,247.9 L462.6,250.7 L462.2,251.8 L462.6,253.5 L460.5,255.2 L458.1,258.0 L457.8,259.6 L458.9,263.0 L458.5,265.0 L457.7,264.7 L456.7,262.4 L456.4,260.8 L455.2,259.6 L454.0,259.2 L451.5,259.3 L450.7,260.5 L447.5,260.1 L445.0,261.9 L444.6,264.7 L444.4,268.6 L445.8,271.9 L447.5,272.8 L449.9,272.1 L450.3,269.7 L453.2,269.1 L452.8,272.5 L452.1,275.3 L455.6,275.5 L456.3,277.0 L456.0,280.9 L457.3,283.1 L459.7,282.5 L460.9,283.4 L460.5,284.8 L458.9,285.1 L458.1,284.2 L456.0,283.7 L454.2,282.0 L454.0,280.3 L452.8,278.6 L449.9,277.5 L448.3,275.5 L447.0,275.1 L445.0,275.5 L442.6,274.2 L440.1,272.8 L438.1,270.8 L438.1,268.0 L436.4,265.8 L434.4,263.0 L432.3,260.2 L430.7,258.0 L430.5,259.6 L431.9,263.0 L433.2,265.2 L434.4,267.5 L434.0,266.3 L432.8,265.6 L431.1,262.4 L430.3,260.0 L429.1,257.7 L428.5,256.6 L427.4,255.2 L425.7,254.5 L424.2,251.3 L423.1,249.0 L422.7,246.2 L422.9,241.8 L422.4,239.1 L420.1,236.7 L418.0,232.8 L415.6,229.5 L413.1,227.8 L410.3,226.3 L406.6,226.1 L403.3,225.6 L400.5,226.7 L398.4,228.3 L396.0,229.5 L392.7,230.8 L390.7,231.7 L393.5,230.0 L395.2,227.8 L391.9,227.6 L389.9,225.6 L389.0,223.9 L389.9,222.5 L392.7,221.1 L389.9,221.1 L387.0,220.0 M476.9,208.2 L477.7,210.5 L479.3,213.8 L481.0,216.1 L482.6,219.4 L483.4,221.6 L485.0,224.4 L488.3,226.1 L489.9,225.0 L491.6,221.1 L494.8,219.7 L498.1,217.2 L503.0,216.6 L506.3,214.9 L506.3,212.1 L508.7,209.9 L509.5,208.2 M471.1,223.3 L473.6,218.8 L469.5,215.5 L465.4,213.3 L460.5,211.8 L454.8,211.0 L451.5,213.3 L454.8,214.9 L458.1,215.5 L460.5,217.7 L464.6,218.8 L463.8,221.1 L466.2,222.8 L471.1,223.3 M427.9,216.1 L438.5,216.1 L441.7,214.9 L438.5,211.6 L430.3,211.6 L427.0,213.3 L427.9,216.1 M422.1,213.3 L425.4,213.3 L428.7,211.0 L426.2,209.9 L422.1,210.5 L422.1,213.3 M446.6,212.7 L450.7,212.7 L450.7,210.5 L446.6,210.5 L445.0,211.6 L446.6,212.7 M453.2,222.2 L456.4,223.3 L458.1,221.6 L454.8,220.0 L453.2,222.2 M475.8,240.0 L478.5,237.8 L478.9,235.6 L481.0,237.8 L481.1,240.1 L479.3,240.9 L475.8,240.0 M454.8,268.7 L457.3,267.2 L460.9,268.8 L463.6,270.6 L460.9,270.9 L458.9,268.9 L454.8,268.7 M463.5,272.5 L464.9,270.9 L467.1,271.1 L468.4,272.5 L465.8,273.4 L463.5,272.5 M460.9,283.4 L462.2,282.5 L462.6,281.4 L463.8,280.6 L465.4,280.0 L467.1,279.5 L468.7,281.4 L471.1,281.9 L473.6,281.2 L474.4,283.1 L476.1,284.2 L477.7,286.5 L480.1,286.7 L481.8,287.6 L482.6,288.7 L483.4,291.1 L483.4,293.2 L485.0,294.3 L487.9,295.9 L490.8,296.5 L492.8,297.3 L495.4,299.1 L495.7,301.0 L495.7,303.2 L494.0,305.4 L492.6,307.7 L492.4,311.0 L491.8,314.4 L490.8,317.7 L489.1,318.9 L487.5,319.6 L485.0,321.6 L484.6,324.4 L483.4,326.7 L481.4,330.0 L480.1,332.0 L478.5,332.2 L477.3,332.3 L477.7,333.9 L477.3,335.6 L473.6,336.7 L473.4,338.4 L471.1,339.0 L472.0,340.6 L470.7,343.4 L469.1,345.1 L470.3,346.2 L468.3,349.0 L467.9,351.3 L468.3,352.7 L469.9,354.6 L467.1,354.9 L463.8,352.4 L462.6,349.0 L463.0,345.7 L463.8,341.8 L464.2,339.0 L464.2,334.5 L465.4,330.0 L465.8,326.7 L466.2,321.1 L466.8,315.5 L466.7,313.6 L465.0,312.2 L462.2,308.8 L461.3,306.6 L459.7,302.1 L457.9,299.9 L458.1,297.6 L458.9,295.9 L458.5,293.7 L458.9,292.0 L459.7,291.5 L460.9,288.7 L461.1,285.9 L460.9,283.4 M516.7,245.1 L516.9,249.6 L516.9,251.8 L519.3,252.4 L519.8,252.9 L522.6,252.1 L524.2,250.1 L524.2,249.0 L526.7,246.2 L527.1,244.8 L529.2,245.1 L530.8,244.0 L532.0,243.8 L532.8,245.1 L534.5,246.8 L536.9,248.5 L537.3,250.7 L538.1,249.6 L539.4,248.2 L538.1,247.3 L537.3,246.4 L535.7,245.7 L534.5,243.4 L534.5,242.3 L535.4,242.1 L536.5,242.9 L538.1,245.1 L540.2,246.4 L540.2,248.5 L541.4,250.7 L542.6,252.4 L543.0,250.7 L543.9,250.1 L543.0,248.1 L545.5,247.6 L545.5,248.5 L545.9,250.1 L546.7,251.8 L547.9,252.4 L550.4,252.7 L553.7,252.4 L553.7,252.9 L553.5,254.0 L552.8,256.3 L552.4,258.0 L550.8,258.4 L550.9,259.6 L552.0,261.9 L552.8,261.9 L554.5,265.2 L556.1,269.1 L557.7,273.6 L559.4,277.5 L559.8,279.0 L561.0,278.9 L563.5,277.5 L566.7,275.8 L569.2,274.2 L570.8,272.1 L572.0,269.7 L573.1,268.0 L572.0,266.7 L570.4,265.8 L570.2,263.7 L568.4,266.1 L566.3,265.8 L565.9,264.1 L565.1,263.5 L563.9,261.3 L563.5,259.6 L565.1,259.3 L565.9,261.9 L567.5,263.0 L570.4,262.8 L571.6,264.4 L574.5,265.0 L578.6,264.8 L579.4,266.3 L580.6,268.0 L581.8,269.9 L583.7,271.9 L584.3,275.3 L585.1,278.1 L586.3,282.0 L587.6,284.2 L588.8,282.5 L589.6,279.7 L589.8,276.4 L591.2,274.7 L593.3,271.9 L595.3,269.1 L597.0,268.6 L599.0,268.0 L599.7,269.7 L601.0,273.0 L601.5,275.3 L603.9,274.7 L604.3,278.1 L604.7,282.0 L604.7,284.2 L606.1,287.0 L606.8,289.8 L608.8,291.7 L609.4,291.5 L608.8,288.7 L608.6,287.0 L607.2,285.6 L606.4,284.8 L605.5,282.0 L605.3,279.2 L605.9,278.1 L606.8,279.0 L608.4,280.3 L610.0,283.4 L611.3,281.4 L613.3,280.1 L613.5,278.1 L612.9,275.8 L611.3,273.6 L610.6,271.9 L611.4,270.2 L612.5,269.1 L614.1,269.5 L614.9,269.0 L617.0,268.1 L619.4,267.5 L621.1,265.7 L622.0,263.9 L623.5,261.5 L623.9,259.6 L623.1,258.5 L623.8,257.7 L622.7,256.3 L621.9,254.0 L622.7,252.7 L624.3,251.8 L623.5,251.0 L621.9,251.6 L621.1,250.7 L620.4,250.1 L620.6,249.4 L622.3,248.5 L623.5,247.3 L623.3,249.6 L623.9,249.0 L625.6,248.7 L626.4,250.9 L627.6,251.3 L627.4,254.6 L628.4,254.5 L629.9,253.7 L630.0,252.4 L630.0,250.7 L628.8,249.6 L628.8,248.5 L630.0,247.3 L630.9,245.9 L632.9,245.3 L634.9,244.2 L637.0,241.2 L638.9,239.0 L639.0,236.2 L639.7,233.9 L637.8,232.8 L636.2,232.8 L636.0,231.7 L637.0,230.0 L639.4,227.2 L641.1,226.9 L644.3,226.9 L647.6,227.2 L650.1,226.8 L650.9,226.1 L652.5,224.2 L655.0,224.4 L657.4,223.3 L658.6,223.3 L657.4,226.1 L656.4,228.3 L657.0,230.0 L655.8,233.4 L653.7,234.5 L652.1,236.2 L651.7,234.5 L651.5,231.1 L651.7,228.9 L653.3,228.3 L655.0,226.1 L655.8,225.0 L658.6,223.3 L663.1,226.1 L665.6,224.4 L668.8,223.3 L670.5,223.5 L671.3,220.5 L674.6,220.7 L677.0,221.3 L679.5,219.4 L677.0,217.7 L671.3,216.1 L667.2,215.2 L663.1,214.9 L659.9,215.5 L655.0,214.0 L648.4,213.8 L642.7,212.5 L638.6,212.1 L634.5,213.3 L630.5,213.8 L628.8,212.1 L626.4,211.0 L622.3,211.6 L616.6,210.8 L614.1,209.9 L612.5,208.2 L605.9,208.2 L601.9,208.5 L597.8,208.8 L595.3,210.5 L591.2,211.0 L589.6,212.4 L585.5,211.8 L583.5,213.8 L583.9,216.6 L581.4,218.5 L580.2,216.8 L579.0,214.4 L578.6,216.1 L573.3,216.3 L570.0,216.8 L567.5,216.6 L563.5,217.4 L560.2,216.7 L559.8,219.1 L556.9,218.8 L553.7,218.6 L557.7,217.4 L552.8,215.8 L548.8,214.9 L545.5,213.8 L540.6,214.9 L537.3,216.6 L534.9,217.7 L534.3,220.0 L532.4,221.9 L530.8,222.8 L528.3,223.9 L528.3,226.1 L528.7,227.5 L530.0,228.3 L530.8,228.1 L532.8,226.9 L533.2,227.5 L534.1,228.9 L534.6,230.6 L535.7,231.1 L537.3,230.2 L537.7,228.9 L539.4,226.7 L539.5,225.6 L538.5,224.4 L538.4,223.3 L541.4,221.3 L542.2,219.6 L544.9,220.2 L544.3,220.7 L541.8,222.2 L541.7,225.0 L542.9,226.1 L545.1,225.7 L547.5,225.6 L548.6,226.1 L547.1,226.7 L543.4,227.0 L543.9,228.0 L544.3,229.1 L541.8,229.1 L541.4,230.6 L541.6,231.5 L540.2,232.4 L538.1,232.0 L535.9,232.9 L534.1,232.6 L533.1,232.7 L532.4,232.0 L531.6,229.7 L532.8,228.8 L532.8,230.6 L530.9,231.1 L531.2,233.2 L530.0,233.4 L528.1,234.2 L527.1,235.7 L525.5,236.4 L525.5,237.3 L524.2,237.8 L523.2,238.7 L523.0,237.6 L520.6,238.8 L520.7,239.7 L522.6,240.3 L523.3,241.5 L523.2,243.4 L522.8,244.7 L521.0,244.5 L517.7,244.3 L516.7,245.1 M222.6,245.1 L222.8,249.6 L222.8,251.8 L225.2,252.4 L225.7,252.9 L228.5,252.1 L230.2,250.1 L230.2,249.0 L232.6,246.2 L233.0,244.8 L235.1,245.1 L236.7,244.0 L237.9,243.8 L238.7,245.1 L240.4,246.8 L242.8,248.5 L243.2,250.7 L244.0,249.6 L245.3,248.2 L244.0,247.3 L243.2,246.4 L241.6,245.7 L240.4,243.4 L240.4,242.3 L241.3,242.1 L242.4,242.9 L244.0,245.1 L246.1,246.4 L246.1,248.5 L247.3,250.7 L248.5,252.4 L248.9,250.7 L249.8,250.1 L248.9,248.1 L251.4,247.6 L251.4,248.5 L251.8,250.1 L252.6,251.8 L253.8,252.4 L256.3,252.7 L259.6,252.4 L259.6,252.9 L259.4,254.0 L258.7,256.3 L258.3,258.0 L256.7,258.4 L256.8,259.6 L257.9,261.9 L258.7,261.9 L260.4,265.2 L262.0,269.1 L263.6,273.6 L265.3,277.5 L265.7,279.0 L266.9,278.9 L269.4,277.5 L272.6,275.8 L275.1,274.2 L276.7,272.1 L277.9,269.7 L279.0,268.0 L277.9,266.7 L276.3,265.8 L276.1,263.7 L274.3,266.1 L272.2,265.8 L271.8,264.1 L271.0,263.5 L269.8,261.3 L269.4,259.6 L271.0,259.3 L271.8,261.9 L273.4,263.0 L276.3,262.8 L277.5,264.4 L280.4,265.0 L284.5,264.8 L285.3,266.3 L286.5,268.0 L287.7,269.9 L289.6,271.9 L290.2,275.3 L291.0,278.1 L292.2,282.0 L293.5,284.2 L294.7,282.5 L295.5,279.7 L295.7,276.4 L297.1,274.7 L299.2,271.9 L301.2,269.1 L302.9,268.6 L304.9,268.0 L305.6,269.7 L306.9,273.0 L307.4,275.3 L309.8,274.7 L310.2,278.1 L310.6,282.0 L310.6,284.2 L312.0,287.0 L312.7,289.8 L314.7,291.7 L315.3,291.5 L314.7,288.7 L314.5,287.0 L313.1,285.6 L312.3,284.8 L311.4,282.0 L311.2,279.2 L311.8,278.1 L312.7,279.0 L314.3,280.3 L315.9,283.4 L317.2,281.4 L319.2,280.1 L319.4,278.1 L318.8,275.8 L317.2,273.6 L316.5,271.9 L317.3,270.2 L318.4,269.1 L320.0,269.5 L320.8,269.0 L322.9,268.1 L325.3,267.5 L327.0,265.7 L327.9,263.9 L329.4,261.5 L329.8,259.6 L329.0,258.5 L329.7,257.7 L328.6,256.3 L327.8,254.0 L328.6,252.7 L330.2,251.8 L329.4,251.0 L327.8,251.6 L327.0,250.7 L326.3,250.1 L326.5,249.4 L328.2,248.5 L329.4,247.3 L329.2,249.6 L329.8,249.0 L331.5,248.7 L332.3,250.9 L333.5,251.3 L333.3,254.6 L334.3,254.5 L335.8,253.7 L335.9,252.4 L335.9,250.7 L334.7,249.6 L334.7,248.5 L335.9,247.3 L336.8,245.9 L338.8,245.3 L340.8,244.2 L342.9,241.2 L344.8,239.0 L344.9,236.2 L345.6,233.9 L343.7,232.8 L342.1,232.8 L341.9,231.7 L342.9,230.0 L345.3,227.2 L347.0,226.9 L350.2,226.9 L353.5,227.2 L356.0,226.8 L356.8,226.1 L358.4,224.2 L360.9,224.4 L363.3,223.3 L364.5,223.3 L363.3,226.1 L362.3,228.3 L362.9,230.0 L361.7,233.4 L359.6,234.5 L358.0,236.2 L357.6,234.5 L357.4,231.1 L357.6,228.9 L359.2,228.3 L360.9,226.1 L361.7,225.0 L364.5,223.3 L369.0,226.1 L371.5,224.4 L374.7,223.3 L376.4,223.5 L377.2,220.5 L380.5,220.7 L382.9,221.3 L385.4,219.4 L382.9,217.7 L377.2,216.1 L373.1,215.2 L369.0,214.9 L365.8,215.5 L360.9,214.0 L354.3,213.8 L348.6,212.5 L344.5,212.1 L340.4,213.3 L336.4,213.8 L334.7,212.1 L332.3,211.0 L328.2,211.6 L322.5,210.8 L320.0,209.9 L318.4,208.2 L311.8,208.2 L307.8,208.5 L303.7,208.8 L301.2,210.5 L297.1,211.0 L295.5,212.4 L291.4,211.8 L289.4,213.8 L289.8,216.6 L287.3,218.5 L286.1,216.8 L284.9,214.4 L284.5,216.1 L279.2,216.3 L275.9,216.8 L273.4,216.6 L269.4,217.4 L266.1,216.7 L265.7,219.1 L262.8,218.8 L259.6,218.6 L263.6,217.4 L258.7,215.8 L254.7,214.9 L251.4,213.8 L246.5,214.9 L243.2,216.6 L240.8,217.7 L240.2,220.0 L238.3,221.9 L236.7,222.8 L234.2,223.9 L234.2,226.1 L234.6,227.5 L235.9,228.3 L236.7,228.1 L238.7,226.9 L239.1,227.5 L240.0,228.9 L240.5,230.6 L241.6,231.1 L243.2,230.2 L243.6,228.9 L245.3,226.7 L245.4,225.6 L244.4,224.4 L244.3,223.3 L247.3,221.3 L248.1,219.6 L250.8,220.2 L250.2,220.7 L247.7,222.2 L247.6,225.0 L248.8,226.1 L251.0,225.7 L253.4,225.6 L254.5,226.1 L253.0,226.7 L249.3,227.0 L249.8,228.0 L250.2,229.1 L247.7,229.1 L247.3,230.6 L247.5,231.5 L246.1,232.4 L244.0,232.0 L241.8,232.9 L240.0,232.6 L239.0,232.7 L238.3,232.0 L237.5,229.7 L238.7,228.8 L238.7,230.6 L236.8,231.1 L237.1,233.2 L235.9,233.4 L234.0,234.2 L233.0,235.7 L231.4,236.4 L231.4,237.3 L230.2,237.8 L229.1,238.7 L228.9,237.6 L226.5,238.8 L226.6,239.7 L228.5,240.3 L229.2,241.5 L229.1,243.4 L228.7,244.7 L226.9,244.5 L223.6,244.3 L222.6,245.1 M547.1,246.8 L547.9,247.1 L549.8,247.1 L552.8,246.2 L555.3,247.3 L558.2,246.8 L558.2,245.7 L556.9,244.5 L554.9,243.2 L554.1,242.5 L552.8,242.9 L551.6,243.4 L550.8,242.5 L551.6,241.8 L549.6,241.1 L548.8,242.0 L548.4,242.6 L547.7,243.7 L547.0,245.3 L547.1,246.8 M562.6,243.4 L564.7,241.2 L566.1,240.6 L567.5,240.9 L567.5,242.9 L566.2,243.4 L565.9,245.1 L567.2,246.4 L568.4,247.6 L567.5,249.0 L568.4,251.5 L565.9,252.0 L564.3,251.3 L564.1,250.1 L564.7,248.1 L563.5,246.2 L563.1,245.1 L562.6,243.4 M519.6,237.3 L521.8,236.6 L525.4,235.9 L525.6,234.3 L524.4,233.4 L524.1,232.5 L523.0,231.1 L522.6,230.0 L522.8,228.8 L521.4,228.7 L521.8,227.7 L520.2,227.7 L519.3,228.9 L519.6,230.6 L520.2,231.7 L521.6,231.8 L521.6,233.6 L520.6,233.6 L520.8,234.8 L520.0,235.4 L521.4,235.7 L519.6,237.3 M519.3,234.8 L519.2,233.0 L519.8,231.9 L518.1,231.4 L517.3,232.3 L516.1,233.0 L516.7,234.5 L515.8,235.3 L517.3,235.5 L519.3,234.8 M505.9,221.6 L506.3,220.0 L504.6,219.4 L506.3,219.1 L511.2,218.8 L512.4,220.0 L513.2,220.5 L512.0,221.3 L508.9,222.3 L505.9,221.6 M631.2,255.2 L632.5,253.5 L634.9,253.4 L636.0,251.5 L637.4,250.7 L638.6,247.9 L639.8,247.0 L640.3,249.0 L639.4,250.4 L639.4,252.4 L639.3,254.0 L638.5,254.2 L637.6,254.4 L636.2,254.6 L634.9,255.7 L633.3,254.8 L631.2,255.2 M630.3,255.7 L631.7,255.4 L631.9,257.1 L631.3,258.3 L630.6,258.2 L630.3,256.5 L630.3,255.7 M638.6,246.2 L639.0,244.8 L640.0,242.4 L641.5,243.8 L643.1,244.8 L641.3,246.2 L639.8,245.7 L638.6,246.2 M640.3,241.8 L641.5,241.0 L641.1,238.4 L642.3,238.4 L641.1,235.1 L641.1,232.5 L640.7,232.5 L640.3,235.6 L640.3,240.1 L640.3,241.8 M622.4,267.9 L622.9,268.7 L623.8,265.4 L623.6,265.0 L622.4,266.9 L622.4,267.9 M622.3,272.5 L624.2,272.5 L623.9,274.7 L623.5,277.0 L625.6,278.6 L622.8,277.7 L622.3,275.3 L622.3,272.5 M623.9,285.3 L625.6,283.7 L626.8,282.5 L627.6,284.8 L626.8,286.5 L625.6,286.1 L623.9,285.3 M602.1,286.9 L603.9,287.3 L606.4,290.7 L609.2,294.3 L610.8,296.5 L610.7,299.6 L609.6,299.7 L607.8,297.6 L606.8,295.4 L604.7,291.1 L602.1,286.9 M610.2,300.8 L611.3,299.9 L612.9,300.4 L614.9,300.4 L616.2,300.9 L617.8,301.8 L617.8,302.9 L614.9,302.3 L612.5,301.9 L610.8,301.5 L610.2,300.8 M613.3,291.5 L614.1,294.8 L614.9,296.5 L617.8,297.6 L619.4,296.8 L619.0,294.3 L620.5,292.0 L621.5,287.6 L620.2,285.3 L619.0,285.9 L618.2,287.6 L617.0,289.2 L615.3,290.6 L613.7,291.1 L613.3,291.5 M621.9,299.3 L622.7,295.9 L623.1,292.0 L626.4,291.5 L623.8,292.8 L624.7,294.0 L623.5,295.2 L624.3,298.2 L623.1,296.3 L622.7,299.3 L621.9,299.3 M631.3,294.3 L633.7,294.0 L634.9,296.8 L637.0,295.2 L639.4,296.1 L642.3,297.4 L643.5,299.3 L645.2,302.1 L647.2,304.9 L644.3,304.3 L643.5,302.1 L641.5,303.2 L640.3,303.4 L639.4,303.2 L637.4,302.4 L637.0,301.5 L636.6,298.7 L634.5,298.0 L632.9,297.6 L632.1,296.3 L631.3,294.3 M617.0,317.7 L617.4,322.2 L618.2,326.7 L618.8,330.6 L618.2,331.5 L620.2,332.3 L622.3,331.0 L625.1,331.0 L627.2,329.2 L629.6,328.5 L631.7,328.4 L633.7,329.7 L635.2,332.0 L636.6,330.0 L637.0,332.8 L638.2,333.2 L638.6,335.1 L641.1,336.5 L643.8,336.8 L645.2,335.4 L646.8,335.1 L647.4,331.7 L648.8,328.9 L649.7,325.0 L649.2,321.6 L647.4,318.5 L646.0,316.1 L643.8,314.4 L643.1,309.9 L641.5,308.8 L640.7,305.1 L639.9,307.7 L639.8,311.0 L639.0,312.7 L637.8,312.2 L635.4,309.9 L635.8,308.2 L636.0,306.6 L634.5,306.8 L632.5,306.0 L630.9,306.9 L630.0,309.9 L628.8,309.9 L627.2,308.8 L625.6,311.6 L624.2,313.3 L623.1,314.9 L620.6,315.8 L619.0,316.4 L617.4,317.5 L617.0,317.7 M642.5,338.6 L645.4,338.9 L645.2,341.4 L643.5,341.9 L642.5,338.6 M665.3,331.6 L666.8,333.9 L667.9,334.5 L670.1,335.3 L668.8,337.1 L668.0,339.5 L667.0,339.3 L667.2,337.3 L666.2,337.0 L666.9,335.1 L665.3,331.6 M665.3,338.4 L666.6,339.8 L665.6,341.8 L664.4,342.7 L663.5,344.6 L661.9,345.2 L660.3,344.6 L661.5,342.3 L663.5,340.9 L664.8,339.0 L665.3,338.4 M519.4,253.2 L522.6,253.9 L525.1,252.4 L526.7,252.0 L531.2,251.9 L532.8,251.6 L533.2,252.0 L532.8,253.5 L533.2,254.6 L532.4,255.4 L533.6,256.3 L536.5,257.0 L539.8,259.3 L540.6,258.5 L540.6,257.2 L542.2,256.4 L544.7,257.6 L547.9,258.6 L550.6,258.2 L550.9,259.6 L550.8,260.2 L551.6,262.4 L552.8,266.3 L554.7,269.7 L555.7,273.0 L556.5,275.8 L558.2,278.1 L559.6,279.2 L560.2,281.4 L562.6,280.6 L566.1,280.0 L565.9,281.4 L564.3,286.5 L562.6,289.2 L560.2,292.6 L558.2,295.1 L556.9,297.1 L556.4,298.7 L556.3,301.5 L556.8,304.3 L557.3,306.6 L557.4,309.9 L554.9,312.9 L553.3,316.6 L553.3,320.0 L551.2,321.6 L551.0,325.0 L549.6,326.7 L547.9,329.2 L546.3,330.7 L544.7,331.1 L542.6,331.1 L540.6,332.0 L539.4,331.1 L539.0,329.5 L538.1,326.1 L536.9,323.3 L536.1,318.9 L534.9,315.5 L533.9,312.2 L534.5,307.7 L535.3,305.4 L534.1,299.9 L534.2,298.7 L532.0,295.4 L531.8,293.2 L532.3,290.4 L532.0,288.7 L531.2,288.1 L529.2,288.4 L527.9,286.1 L525.9,286.1 L523.4,287.6 L521.8,287.6 L518.1,288.2 L516.5,287.0 L514.9,285.6 L513.5,283.7 L512.0,281.1 L510.6,279.2 L510.2,276.7 L510.8,274.7 L511.0,271.4 L510.4,269.7 L512.0,266.3 L513.2,263.5 L515.3,261.9 L516.2,260.2 L516.5,256.8 L518.5,255.4 L519.4,253.2 M564.5,306.6 L565.5,310.5 L564.7,312.7 L563.9,316.6 L562.6,321.1 L561.0,321.6 L559.8,317.7 L560.4,314.4 L560.2,312.2 L562.2,310.7 L563.5,308.8 L564.5,306.6 M589.4,282.2 L591.1,284.8 L590.4,286.5 L589.6,286.2 L589.4,282.2 M566.7,213.8 L567.5,211.6 L570.0,209.9 L573.3,208.2 L571.6,210.5 L570.0,212.7 L569.2,214.0 L566.7,213.8" fill="none" stroke="#000" stroke-width="0.85" stroke-linejoin="round" clip-path="url(#clip1)"/>
<path d="M377.20,360.20v-6.50 M377.20,209.35v6.50 M401.71,360.20v-6.50 M401.71,209.35v6.50 M426.22,360.20v-6.50 M426.22,209.35v6.50 M450.72,360.20v-6.50 M450.72,209.35v6.50 M475.23,360.20v-6.50 M475.23,209.35v6.50 M499.74,360.20v-6.50 M499.74,209.35v6.50 M524.25,360.20v-6.50 M524.25,209.35v6.50 M548.76,360.20v-6.50 M548.76,209.35v6.50 M573.27,360.20v-6.50 M573.27,209.35v6.50 M597.77,360.20v-6.50 M597.77,209.35v6.50 M622.28,360.20v-6.50 M622.28,209.35v6.50 M646.79,360.20v-6.50 M646.79,209.35v6.50 M671.30,360.20v-6.50 M671.30,209.35v6.50 M377.20,209.35h10.50 M671.30,209.35h-10.50 M377.20,217.73h6.80 M671.30,217.73h-6.80 M377.20,226.11h10.50 M671.30,226.11h-10.50 M377.20,234.49h6.80 M671.30,234.49h-6.80 M377.20,242.87h10.50 M671.30,242.87h-10.50 M377.20,251.25h6.80 M671.30,251.25h-6.80 M377.20,259.63h10.50 M671.30,259.63h-10.50 M377.20,268.01h6.80 M671.30,268.01h-6.80 M377.20,276.39h10.50 M671.30,276.39h-10.50 M377.20,284.77h6.80 M671.30,284.77h-6.80 M377.20,293.16h10.50 M671.30,293.16h-10.50 M377.20,301.54h6.80 M671.30,301.54h-6.80 M377.20,309.92h10.50 M671.30,309.92h-10.50 M377.20,318.30h6.80 M671.30,318.30h-6.80 M377.20,326.68h10.50 M671.30,326.68h-10.50 M377.20,335.06h6.80 M671.30,335.06h-6.80 M377.20,343.44h10.50 M671.30,343.44h-10.50 M377.20,351.82h6.80 M671.30,351.82h-6.80 M377.20,360.20h10.50 M671.30,360.20h-10.50" stroke="#000" stroke-width="1.3" fill="none"/>
<rect x="377.20" y="209.35" width="294.10" height="150.85" fill="none" stroke="#000" stroke-width="1.5"/>
<text transform="translate(371.80,212.55) scale(1.120,1)" text-anchor="end" font-size="8.60" fill="#333">75</text>
<text transform="translate(371.80,229.31) scale(1.120,1)" text-anchor="end" font-size="8.60" fill="#333">60</text>
<text transform="translate(371.80,246.07) scale(1.120,1)" text-anchor="end" font-size="8.60" fill="#333">45</text>
<text transform="translate(371.80,262.83) scale(1.120,1)" text-anchor="end" font-size="8.60" fill="#333">30</text>
<text transform="translate(371.80,279.59) scale(1.120,1)" text-anchor="end" font-size="8.60" fill="#333">15</text>
<text transform="translate(371.80,296.36) scale(1.120,1)" text-anchor="end" font-size="8.60" fill="#333">0</text>
<rect x="353.79" y="309.57" width="6.00" height="0.95" fill="#333"/><text transform="translate(361.09,313.12) scale(1.120,1)" text-anchor="start" font-size="8.60" fill="#333">15</text>
<rect x="353.79" y="326.33" width="6.00" height="0.95" fill="#333"/><text transform="translate(361.09,329.88) scale(1.120,1)" text-anchor="start" font-size="8.60" fill="#333">30</text>
<rect x="353.79" y="343.09" width="6.00" height="0.95" fill="#333"/><text transform="translate(361.09,346.64) scale(1.120,1)" text-anchor="start" font-size="8.60" fill="#333">45</text>
<rect x="353.79" y="359.85" width="6.00" height="0.95" fill="#333"/><text transform="translate(361.09,363.40) scale(1.120,1)" text-anchor="start" font-size="8.60" fill="#333">60</text>
<rect x="365.67" y="370.75" width="6.00" height="0.95" fill="#333"/><text transform="translate(372.97,374.30) scale(1.120,1)" text-anchor="start" font-size="8.60" fill="#333">180</text>
<rect x="414.68" y="370.75" width="6.00" height="0.95" fill="#333"/><text transform="translate(421.98,374.30) scale(1.120,1)" text-anchor="start" font-size="8.60" fill="#333">120</text>
<rect x="466.38" y="370.75" width="6.00" height="0.95" fill="#333"/><text transform="translate(473.68,374.30) scale(1.120,1)" text-anchor="start" font-size="8.60" fill="#333">60</text>
<text transform="translate(524.25,374.30) scale(1.120,1)" text-anchor="middle" font-size="8.60" fill="#333">0</text>
<text transform="translate(573.27,374.30) scale(1.120,1)" text-anchor="middle" font-size="8.60" fill="#333">60</text>
<text transform="translate(622.28,374.30) scale(1.120,1)" text-anchor="middle" font-size="8.60" fill="#333">120</text>
<text transform="translate(671.30,374.30) scale(1.120,1)" text-anchor="middle" font-size="8.60" fill="#333">180</text>
<text x="385.3" y="14.9" font-size="13.1" fill="#111">(b) EOF 1, norm=0</text>
<text x="571" y="15.0" font-size="13.1" fill="#111">Spatial Patterns</text>
<text x="378.3" y="202.6" font-size="13" fill="#111">(d) S.D.(x3) of Tas, 1950-1979;&#160; r(SD,EOF1)=0.62</text>
<rect x="374.60" y="380.10" width="14.40" height="14.80" fill="#0a28c8"/>
<rect x="389.60" y="380.10" width="14.40" height="14.80" fill="#0a3cf5"/>
<rect x="404.60" y="380.10" width="14.40" height="14.80" fill="#148cf5"/>
<rect x="419.60" y="380.10" width="14.40" height="14.80" fill="#3cc8f5"/>
<rect x="434.60" y="380.10" width="14.40" height="14.80" fill="#64f5fa"/>
<rect x="449.60" y="380.10" width="14.40" height="14.80" fill="#90f8ff"/>
<rect x="464.60" y="380.10" width="14.40" height="14.80" fill="#64f0a0"/>
<rect x="479.60" y="380.10" width="14.40" height="14.80" fill="#64fa00"/>
<rect x="494.60" y="380.10" width="14.40" height="14.80" fill="#96f014"/>
<rect x="509.60" y="380.10" width="14.40" height="14.80" fill="#c8fa00"/>
<rect x="524.60" y="380.10" width="14.40" height="14.80" fill="#fbfa64"/>
<rect x="539.60" y="380.10" width="14.40" height="14.80" fill="#fdcb3c"/>
<rect x="554.60" y="380.10" width="14.40" height="14.80" fill="#fd9836"/>
<rect x="569.60" y="380.10" width="14.40" height="14.80" fill="#ff6432"/>
<rect x="584.60" y="380.10" width="14.40" height="14.80" fill="#f5005a"/>
<rect x="599.60" y="380.10" width="14.40" height="14.80" fill="#d23200"/>
<rect x="614.60" y="380.10" width="14.40" height="14.80" fill="#a0006e"/>
<rect x="629.60" y="380.10" width="14.40" height="14.80" fill="#d200ff"/>
<rect x="644.60" y="380.10" width="14.40" height="14.80" fill="#ff64ff"/>
<rect x="659.60" y="380.10" width="14.40" height="14.80" fill="#ffcdff"/>
<text transform="translate(374.30,404.70) scale(1.100,1)" text-anchor="middle" font-size="8.00" fill="#222">-15.0</text>
<text transform="translate(404.30,404.70) scale(1.100,1)" text-anchor="middle" font-size="8.00" fill="#222">-12.0</text>
<text transform="translate(434.30,404.70) scale(1.100,1)" text-anchor="middle" font-size="8.00" fill="#222">-9.0</text>
<text transform="translate(464.30,404.70) scale(1.100,1)" text-anchor="middle" font-size="8.00" fill="#222">-6.0</text>
<text transform="translate(494.30,404.70) scale(1.100,1)" text-anchor="middle" font-size="8.00" fill="#222">-3.0</text>
<text transform="translate(524.30,404.70) scale(1.100,1)" text-anchor="middle" font-size="8.00" fill="#222">0.0</text>
<text transform="translate(554.30,404.70) scale(1.100,1)" text-anchor="middle" font-size="8.00" fill="#222">3.0</text>
<text transform="translate(584.30,404.70) scale(1.100,1)" text-anchor="middle" font-size="8.00" fill="#222">6.0</text>
<text transform="translate(614.30,404.70) scale(1.100,1)" text-anchor="middle" font-size="8.00" fill="#222">9.0</text>
<text transform="translate(644.30,404.70) scale(1.100,1)" text-anchor="middle" font-size="8.00" fill="#222">12.0</text>
<text transform="translate(674.30,404.70) scale(1.100,1)" text-anchor="middle" font-size="8.00" fill="#222">15.0</text>
</svg>
</body></html>
